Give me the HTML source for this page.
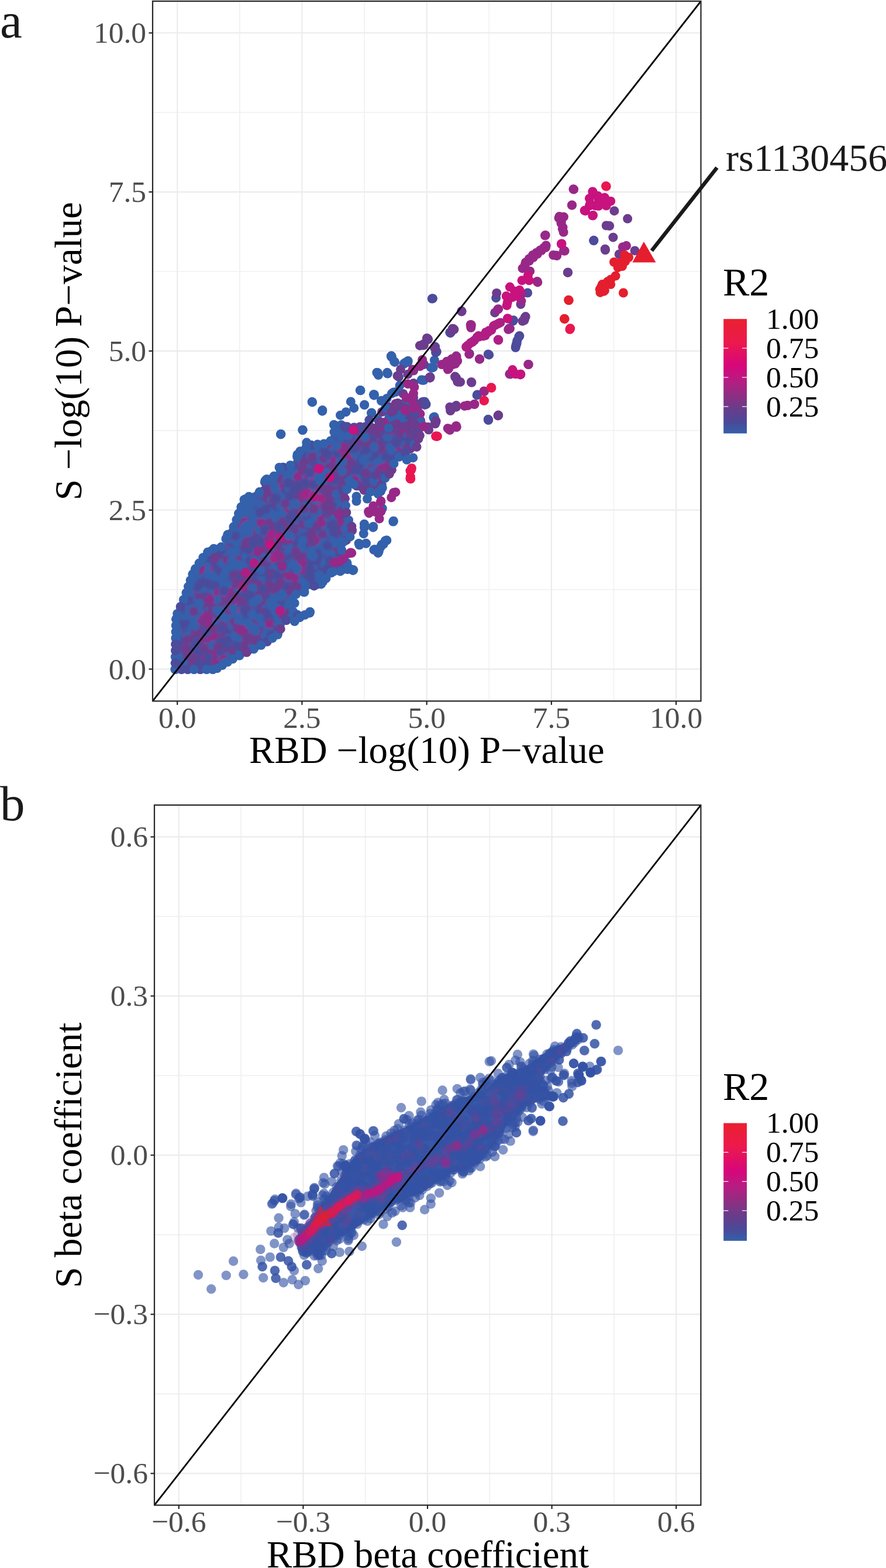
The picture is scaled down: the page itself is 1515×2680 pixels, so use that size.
<!DOCTYPE html><html><head><meta charset="utf-8"><style>html,body{margin:0;padding:0;background:#fff;overflow:hidden}svg{display:block}</style></head><body>
<svg width="1515" height="2680" viewBox="0 0 1515 2680" font-family="'Liberation Serif', 'Times New Roman', serif">
<defs>
<linearGradient id="g0" x1="0" y1="0" x2="0" y2="1"><stop offset="0.0" stop-color="#EA2030"/><stop offset="0.2" stop-color="#EC1A4C"/><stop offset="0.4" stop-color="#D8067A"/><stop offset="0.55" stop-color="#B41E82"/><stop offset="0.68" stop-color="#8A3082"/><stop offset="0.78" stop-color="#6A3C8A"/><stop offset="0.9" stop-color="#4C4898"/><stop offset="1.0" stop-color="#3460AA"/></linearGradient>
<linearGradient id="g1" x1="0" y1="0" x2="0" y2="1"><stop offset="0.0" stop-color="#EA2030"/><stop offset="0.2" stop-color="#EC1A4C"/><stop offset="0.4" stop-color="#D8067A"/><stop offset="0.55" stop-color="#B41E82"/><stop offset="0.68" stop-color="#8A3082"/><stop offset="0.78" stop-color="#6A3C8A"/><stop offset="0.9" stop-color="#4C4898"/><stop offset="1.0" stop-color="#3460AA"/></linearGradient>
<clipPath id="ca"><rect x="261.0" y="2.0" width="937.5" height="1196.3"/></clipPath>
<clipPath id="cb"><rect x="264.0" y="1376.0" width="934.4000000000001" height="1196.6"/></clipPath>
</defs>
<rect width="1515" height="2680" fill="#fff"/>
<rect x="261.0" y="2.0" width="937.5" height="1196.3" fill="#fff"/>
<line x1="409.8" y1="2.0" x2="409.8" y2="1198.3" stroke="#F0F0F0" stroke-width="1.6"/>
<line x1="623.0" y1="2.0" x2="623.0" y2="1198.3" stroke="#F0F0F0" stroke-width="1.6"/>
<line x1="836.3" y1="2.0" x2="836.3" y2="1198.3" stroke="#F0F0F0" stroke-width="1.6"/>
<line x1="1049.5" y1="2.0" x2="1049.5" y2="1198.3" stroke="#F0F0F0" stroke-width="1.6"/>
<line x1="261.0" y1="1007.7" x2="1198.5" y2="1007.7" stroke="#F0F0F0" stroke-width="1.6"/>
<line x1="261.0" y1="735.9" x2="1198.5" y2="735.9" stroke="#F0F0F0" stroke-width="1.6"/>
<line x1="261.0" y1="464.0" x2="1198.5" y2="464.0" stroke="#F0F0F0" stroke-width="1.6"/>
<line x1="261.0" y1="192.2" x2="1198.5" y2="192.2" stroke="#F0F0F0" stroke-width="1.6"/>
<line x1="303.2" y1="2.0" x2="303.2" y2="1198.3" stroke="#EBEBEB" stroke-width="2.1"/>
<line x1="516.4" y1="2.0" x2="516.4" y2="1198.3" stroke="#EBEBEB" stroke-width="2.1"/>
<line x1="729.7" y1="2.0" x2="729.7" y2="1198.3" stroke="#EBEBEB" stroke-width="2.1"/>
<line x1="942.9" y1="2.0" x2="942.9" y2="1198.3" stroke="#EBEBEB" stroke-width="2.1"/>
<line x1="1156.1" y1="2.0" x2="1156.1" y2="1198.3" stroke="#EBEBEB" stroke-width="2.1"/>
<line x1="261.0" y1="1143.6" x2="1198.5" y2="1143.6" stroke="#EBEBEB" stroke-width="2.1"/>
<line x1="261.0" y1="871.8" x2="1198.5" y2="871.8" stroke="#EBEBEB" stroke-width="2.1"/>
<line x1="261.0" y1="599.9" x2="1198.5" y2="599.9" stroke="#EBEBEB" stroke-width="2.1"/>
<line x1="261.0" y1="328.1" x2="1198.5" y2="328.1" stroke="#EBEBEB" stroke-width="2.1"/>
<line x1="261.0" y1="56.3" x2="1198.5" y2="56.3" stroke="#EBEBEB" stroke-width="2.1"/>
<g clip-path="url(#ca)">
<defs><filter id="bl" x="-5%" y="-5%" width="110%" height="110%"><feGaussianBlur stdDeviation="1.6"/></filter><clipPath id="cpa"><polygon points="294.3,1149.3 296.0,1052.9 312.0,1017.0 319.0,995.7 326.4,974.3 346.5,945.3 356.8,935.0 371.3,930.9 383.6,928.8 379.5,916.5 391.9,904.1 397.9,892.1 405.0,870.7 415.7,845.7 433.6,842.1 447.9,831.4 447.9,817.1 472.9,806.4 476.4,795.7 501.4,788.6 505.0,770.7 526.4,756.4 558.6,752.9 565.0,747.0 568.0,728.0 580.0,720.0 600.0,726.0 620.0,724.0 640.0,726.0 660.0,722.0 680.0,724.0 700.0,722.0 715.0,728.0 724.0,745.0 715.7,760.0 701.4,774.3 680.0,788.6 672.9,810.0 658.6,824.3 655.0,845.7 626.4,845.7 601.4,831.4 594.3,845.7 597.9,881.4 608.6,902.9 601.4,924.3 587.1,931.4 590.7,945.7 605.0,974.3 587.1,981.4 565.7,981.4 558.6,999.3 544.3,1006.4 515.7,1006.4 494.3,1017.1 508.6,1024.3 501.4,1038.6 515.7,1052.9 487.1,1067.1 482.0,1086.0 455.0,1104.0 430.0,1117.0 405.0,1127.9 387.1,1138.6 369.3,1149.3"/></clipPath></defs>
<polygon points="294.3,1149.3 296.0,1052.9 312.0,1017.0 319.0,995.7 326.4,974.3 346.5,945.3 356.8,935.0 371.3,930.9 383.6,928.8 379.5,916.5 391.9,904.1 397.9,892.1 405.0,870.7 415.7,845.7 433.6,842.1 447.9,831.4 447.9,817.1 472.9,806.4 476.4,795.7 501.4,788.6 505.0,770.7 526.4,756.4 558.6,752.9 565.0,747.0 568.0,728.0 580.0,720.0 600.0,726.0 620.0,724.0 640.0,726.0 660.0,722.0 680.0,724.0 700.0,722.0 715.0,728.0 724.0,745.0 715.7,760.0 701.4,774.3 680.0,788.6 672.9,810.0 658.6,824.3 655.0,845.7 626.4,845.7 601.4,831.4 594.3,845.7 597.9,881.4 608.6,902.9 601.4,924.3 587.1,931.4 590.7,945.7 605.0,974.3 587.1,981.4 565.7,981.4 558.6,999.3 544.3,1006.4 515.7,1006.4 494.3,1017.1 508.6,1024.3 501.4,1038.6 515.7,1052.9 487.1,1067.1 482.0,1086.0 455.0,1104.0 430.0,1117.0 405.0,1127.9 387.1,1138.6 369.3,1149.3" fill="#4553A2"/>
<g clip-path="url(#cpa)"><g filter="url(#bl)">
<circle cx="411.4" cy="1065.6" r="8.0" fill="#4C4B9C"/>
<circle cx="421.2" cy="889.2" r="8.0" fill="#6C3C8E"/>
<circle cx="472.5" cy="818.5" r="8.0" fill="#6C3C8E"/>
<circle cx="601.2" cy="807.5" r="8.0" fill="#3461AC"/>
<circle cx="549.3" cy="827.7" r="8.0" fill="#3461AC"/>
<circle cx="456.2" cy="937.1" r="8.0" fill="#3461AC"/>
<circle cx="537.0" cy="877.9" r="8.0" fill="#6C3C8E"/>
<circle cx="394.6" cy="911.2" r="8.0" fill="#3461AC"/>
<circle cx="432.9" cy="1007.1" r="8.0" fill="#4C4B9C"/>
<circle cx="525.1" cy="945.9" r="8.0" fill="#3461AC"/>
<circle cx="462.0" cy="974.9" r="8.0" fill="#3461AC"/>
<circle cx="471.8" cy="1066.3" r="8.0" fill="#3461AC"/>
<circle cx="452.7" cy="1087.4" r="8.0" fill="#6C3C8E"/>
<circle cx="592.1" cy="884.2" r="8.0" fill="#6C3C8E"/>
<circle cx="497.3" cy="939.8" r="8.0" fill="#4C4B9C"/>
<circle cx="581.6" cy="953.1" r="8.0" fill="#3461AC"/>
<circle cx="517.8" cy="963.7" r="8.0" fill="#6C3C8E"/>
<circle cx="358.1" cy="1091.9" r="8.0" fill="#3461AC"/>
<circle cx="485.7" cy="887.6" r="8.0" fill="#6C3C8E"/>
<circle cx="506.9" cy="802.2" r="8.0" fill="#4C4B9C"/>
<circle cx="601.8" cy="736.2" r="8.0" fill="#4C4B9C"/>
<circle cx="379.3" cy="1111.6" r="8.0" fill="#4C4B9C"/>
<circle cx="571.2" cy="839.2" r="8.0" fill="#6C3C8E"/>
<circle cx="579.0" cy="882.4" r="8.0" fill="#4C4B9C"/>
<circle cx="461.5" cy="865.6" r="8.0" fill="#4C4B9C"/>
<circle cx="416.6" cy="859.5" r="8.0" fill="#3461AC"/>
<circle cx="439.4" cy="951.5" r="8.0" fill="#4C4B9C"/>
<circle cx="430.6" cy="897.8" r="8.0" fill="#4C4B9C"/>
<circle cx="378.0" cy="1014.9" r="8.0" fill="#4C4B9C"/>
<circle cx="429.4" cy="956.7" r="8.0" fill="#6C3C8E"/>
<circle cx="488.1" cy="1016.2" r="8.0" fill="#4C4B9C"/>
<circle cx="651.3" cy="746.0" r="8.0" fill="#4C4B9C"/>
<circle cx="449.5" cy="909.0" r="8.0" fill="#4C4B9C"/>
<circle cx="475.5" cy="817.9" r="8.0" fill="#3461AC"/>
<circle cx="426.7" cy="1062.7" r="8.0" fill="#6C3C8E"/>
<circle cx="575.9" cy="772.9" r="8.0" fill="#8A2E8A"/>
<circle cx="437.5" cy="948.5" r="8.0" fill="#A02587"/>
<circle cx="396.7" cy="1109.0" r="8.0" fill="#6C3C8E"/>
<circle cx="323.4" cy="1117.3" r="8.0" fill="#6C3C8E"/>
<circle cx="367.9" cy="976.7" r="8.0" fill="#4C4B9C"/>
<circle cx="496.7" cy="979.5" r="8.0" fill="#3461AC"/>
<circle cx="416.7" cy="962.5" r="8.0" fill="#6C3C8E"/>
<circle cx="493.9" cy="1045.0" r="8.0" fill="#4C4B9C"/>
<circle cx="446.4" cy="1061.0" r="8.0" fill="#3461AC"/>
<circle cx="638.8" cy="802.0" r="8.0" fill="#8A2E8A"/>
<circle cx="352.0" cy="1088.5" r="8.0" fill="#6C3C8E"/>
<circle cx="553.2" cy="886.9" r="8.0" fill="#6C3C8E"/>
<circle cx="461.8" cy="876.8" r="8.0" fill="#3461AC"/>
<circle cx="456.4" cy="1051.5" r="8.0" fill="#3461AC"/>
<circle cx="634.1" cy="801.8" r="8.0" fill="#6C3C8E"/>
<circle cx="359.2" cy="968.8" r="8.0" fill="#4C4B9C"/>
<circle cx="573.7" cy="731.4" r="8.0" fill="#3461AC"/>
<circle cx="429.9" cy="910.1" r="8.0" fill="#6C3C8E"/>
<circle cx="408.3" cy="939.5" r="8.0" fill="#3461AC"/>
<circle cx="308.6" cy="1062.3" r="8.0" fill="#3461AC"/>
<circle cx="453.6" cy="937.8" r="8.0" fill="#4C4B9C"/>
<circle cx="351.8" cy="1106.7" r="8.0" fill="#3461AC"/>
<circle cx="572.3" cy="781.1" r="8.0" fill="#3461AC"/>
<circle cx="536.6" cy="764.3" r="8.0" fill="#4C4B9C"/>
<circle cx="594.9" cy="785.0" r="8.0" fill="#4C4B9C"/>
<circle cx="524.4" cy="951.7" r="8.0" fill="#3461AC"/>
<circle cx="381.5" cy="1024.8" r="8.0" fill="#3461AC"/>
<circle cx="450.4" cy="1061.6" r="8.0" fill="#4C4B9C"/>
<circle cx="404.9" cy="978.9" r="8.0" fill="#3461AC"/>
<circle cx="421.9" cy="1078.4" r="8.0" fill="#3461AC"/>
<circle cx="586.0" cy="800.9" r="8.0" fill="#6C3C8E"/>
<circle cx="406.6" cy="924.4" r="8.0" fill="#4C4B9C"/>
<circle cx="348.1" cy="1140.0" r="8.0" fill="#3461AC"/>
<circle cx="303.8" cy="1060.3" r="8.0" fill="#4C4B9C"/>
<circle cx="377.5" cy="946.5" r="8.0" fill="#4C4B9C"/>
<circle cx="352.9" cy="1033.4" r="8.0" fill="#3461AC"/>
<circle cx="528.1" cy="971.4" r="8.0" fill="#4C4B9C"/>
<circle cx="553.7" cy="789.2" r="8.0" fill="#3461AC"/>
<circle cx="590.7" cy="892.2" r="8.0" fill="#3461AC"/>
<circle cx="364.8" cy="1018.2" r="8.0" fill="#4C4B9C"/>
<circle cx="463.4" cy="1065.7" r="8.0" fill="#3461AC"/>
<circle cx="431.0" cy="864.4" r="8.0" fill="#4C4B9C"/>
<circle cx="496.6" cy="1024.2" r="8.0" fill="#3461AC"/>
<circle cx="593.0" cy="750.7" r="8.0" fill="#4C4B9C"/>
<circle cx="368.4" cy="1138.8" r="8.0" fill="#4C4B9C"/>
<circle cx="649.1" cy="771.6" r="8.0" fill="#3461AC"/>
<circle cx="555.9" cy="971.3" r="8.0" fill="#6C3C8E"/>
<circle cx="480.1" cy="931.6" r="8.0" fill="#4C4B9C"/>
<circle cx="409.5" cy="964.0" r="8.0" fill="#8A2E8A"/>
<circle cx="556.8" cy="862.0" r="8.0" fill="#6C3C8E"/>
<circle cx="461.4" cy="939.7" r="8.0" fill="#4C4B9C"/>
<circle cx="497.8" cy="1048.4" r="8.0" fill="#6C3C8E"/>
<circle cx="504.2" cy="869.4" r="8.0" fill="#4C4B9C"/>
<circle cx="372.4" cy="997.1" r="8.0" fill="#3461AC"/>
<circle cx="482.4" cy="950.1" r="8.0" fill="#8A2E8A"/>
<circle cx="527.1" cy="980.8" r="8.0" fill="#3461AC"/>
<circle cx="478.9" cy="906.8" r="8.0" fill="#4C4B9C"/>
<circle cx="662.0" cy="782.3" r="8.0" fill="#6C3C8E"/>
<circle cx="638.8" cy="794.2" r="8.0" fill="#6C3C8E"/>
<circle cx="655.3" cy="792.1" r="8.0" fill="#3461AC"/>
<circle cx="354.6" cy="1016.2" r="8.0" fill="#8A2E8A"/>
<circle cx="652.0" cy="798.8" r="8.0" fill="#3461AC"/>
<circle cx="424.5" cy="1054.4" r="8.0" fill="#4C4B9C"/>
<circle cx="564.1" cy="786.7" r="8.0" fill="#3461AC"/>
<circle cx="401.8" cy="1038.3" r="8.0" fill="#3461AC"/>
<circle cx="331.2" cy="1076.5" r="8.0" fill="#4C4B9C"/>
<circle cx="571.8" cy="884.8" r="8.0" fill="#3461AC"/>
<circle cx="478.6" cy="857.2" r="8.0" fill="#4C4B9C"/>
<circle cx="553.5" cy="895.6" r="8.0" fill="#6C3C8E"/>
<circle cx="542.1" cy="829.3" r="8.0" fill="#6C3C8E"/>
<circle cx="445.4" cy="906.5" r="8.0" fill="#3461AC"/>
<circle cx="515.5" cy="895.3" r="8.0" fill="#4C4B9C"/>
<circle cx="500.4" cy="977.2" r="8.0" fill="#4C4B9C"/>
<circle cx="356.2" cy="1114.6" r="8.0" fill="#4C4B9C"/>
<circle cx="522.1" cy="976.8" r="8.0" fill="#3461AC"/>
<circle cx="654.6" cy="798.8" r="8.0" fill="#3461AC"/>
<circle cx="405.9" cy="919.3" r="8.0" fill="#3461AC"/>
<circle cx="582.4" cy="906.9" r="8.0" fill="#3461AC"/>
<circle cx="636.3" cy="743.3" r="8.0" fill="#6C3C8E"/>
<circle cx="637.1" cy="747.0" r="8.0" fill="#6C3C8E"/>
<circle cx="546.4" cy="889.7" r="8.0" fill="#3461AC"/>
<circle cx="640.6" cy="775.4" r="8.0" fill="#6C3C8E"/>
<circle cx="548.0" cy="866.8" r="8.0" fill="#6C3C8E"/>
<circle cx="551.0" cy="870.9" r="8.0" fill="#4C4B9C"/>
<circle cx="440.5" cy="905.1" r="8.0" fill="#3461AC"/>
<circle cx="698.4" cy="745.7" r="8.0" fill="#4C4B9C"/>
<circle cx="393.6" cy="1079.7" r="8.0" fill="#6C3C8E"/>
<circle cx="451.9" cy="882.0" r="8.0" fill="#6C3C8E"/>
<circle cx="403.6" cy="948.9" r="8.0" fill="#4C4B9C"/>
<circle cx="483.9" cy="1004.5" r="8.0" fill="#6C3C8E"/>
<circle cx="701.5" cy="739.0" r="8.0" fill="#3461AC"/>
<circle cx="422.6" cy="1106.3" r="8.0" fill="#3461AC"/>
<circle cx="449.2" cy="858.3" r="8.0" fill="#6C3C8E"/>
<circle cx="314.7" cy="1042.1" r="8.0" fill="#6C3C8E"/>
<circle cx="546.5" cy="930.7" r="8.0" fill="#6C3C8E"/>
<circle cx="433.1" cy="911.5" r="8.0" fill="#4C4B9C"/>
<circle cx="424.7" cy="1082.6" r="8.0" fill="#4C4B9C"/>
<circle cx="508.7" cy="883.3" r="8.0" fill="#4C4B9C"/>
<circle cx="698.3" cy="734.7" r="8.0" fill="#3461AC"/>
<circle cx="583.9" cy="942.0" r="8.0" fill="#4C4B9C"/>
<circle cx="573.6" cy="870.5" r="8.0" fill="#3461AC"/>
<circle cx="635.4" cy="836.4" r="8.0" fill="#3461AC"/>
<circle cx="431.3" cy="1035.6" r="8.0" fill="#6C3C8E"/>
<circle cx="377.0" cy="1045.4" r="8.0" fill="#6C3C8E"/>
<circle cx="396.7" cy="1034.9" r="8.0" fill="#6C3C8E"/>
<circle cx="428.5" cy="1078.4" r="8.0" fill="#3461AC"/>
<circle cx="378.8" cy="980.1" r="8.0" fill="#4C4B9C"/>
<circle cx="472.7" cy="1036.3" r="8.0" fill="#4C4B9C"/>
<circle cx="410.8" cy="923.4" r="8.0" fill="#3461AC"/>
<circle cx="702.3" cy="755.6" r="8.0" fill="#3461AC"/>
<circle cx="427.5" cy="1079.5" r="8.0" fill="#8A2E8A"/>
<circle cx="590.7" cy="821.5" r="8.0" fill="#6C3C8E"/>
<circle cx="569.4" cy="811.7" r="8.0" fill="#6C3C8E"/>
<circle cx="423.9" cy="933.0" r="8.0" fill="#4C4B9C"/>
<circle cx="510.2" cy="890.6" r="8.0" fill="#3461AC"/>
<circle cx="362.6" cy="1012.8" r="8.0" fill="#4C4B9C"/>
<circle cx="454.3" cy="1093.6" r="8.0" fill="#6C3C8E"/>
<circle cx="533.9" cy="928.2" r="8.0" fill="#4C4B9C"/>
<circle cx="436.1" cy="958.3" r="8.0" fill="#4C4B9C"/>
<circle cx="434.9" cy="1080.6" r="8.0" fill="#3461AC"/>
<circle cx="553.5" cy="835.6" r="8.0" fill="#4C4B9C"/>
<circle cx="517.0" cy="975.1" r="8.0" fill="#3461AC"/>
<circle cx="566.7" cy="938.6" r="8.0" fill="#8A2E8A"/>
<circle cx="474.2" cy="970.2" r="8.0" fill="#6C3C8E"/>
<circle cx="495.6" cy="997.5" r="8.0" fill="#6C3C8E"/>
<circle cx="576.6" cy="968.8" r="8.0" fill="#6C3C8E"/>
<circle cx="540.1" cy="829.8" r="8.0" fill="#A02587"/>
<circle cx="557.8" cy="837.4" r="8.0" fill="#3461AC"/>
<circle cx="429.8" cy="852.9" r="8.0" fill="#3461AC"/>
<circle cx="517.0" cy="860.7" r="8.0" fill="#A02587"/>
<circle cx="565.0" cy="956.4" r="8.0" fill="#6C3C8E"/>
<circle cx="638.5" cy="747.8" r="8.0" fill="#4C4B9C"/>
<circle cx="598.0" cy="748.8" r="8.0" fill="#4C4B9C"/>
<circle cx="371.6" cy="1130.6" r="8.0" fill="#3461AC"/>
<circle cx="443.5" cy="893.0" r="8.0" fill="#4C4B9C"/>
<circle cx="359.9" cy="996.7" r="8.0" fill="#4C4B9C"/>
<circle cx="369.0" cy="937.7" r="8.0" fill="#4C4B9C"/>
<circle cx="556.9" cy="833.0" r="8.0" fill="#6C3C8E"/>
<circle cx="609.2" cy="787.6" r="8.0" fill="#4C4B9C"/>
<circle cx="563.5" cy="857.0" r="8.0" fill="#6C3C8E"/>
<circle cx="416.9" cy="1030.0" r="8.0" fill="#6C3C8E"/>
<circle cx="550.4" cy="973.8" r="8.0" fill="#4C4B9C"/>
<circle cx="385.4" cy="1002.3" r="8.0" fill="#6C3C8E"/>
<circle cx="374.7" cy="1056.8" r="8.0" fill="#3461AC"/>
<circle cx="344.6" cy="1010.5" r="8.0" fill="#3461AC"/>
<circle cx="665.5" cy="766.8" r="8.0" fill="#4C4B9C"/>
<circle cx="365.4" cy="1119.8" r="8.0" fill="#3461AC"/>
<circle cx="359.5" cy="960.5" r="8.0" fill="#3461AC"/>
<circle cx="331.6" cy="1112.7" r="8.0" fill="#6C3C8E"/>
<circle cx="418.3" cy="982.5" r="8.0" fill="#4C4B9C"/>
<circle cx="478.3" cy="1006.3" r="8.0" fill="#3461AC"/>
<circle cx="388.2" cy="1023.6" r="8.0" fill="#4C4B9C"/>
<circle cx="523.1" cy="842.2" r="8.0" fill="#6C3C8E"/>
<circle cx="550.4" cy="920.8" r="8.0" fill="#4C4B9C"/>
<circle cx="380.7" cy="1044.7" r="8.0" fill="#8A2E8A"/>
<circle cx="545.4" cy="782.8" r="8.0" fill="#3461AC"/>
<circle cx="453.7" cy="983.9" r="8.0" fill="#3461AC"/>
<circle cx="440.7" cy="924.3" r="8.0" fill="#6C3C8E"/>
<circle cx="517.3" cy="867.3" r="8.0" fill="#3461AC"/>
<circle cx="634.9" cy="832.7" r="8.0" fill="#6C3C8E"/>
<circle cx="564.2" cy="909.9" r="8.0" fill="#3461AC"/>
<circle cx="319.5" cy="1139.7" r="8.0" fill="#6C3C8E"/>
<circle cx="499.9" cy="800.4" r="8.0" fill="#3461AC"/>
<circle cx="409.7" cy="946.4" r="8.0" fill="#3461AC"/>
<circle cx="482.2" cy="939.8" r="8.0" fill="#6C3C8E"/>
<circle cx="469.6" cy="1076.3" r="8.0" fill="#6C3C8E"/>
<circle cx="465.8" cy="914.9" r="8.0" fill="#8A2E8A"/>
<circle cx="410.9" cy="1104.4" r="8.0" fill="#6C3C8E"/>
<circle cx="475.6" cy="996.1" r="8.0" fill="#6C3C8E"/>
<circle cx="444.1" cy="896.9" r="8.0" fill="#6C3C8E"/>
<circle cx="628.4" cy="799.6" r="8.0" fill="#6C3C8E"/>
<circle cx="595.2" cy="795.8" r="8.0" fill="#4C4B9C"/>
<circle cx="547.8" cy="838.1" r="8.0" fill="#3461AC"/>
<circle cx="394.7" cy="1032.5" r="8.0" fill="#3461AC"/>
<circle cx="431.9" cy="1017.0" r="8.0" fill="#6C3C8E"/>
<circle cx="424.6" cy="1107.9" r="8.0" fill="#6C3C8E"/>
<circle cx="360.4" cy="1090.8" r="8.0" fill="#4C4B9C"/>
<circle cx="468.2" cy="833.3" r="8.0" fill="#3461AC"/>
<circle cx="494.4" cy="943.9" r="8.0" fill="#4C4B9C"/>
<circle cx="401.7" cy="984.4" r="8.0" fill="#4C4B9C"/>
<circle cx="448.9" cy="1052.3" r="8.0" fill="#4C4B9C"/>
<circle cx="510.0" cy="865.1" r="8.0" fill="#8A2E8A"/>
<circle cx="412.3" cy="988.9" r="8.0" fill="#3461AC"/>
<circle cx="413.3" cy="923.5" r="8.0" fill="#3461AC"/>
<circle cx="484.6" cy="1022.9" r="8.0" fill="#3461AC"/>
<circle cx="386.4" cy="982.3" r="8.0" fill="#3461AC"/>
<circle cx="594.9" cy="812.5" r="8.0" fill="#6C3C8E"/>
<circle cx="473.3" cy="936.7" r="8.0" fill="#3461AC"/>
<circle cx="416.7" cy="1028.1" r="8.0" fill="#8A2E8A"/>
<circle cx="485.4" cy="958.4" r="8.0" fill="#6C3C8E"/>
<circle cx="559.0" cy="810.0" r="8.0" fill="#A02587"/>
<circle cx="412.8" cy="879.3" r="8.0" fill="#3461AC"/>
<circle cx="410.3" cy="1029.9" r="8.0" fill="#A02587"/>
<circle cx="462.5" cy="972.0" r="8.0" fill="#4C4B9C"/>
<circle cx="484.6" cy="1025.5" r="8.0" fill="#3461AC"/>
<circle cx="389.3" cy="1057.4" r="8.0" fill="#6C3C8E"/>
<circle cx="369.1" cy="1138.9" r="8.0" fill="#3461AC"/>
<circle cx="528.6" cy="786.0" r="8.0" fill="#3461AC"/>
<circle cx="383.7" cy="1028.7" r="8.0" fill="#8A2E8A"/>
<circle cx="456.4" cy="888.8" r="8.0" fill="#6C3C8E"/>
<circle cx="536.9" cy="913.0" r="8.0" fill="#4C4B9C"/>
<circle cx="474.1" cy="939.6" r="8.0" fill="#A02587"/>
<circle cx="507.7" cy="907.3" r="8.0" fill="#4C4B9C"/>
<circle cx="501.5" cy="806.5" r="8.0" fill="#4C4B9C"/>
<circle cx="562.9" cy="775.1" r="8.0" fill="#3461AC"/>
<circle cx="505.1" cy="977.8" r="8.0" fill="#8A2E8A"/>
<circle cx="453.9" cy="1076.3" r="8.0" fill="#6C3C8E"/>
<circle cx="399.1" cy="984.3" r="8.0" fill="#3461AC"/>
<circle cx="441.8" cy="998.8" r="8.0" fill="#3461AC"/>
<circle cx="330.1" cy="1119.0" r="8.0" fill="#3461AC"/>
<circle cx="635.8" cy="820.6" r="8.0" fill="#6C3C8E"/>
<circle cx="342.7" cy="1054.4" r="8.0" fill="#4C4B9C"/>
<circle cx="519.1" cy="880.3" r="8.0" fill="#6C3C8E"/>
<circle cx="356.9" cy="1051.8" r="8.0" fill="#8A2E8A"/>
<circle cx="462.9" cy="1050.2" r="8.0" fill="#6C3C8E"/>
<circle cx="436.9" cy="939.6" r="8.0" fill="#4C4B9C"/>
<circle cx="678.1" cy="756.8" r="8.0" fill="#4C4B9C"/>
<circle cx="359.8" cy="1045.3" r="8.0" fill="#3461AC"/>
<circle cx="552.9" cy="866.6" r="8.0" fill="#4C4B9C"/>
<circle cx="537.3" cy="788.7" r="8.0" fill="#4C4B9C"/>
<circle cx="312.6" cy="1080.5" r="8.0" fill="#4C4B9C"/>
<circle cx="524.5" cy="791.1" r="8.0" fill="#3461AC"/>
<circle cx="518.7" cy="951.1" r="8.0" fill="#6C3C8E"/>
<circle cx="347.5" cy="1138.2" r="8.0" fill="#3461AC"/>
<circle cx="584.6" cy="834.5" r="8.0" fill="#3461AC"/>
<circle cx="481.2" cy="964.2" r="8.0" fill="#3461AC"/>
<circle cx="380.5" cy="1116.1" r="8.0" fill="#3461AC"/>
<circle cx="404.3" cy="954.0" r="8.0" fill="#6C3C8E"/>
<circle cx="480.1" cy="868.0" r="8.0" fill="#4C4B9C"/>
<circle cx="572.3" cy="971.8" r="8.0" fill="#4C4B9C"/>
<circle cx="557.5" cy="937.5" r="8.0" fill="#3461AC"/>
<circle cx="363.8" cy="939.0" r="8.0" fill="#3461AC"/>
<circle cx="465.6" cy="868.1" r="8.0" fill="#4C4B9C"/>
<circle cx="422.5" cy="1036.5" r="8.0" fill="#4C4B9C"/>
<circle cx="455.6" cy="875.2" r="8.0" fill="#3461AC"/>
<circle cx="464.0" cy="1030.0" r="8.0" fill="#6C3C8E"/>
<circle cx="432.6" cy="863.3" r="8.0" fill="#6C3C8E"/>
<circle cx="587.5" cy="798.5" r="8.0" fill="#4C4B9C"/>
<circle cx="660.0" cy="741.2" r="8.0" fill="#3461AC"/>
<circle cx="338.9" cy="1137.8" r="8.0" fill="#3461AC"/>
<circle cx="526.9" cy="822.6" r="8.0" fill="#3461AC"/>
<circle cx="401.9" cy="962.0" r="8.0" fill="#4C4B9C"/>
<circle cx="448.4" cy="1033.2" r="8.0" fill="#3461AC"/>
<circle cx="347.1" cy="972.7" r="8.0" fill="#4C4B9C"/>
<circle cx="451.8" cy="923.1" r="8.0" fill="#4C4B9C"/>
<circle cx="666.3" cy="733.5" r="8.0" fill="#6C3C8E"/>
<circle cx="538.1" cy="820.3" r="8.0" fill="#3461AC"/>
<circle cx="563.4" cy="776.8" r="8.0" fill="#3461AC"/>
<circle cx="503.7" cy="813.8" r="8.0" fill="#3461AC"/>
<circle cx="496.8" cy="803.4" r="8.0" fill="#6C3C8E"/>
<circle cx="644.1" cy="731.7" r="8.0" fill="#4C4B9C"/>
<circle cx="456.1" cy="828.8" r="8.0" fill="#3461AC"/>
<circle cx="551.0" cy="897.4" r="8.0" fill="#3461AC"/>
<circle cx="356.0" cy="1020.9" r="8.0" fill="#8A2E8A"/>
<circle cx="662.1" cy="792.1" r="8.0" fill="#6C3C8E"/>
<circle cx="445.3" cy="1006.1" r="8.0" fill="#3461AC"/>
<circle cx="334.0" cy="973.4" r="8.0" fill="#3461AC"/>
<circle cx="370.2" cy="1033.4" r="8.0" fill="#4C4B9C"/>
<circle cx="376.7" cy="1027.8" r="8.0" fill="#3461AC"/>
<circle cx="592.8" cy="885.8" r="8.0" fill="#6C3C8E"/>
<circle cx="571.2" cy="870.8" r="8.0" fill="#6C3C8E"/>
<circle cx="458.6" cy="885.0" r="8.0" fill="#3461AC"/>
<circle cx="464.3" cy="1066.1" r="8.0" fill="#3461AC"/>
<circle cx="571.3" cy="903.3" r="8.0" fill="#3461AC"/>
<circle cx="539.1" cy="811.4" r="8.0" fill="#3461AC"/>
<circle cx="583.7" cy="920.9" r="8.0" fill="#8A2E8A"/>
<circle cx="447.5" cy="850.1" r="8.0" fill="#6C3C8E"/>
<circle cx="327.3" cy="1119.3" r="8.0" fill="#6C3C8E"/>
<circle cx="314.7" cy="1033.4" r="8.0" fill="#6C3C8E"/>
<circle cx="574.6" cy="811.8" r="8.0" fill="#4C4B9C"/>
<circle cx="503.5" cy="883.3" r="8.0" fill="#4C4B9C"/>
<circle cx="650.5" cy="803.1" r="8.0" fill="#4C4B9C"/>
<circle cx="560.9" cy="865.9" r="8.0" fill="#3461AC"/>
<circle cx="491.5" cy="1035.7" r="8.0" fill="#6C3C8E"/>
<circle cx="419.3" cy="896.6" r="8.0" fill="#3461AC"/>
<circle cx="359.4" cy="1083.7" r="8.0" fill="#8A2E8A"/>
<circle cx="497.6" cy="824.7" r="8.0" fill="#3461AC"/>
<circle cx="374.6" cy="945.9" r="8.0" fill="#4C4B9C"/>
<circle cx="347.1" cy="1142.8" r="8.0" fill="#3461AC"/>
<circle cx="521.2" cy="901.7" r="8.0" fill="#4C4B9C"/>
<circle cx="475.7" cy="998.7" r="8.0" fill="#3461AC"/>
<circle cx="633.0" cy="806.3" r="8.0" fill="#3461AC"/>
<circle cx="472.6" cy="815.4" r="8.0" fill="#3461AC"/>
<circle cx="454.5" cy="862.9" r="8.0" fill="#3461AC"/>
<circle cx="449.9" cy="1092.5" r="8.0" fill="#4C4B9C"/>
<circle cx="667.5" cy="735.7" r="8.0" fill="#8A2E8A"/>
<circle cx="402.0" cy="1045.0" r="8.0" fill="#6C3C8E"/>
<circle cx="366.2" cy="948.5" r="8.0" fill="#3461AC"/>
<circle cx="622.4" cy="833.0" r="8.0" fill="#3461AC"/>
<circle cx="483.8" cy="977.3" r="8.0" fill="#3461AC"/>
<circle cx="458.6" cy="1053.9" r="8.0" fill="#4C4B9C"/>
<circle cx="351.5" cy="1021.5" r="8.0" fill="#6C3C8E"/>
<circle cx="580.6" cy="904.0" r="8.0" fill="#3461AC"/>
<circle cx="555.4" cy="964.1" r="8.0" fill="#3461AC"/>
<circle cx="306.2" cy="1102.8" r="8.0" fill="#6C3C8E"/>
<circle cx="532.6" cy="988.2" r="8.0" fill="#4C4B9C"/>
<circle cx="476.2" cy="1032.9" r="8.0" fill="#3461AC"/>
<circle cx="710.9" cy="757.6" r="8.0" fill="#4C4B9C"/>
<circle cx="594.5" cy="793.3" r="8.0" fill="#3461AC"/>
<circle cx="517.6" cy="898.6" r="8.0" fill="#3461AC"/>
<circle cx="499.8" cy="882.5" r="8.0" fill="#4C4B9C"/>
<circle cx="541.2" cy="956.0" r="8.0" fill="#4C4B9C"/>
<circle cx="435.2" cy="1047.9" r="8.0" fill="#8A2E8A"/>
<circle cx="410.2" cy="1112.2" r="8.0" fill="#3461AC"/>
<circle cx="515.6" cy="994.5" r="8.0" fill="#8A2E8A"/>
<circle cx="597.5" cy="812.3" r="8.0" fill="#6C3C8E"/>
<circle cx="364.9" cy="943.9" r="8.0" fill="#4C4B9C"/>
<circle cx="523.4" cy="912.3" r="8.0" fill="#3461AC"/>
<circle cx="535.3" cy="831.3" r="8.0" fill="#3461AC"/>
<circle cx="449.2" cy="872.6" r="8.0" fill="#4C4B9C"/>
<circle cx="464.2" cy="907.6" r="8.0" fill="#8A2E8A"/>
<circle cx="603.7" cy="781.4" r="8.0" fill="#3461AC"/>
<circle cx="496.6" cy="915.8" r="8.0" fill="#3461AC"/>
<circle cx="596.6" cy="798.6" r="8.0" fill="#3461AC"/>
<circle cx="572.2" cy="898.3" r="8.0" fill="#4C4B9C"/>
<circle cx="322.2" cy="1132.1" r="8.0" fill="#4C4B9C"/>
<circle cx="454.8" cy="1010.9" r="8.0" fill="#6C3C8E"/>
<circle cx="535.3" cy="815.2" r="8.0" fill="#A02587"/>
<circle cx="479.3" cy="813.0" r="8.0" fill="#3461AC"/>
<circle cx="394.1" cy="921.2" r="8.0" fill="#6C3C8E"/>
<circle cx="380.1" cy="987.6" r="8.0" fill="#4C4B9C"/>
<circle cx="459.3" cy="963.1" r="8.0" fill="#8A2E8A"/>
<circle cx="553.0" cy="768.9" r="8.0" fill="#3461AC"/>
<circle cx="355.9" cy="1021.9" r="8.0" fill="#4C4B9C"/>
<circle cx="454.5" cy="856.1" r="8.0" fill="#4C4B9C"/>
<circle cx="543.8" cy="819.3" r="8.0" fill="#3461AC"/>
<circle cx="376.7" cy="950.3" r="8.0" fill="#8A2E8A"/>
<circle cx="437.6" cy="955.3" r="8.0" fill="#4C4B9C"/>
<circle cx="377.2" cy="1068.1" r="8.0" fill="#3461AC"/>
<circle cx="566.4" cy="815.2" r="8.0" fill="#8A2E8A"/>
<circle cx="607.0" cy="764.5" r="8.0" fill="#6C3C8E"/>
<circle cx="448.5" cy="1058.6" r="8.0" fill="#3461AC"/>
<circle cx="454.4" cy="999.8" r="8.0" fill="#6C3C8E"/>
<circle cx="432.7" cy="986.0" r="8.0" fill="#3461AC"/>
<circle cx="512.1" cy="817.8" r="8.0" fill="#3461AC"/>
<circle cx="557.5" cy="868.0" r="8.0" fill="#6C3C8E"/>
<circle cx="484.0" cy="1039.8" r="8.0" fill="#3461AC"/>
<circle cx="440.0" cy="994.7" r="8.0" fill="#4C4B9C"/>
<circle cx="424.9" cy="952.5" r="8.0" fill="#3461AC"/>
<circle cx="493.5" cy="1003.3" r="8.0" fill="#6C3C8E"/>
<circle cx="516.6" cy="910.2" r="8.0" fill="#6C3C8E"/>
<circle cx="522.0" cy="972.2" r="8.0" fill="#6C3C8E"/>
<circle cx="410.2" cy="1004.5" r="8.0" fill="#3461AC"/>
<circle cx="557.6" cy="846.8" r="8.0" fill="#6C3C8E"/>
<circle cx="640.7" cy="834.0" r="8.0" fill="#6C3C8E"/>
<circle cx="507.9" cy="996.4" r="8.0" fill="#4C4B9C"/>
<circle cx="543.0" cy="875.2" r="8.0" fill="#3461AC"/>
<circle cx="410.8" cy="945.4" r="8.0" fill="#3461AC"/>
<circle cx="681.9" cy="774.0" r="8.0" fill="#6C3C8E"/>
<circle cx="423.2" cy="1065.6" r="8.0" fill="#4C4B9C"/>
<circle cx="488.7" cy="871.7" r="8.0" fill="#4C4B9C"/>
<circle cx="424.4" cy="1103.0" r="8.0" fill="#6C3C8E"/>
<circle cx="332.3" cy="995.3" r="8.0" fill="#3461AC"/>
<circle cx="578.9" cy="732.3" r="8.0" fill="#3461AC"/>
<circle cx="666.2" cy="730.9" r="8.0" fill="#4C4B9C"/>
<circle cx="356.7" cy="1110.8" r="8.0" fill="#6C3C8E"/>
<circle cx="431.8" cy="1012.4" r="8.0" fill="#4C4B9C"/>
<circle cx="552.3" cy="858.7" r="8.0" fill="#4C4B9C"/>
<circle cx="505.1" cy="855.9" r="8.0" fill="#8A2E8A"/>
<circle cx="447.5" cy="938.0" r="8.0" fill="#6C3C8E"/>
<circle cx="579.2" cy="942.8" r="8.0" fill="#3461AC"/>
<circle cx="337.2" cy="1117.8" r="8.0" fill="#6C3C8E"/>
<circle cx="517.5" cy="994.4" r="8.0" fill="#3461AC"/>
<circle cx="515.8" cy="993.6" r="8.0" fill="#3461AC"/>
<circle cx="541.4" cy="903.0" r="8.0" fill="#4C4B9C"/>
<circle cx="330.8" cy="1104.5" r="8.0" fill="#3461AC"/>
<circle cx="626.6" cy="821.1" r="8.0" fill="#6C3C8E"/>
<circle cx="338.0" cy="1064.4" r="8.0" fill="#3461AC"/>
<circle cx="446.1" cy="1042.9" r="8.0" fill="#3461AC"/>
<circle cx="573.5" cy="769.8" r="8.0" fill="#4C4B9C"/>
<circle cx="485.5" cy="845.7" r="8.0" fill="#3461AC"/>
<circle cx="439.0" cy="916.1" r="8.0" fill="#6C3C8E"/>
<circle cx="315.9" cy="1123.9" r="8.0" fill="#6C3C8E"/>
<circle cx="455.7" cy="1093.8" r="8.0" fill="#4C4B9C"/>
<circle cx="462.8" cy="890.8" r="8.0" fill="#3461AC"/>
<circle cx="400.8" cy="1082.5" r="8.0" fill="#8A2E8A"/>
<circle cx="359.0" cy="1140.3" r="8.0" fill="#4C4B9C"/>
<circle cx="339.7" cy="1118.5" r="8.0" fill="#4C4B9C"/>
<circle cx="319.1" cy="1069.6" r="8.0" fill="#3461AC"/>
<circle cx="430.0" cy="965.9" r="8.0" fill="#4C4B9C"/>
<circle cx="568.3" cy="963.6" r="8.0" fill="#3461AC"/>
<circle cx="476.1" cy="1001.5" r="8.0" fill="#6C3C8E"/>
<circle cx="511.1" cy="794.3" r="8.0" fill="#6C3C8E"/>
<circle cx="337.0" cy="1098.0" r="8.0" fill="#3461AC"/>
<circle cx="554.3" cy="769.0" r="8.0" fill="#3461AC"/>
<circle cx="543.6" cy="761.5" r="8.0" fill="#4C4B9C"/>
<circle cx="578.5" cy="946.8" r="8.0" fill="#3461AC"/>
<circle cx="581.1" cy="860.2" r="8.0" fill="#3461AC"/>
<circle cx="635.8" cy="812.0" r="8.0" fill="#6C3C8E"/>
<circle cx="338.3" cy="1007.1" r="8.0" fill="#3461AC"/>
<circle cx="468.8" cy="1012.3" r="8.0" fill="#3461AC"/>
<circle cx="584.7" cy="865.6" r="8.0" fill="#3461AC"/>
<circle cx="442.7" cy="1031.7" r="8.0" fill="#4C4B9C"/>
<circle cx="685.7" cy="756.5" r="8.0" fill="#4C4B9C"/>
<circle cx="384.1" cy="1056.2" r="8.0" fill="#3461AC"/>
<circle cx="581.0" cy="835.7" r="8.0" fill="#4C4B9C"/>
<circle cx="537.3" cy="844.3" r="8.0" fill="#6C3C8E"/>
<circle cx="521.3" cy="861.3" r="8.0" fill="#6C3C8E"/>
<circle cx="509.5" cy="782.4" r="8.0" fill="#3461AC"/>
<circle cx="467.6" cy="890.3" r="8.0" fill="#3461AC"/>
<circle cx="574.8" cy="811.7" r="8.0" fill="#6C3C8E"/>
<circle cx="369.9" cy="980.9" r="8.0" fill="#4C4B9C"/>
<circle cx="388.4" cy="946.0" r="8.0" fill="#3461AC"/>
<circle cx="527.4" cy="911.4" r="8.0" fill="#6C3C8E"/>
<circle cx="391.5" cy="1100.4" r="8.0" fill="#8A2E8A"/>
<circle cx="698.6" cy="769.0" r="8.0" fill="#4C4B9C"/>
<circle cx="495.1" cy="818.6" r="8.0" fill="#3461AC"/>
<circle cx="514.6" cy="916.6" r="8.0" fill="#3461AC"/>
<circle cx="446.6" cy="1061.4" r="8.0" fill="#3461AC"/>
<circle cx="615.6" cy="732.0" r="8.0" fill="#4C4B9C"/>
<circle cx="382.2" cy="1026.3" r="8.0" fill="#A02587"/>
<circle cx="524.7" cy="768.6" r="8.0" fill="#3461AC"/>
<circle cx="424.7" cy="905.7" r="8.0" fill="#3461AC"/>
<circle cx="535.1" cy="784.4" r="8.0" fill="#8A2E8A"/>
<circle cx="555.7" cy="893.0" r="8.0" fill="#8A2E8A"/>
<circle cx="485.5" cy="853.7" r="8.0" fill="#3461AC"/>
<circle cx="437.6" cy="875.3" r="8.0" fill="#6C3C8E"/>
<circle cx="563.4" cy="855.4" r="8.0" fill="#8A2E8A"/>
<circle cx="433.0" cy="950.9" r="8.0" fill="#6C3C8E"/>
<circle cx="451.7" cy="1070.4" r="8.0" fill="#3461AC"/>
<circle cx="570.0" cy="968.4" r="8.0" fill="#3461AC"/>
<circle cx="486.2" cy="931.5" r="8.0" fill="#6C3C8E"/>
<circle cx="498.1" cy="911.8" r="8.0" fill="#6C3C8E"/>
<circle cx="384.0" cy="1030.5" r="8.0" fill="#8A2E8A"/>
<circle cx="622.9" cy="740.7" r="8.0" fill="#6C3C8E"/>
<circle cx="330.3" cy="1087.7" r="8.0" fill="#3461AC"/>
<circle cx="623.4" cy="792.5" r="8.0" fill="#8A2E8A"/>
<circle cx="571.6" cy="841.2" r="8.0" fill="#8A2E8A"/>
<circle cx="509.8" cy="960.8" r="8.0" fill="#3461AC"/>
<circle cx="476.5" cy="920.2" r="8.0" fill="#4C4B9C"/>
<circle cx="578.0" cy="904.8" r="8.0" fill="#6C3C8E"/>
<circle cx="552.0" cy="919.2" r="8.0" fill="#6C3C8E"/>
<circle cx="610.4" cy="758.3" r="8.0" fill="#6C3C8E"/>
<circle cx="321.3" cy="1061.0" r="8.0" fill="#4C4B9C"/>
<circle cx="571.1" cy="912.4" r="8.0" fill="#4C4B9C"/>
<circle cx="477.9" cy="913.9" r="8.0" fill="#6C3C8E"/>
<circle cx="381.9" cy="1050.6" r="8.0" fill="#4C4B9C"/>
<circle cx="457.5" cy="924.1" r="8.0" fill="#3461AC"/>
<circle cx="470.4" cy="887.9" r="8.0" fill="#4C4B9C"/>
<circle cx="546.4" cy="832.4" r="8.0" fill="#6C3C8E"/>
<circle cx="543.4" cy="946.7" r="8.0" fill="#4C4B9C"/>
<circle cx="492.4" cy="834.0" r="8.0" fill="#6C3C8E"/>
<circle cx="429.1" cy="912.4" r="8.0" fill="#3461AC"/>
<circle cx="346.8" cy="1104.1" r="8.0" fill="#3461AC"/>
<circle cx="431.1" cy="951.0" r="8.0" fill="#6C3C8E"/>
<circle cx="330.2" cy="1039.7" r="8.0" fill="#4C4B9C"/>
<circle cx="597.2" cy="742.0" r="8.0" fill="#4C4B9C"/>
<circle cx="432.4" cy="927.7" r="8.0" fill="#4C4B9C"/>
<circle cx="545.9" cy="796.6" r="8.0" fill="#3461AC"/>
<circle cx="556.1" cy="795.5" r="8.0" fill="#6C3C8E"/>
<circle cx="368.7" cy="1032.8" r="8.0" fill="#8A2E8A"/>
<circle cx="391.2" cy="948.9" r="8.0" fill="#3461AC"/>
<circle cx="403.9" cy="1099.4" r="8.0" fill="#4C4B9C"/>
<circle cx="400.2" cy="1099.2" r="8.0" fill="#4C4B9C"/>
<circle cx="456.3" cy="970.7" r="8.0" fill="#6C3C8E"/>
<circle cx="468.6" cy="1006.1" r="8.0" fill="#3461AC"/>
<circle cx="321.1" cy="1012.2" r="8.0" fill="#4C4B9C"/>
<circle cx="390.6" cy="1100.3" r="8.0" fill="#6C3C8E"/>
<circle cx="379.1" cy="988.2" r="8.0" fill="#4C4B9C"/>
<circle cx="335.2" cy="1107.2" r="8.0" fill="#3461AC"/>
<circle cx="305.5" cy="1079.8" r="8.0" fill="#6C3C8E"/>
<circle cx="536.4" cy="922.5" r="8.0" fill="#6C3C8E"/>
<circle cx="513.7" cy="962.6" r="8.0" fill="#6C3C8E"/>
<circle cx="475.6" cy="1082.5" r="8.0" fill="#4C4B9C"/>
<circle cx="424.6" cy="1077.5" r="8.0" fill="#3461AC"/>
<circle cx="475.5" cy="1025.2" r="8.0" fill="#4C4B9C"/>
<circle cx="397.3" cy="1042.8" r="8.0" fill="#6C3C8E"/>
<circle cx="396.1" cy="1071.5" r="8.0" fill="#6C3C8E"/>
<circle cx="372.9" cy="947.0" r="8.0" fill="#6C3C8E"/>
<circle cx="389.6" cy="1070.9" r="8.0" fill="#8A2E8A"/>
<circle cx="502.3" cy="978.2" r="8.0" fill="#6C3C8E"/>
<circle cx="487.2" cy="989.0" r="8.0" fill="#4C4B9C"/>
<circle cx="443.4" cy="881.7" r="8.0" fill="#3461AC"/>
<circle cx="438.2" cy="1068.1" r="8.0" fill="#3461AC"/>
<circle cx="543.3" cy="989.1" r="8.0" fill="#3461AC"/>
<circle cx="329.1" cy="1120.3" r="8.0" fill="#4C4B9C"/>
<circle cx="341.6" cy="1055.8" r="8.0" fill="#6C3C8E"/>
<circle cx="411.8" cy="1038.3" r="8.0" fill="#4C4B9C"/>
<circle cx="306.1" cy="1132.6" r="8.0" fill="#6C3C8E"/>
<circle cx="587.5" cy="771.8" r="8.0" fill="#6C3C8E"/>
<circle cx="521.4" cy="845.7" r="8.0" fill="#6C3C8E"/>
<circle cx="435.9" cy="902.8" r="8.0" fill="#4C4B9C"/>
<circle cx="330.3" cy="1073.9" r="8.0" fill="#3461AC"/>
<circle cx="576.8" cy="942.9" r="8.0" fill="#4C4B9C"/>
<circle cx="427.2" cy="1050.9" r="8.0" fill="#6C3C8E"/>
<circle cx="654.3" cy="782.7" r="8.0" fill="#4C4B9C"/>
<circle cx="497.5" cy="1044.1" r="8.0" fill="#4C4B9C"/>
<circle cx="541.2" cy="866.5" r="8.0" fill="#A02587"/>
<circle cx="404.0" cy="982.1" r="8.0" fill="#6C3C8E"/>
<circle cx="421.7" cy="1093.2" r="8.0" fill="#3461AC"/>
<circle cx="559.6" cy="779.8" r="8.0" fill="#6C3C8E"/>
<circle cx="450.3" cy="843.4" r="8.0" fill="#3461AC"/>
<circle cx="436.8" cy="958.8" r="8.0" fill="#6C3C8E"/>
<circle cx="473.3" cy="1039.1" r="8.0" fill="#6C3C8E"/>
<circle cx="690.7" cy="773.1" r="8.0" fill="#4C4B9C"/>
<circle cx="463.1" cy="820.4" r="8.0" fill="#4C4B9C"/>
<circle cx="496.2" cy="997.4" r="8.0" fill="#4C4B9C"/>
<circle cx="468.6" cy="961.2" r="8.0" fill="#4C4B9C"/>
<circle cx="434.0" cy="866.1" r="8.0" fill="#6C3C8E"/>
<circle cx="438.0" cy="978.0" r="8.0" fill="#4C4B9C"/>
<circle cx="496.7" cy="895.8" r="8.0" fill="#6C3C8E"/>
<circle cx="635.1" cy="759.8" r="8.0" fill="#3461AC"/>
<circle cx="390.1" cy="987.8" r="8.0" fill="#6C3C8E"/>
<circle cx="606.9" cy="734.8" r="8.0" fill="#8A2E8A"/>
<circle cx="358.3" cy="1099.8" r="8.0" fill="#4C4B9C"/>
<circle cx="455.6" cy="1044.4" r="8.0" fill="#4C4B9C"/>
<circle cx="596.3" cy="900.5" r="8.0" fill="#6C3C8E"/>
<circle cx="354.9" cy="964.8" r="8.0" fill="#8A2E8A"/>
<circle cx="420.5" cy="891.7" r="8.0" fill="#4C4B9C"/>
<circle cx="459.6" cy="893.0" r="8.0" fill="#6C3C8E"/>
<circle cx="573.2" cy="863.3" r="8.0" fill="#3461AC"/>
<circle cx="521.9" cy="801.9" r="8.0" fill="#6C3C8E"/>
<circle cx="650.3" cy="816.9" r="8.0" fill="#3461AC"/>
<circle cx="540.2" cy="767.1" r="8.0" fill="#8A2E8A"/>
<circle cx="481.7" cy="928.6" r="8.0" fill="#3461AC"/>
<circle cx="431.8" cy="1029.3" r="8.0" fill="#4C4B9C"/>
<circle cx="501.9" cy="796.7" r="8.0" fill="#4C4B9C"/>
<circle cx="311.8" cy="1105.2" r="8.0" fill="#6C3C8E"/>
<circle cx="567.7" cy="864.5" r="8.0" fill="#4C4B9C"/>
<circle cx="424.4" cy="1003.9" r="8.0" fill="#3461AC"/>
<circle cx="467.8" cy="935.5" r="8.0" fill="#6C3C8E"/>
<circle cx="342.1" cy="1095.9" r="8.0" fill="#8A2E8A"/>
<circle cx="505.2" cy="899.1" r="8.0" fill="#3461AC"/>
<circle cx="529.8" cy="770.5" r="8.0" fill="#3461AC"/>
<circle cx="715.3" cy="742.8" r="8.0" fill="#4C4B9C"/>
<circle cx="445.1" cy="995.2" r="8.0" fill="#3461AC"/>
<circle cx="480.5" cy="912.8" r="8.0" fill="#8A2E8A"/>
<circle cx="616.7" cy="767.4" r="8.0" fill="#4C4B9C"/>
<circle cx="577.9" cy="893.9" r="8.0" fill="#3461AC"/>
<circle cx="484.7" cy="899.6" r="8.0" fill="#4C4B9C"/>
<circle cx="564.6" cy="842.3" r="8.0" fill="#6C3C8E"/>
<circle cx="631.2" cy="786.1" r="8.0" fill="#3461AC"/>
<circle cx="557.7" cy="807.5" r="8.0" fill="#8A2E8A"/>
<circle cx="595.1" cy="815.1" r="8.0" fill="#4C4B9C"/>
<circle cx="343.8" cy="1110.7" r="8.0" fill="#6C3C8E"/>
<circle cx="328.7" cy="1107.6" r="8.0" fill="#6C3C8E"/>
<circle cx="490.8" cy="819.2" r="8.0" fill="#3461AC"/>
<circle cx="537.7" cy="798.1" r="8.0" fill="#4C4B9C"/>
<circle cx="379.9" cy="971.4" r="8.0" fill="#3461AC"/>
<circle cx="415.1" cy="1084.7" r="8.0" fill="#4C4B9C"/>
<circle cx="348.2" cy="953.4" r="8.0" fill="#6C3C8E"/>
<circle cx="514.8" cy="807.6" r="8.0" fill="#6C3C8E"/>
<circle cx="353.1" cy="1144.1" r="8.0" fill="#6C3C8E"/>
<circle cx="404.5" cy="963.0" r="8.0" fill="#3461AC"/>
<circle cx="638.5" cy="734.5" r="8.0" fill="#6C3C8E"/>
<circle cx="377.5" cy="1030.1" r="8.0" fill="#3461AC"/>
<circle cx="308.3" cy="1143.3" r="8.0" fill="#3461AC"/>
<circle cx="382.0" cy="1065.7" r="8.0" fill="#3461AC"/>
<circle cx="517.4" cy="902.2" r="8.0" fill="#3461AC"/>
<circle cx="487.6" cy="929.0" r="8.0" fill="#3461AC"/>
<circle cx="614.6" cy="742.9" r="8.0" fill="#3461AC"/>
<circle cx="501.7" cy="937.3" r="8.0" fill="#6C3C8E"/>
<circle cx="412.5" cy="938.1" r="8.0" fill="#6C3C8E"/>
<circle cx="643.3" cy="799.8" r="8.0" fill="#3461AC"/>
<circle cx="437.1" cy="904.6" r="8.0" fill="#4C4B9C"/>
<circle cx="627.9" cy="746.9" r="8.0" fill="#A02587"/>
<circle cx="527.1" cy="853.5" r="8.0" fill="#4C4B9C"/>
<circle cx="488.1" cy="1018.5" r="8.0" fill="#6C3C8E"/>
<circle cx="418.9" cy="1093.3" r="8.0" fill="#8A2E8A"/>
<circle cx="380.6" cy="970.4" r="8.0" fill="#3461AC"/>
<circle cx="441.6" cy="1061.8" r="8.0" fill="#3461AC"/>
<circle cx="493.1" cy="866.8" r="8.0" fill="#8A2E8A"/>
<circle cx="446.5" cy="843.6" r="8.0" fill="#3461AC"/>
<circle cx="500.5" cy="869.7" r="8.0" fill="#4C4B9C"/>
<circle cx="334.7" cy="1085.5" r="8.0" fill="#6C3C8E"/>
<circle cx="626.7" cy="820.3" r="8.0" fill="#4C4B9C"/>
<circle cx="476.7" cy="916.5" r="8.0" fill="#3461AC"/>
<circle cx="390.9" cy="966.7" r="8.0" fill="#6C3C8E"/>
<circle cx="604.2" cy="818.1" r="8.0" fill="#3461AC"/>
<circle cx="316.7" cy="1067.1" r="8.0" fill="#4C4B9C"/>
<circle cx="418.1" cy="948.8" r="8.0" fill="#3461AC"/>
<circle cx="487.9" cy="953.1" r="8.0" fill="#6C3C8E"/>
<circle cx="405.1" cy="1120.0" r="8.0" fill="#6C3C8E"/>
<circle cx="467.0" cy="995.6" r="8.0" fill="#3461AC"/>
<circle cx="655.5" cy="801.0" r="8.0" fill="#6C3C8E"/>
<circle cx="680.0" cy="778.6" r="8.0" fill="#4C4B9C"/>
<circle cx="553.6" cy="891.3" r="8.0" fill="#3461AC"/>
<circle cx="444.8" cy="899.5" r="8.0" fill="#3461AC"/>
<circle cx="478.7" cy="1074.7" r="8.0" fill="#4C4B9C"/>
<circle cx="366.1" cy="1123.4" r="8.0" fill="#4C4B9C"/>
<circle cx="661.7" cy="733.8" r="8.0" fill="#6C3C8E"/>
<circle cx="472.9" cy="987.6" r="8.0" fill="#4C4B9C"/>
<circle cx="358.4" cy="954.7" r="8.0" fill="#3461AC"/>
<circle cx="493.8" cy="1052.8" r="8.0" fill="#3461AC"/>
<circle cx="386.9" cy="1076.2" r="8.0" fill="#4C4B9C"/>
<circle cx="474.9" cy="934.8" r="8.0" fill="#6C3C8E"/>
<circle cx="562.2" cy="908.3" r="8.0" fill="#3461AC"/>
<circle cx="478.3" cy="880.2" r="8.0" fill="#3461AC"/>
<circle cx="488.1" cy="816.6" r="8.0" fill="#3461AC"/>
<circle cx="461.3" cy="823.3" r="8.0" fill="#3461AC"/>
<circle cx="650.8" cy="741.4" r="8.0" fill="#3461AC"/>
<circle cx="435.2" cy="920.3" r="8.0" fill="#3461AC"/>
<circle cx="461.7" cy="992.2" r="8.0" fill="#4C4B9C"/>
<circle cx="518.3" cy="891.2" r="8.0" fill="#4C4B9C"/>
<circle cx="577.1" cy="927.5" r="8.0" fill="#4C4B9C"/>
<circle cx="574.4" cy="813.2" r="8.0" fill="#6C3C8E"/>
<circle cx="367.9" cy="1059.9" r="8.0" fill="#8A2E8A"/>
<circle cx="457.2" cy="948.6" r="8.0" fill="#3461AC"/>
<circle cx="484.4" cy="949.4" r="8.0" fill="#6C3C8E"/>
<circle cx="557.4" cy="897.8" r="8.0" fill="#3461AC"/>
<circle cx="580.0" cy="765.8" r="8.0" fill="#8A2E8A"/>
<circle cx="546.4" cy="886.6" r="8.0" fill="#6C3C8E"/>
<circle cx="465.6" cy="947.7" r="8.0" fill="#3461AC"/>
<circle cx="363.7" cy="993.5" r="8.0" fill="#6C3C8E"/>
<circle cx="465.2" cy="993.4" r="8.0" fill="#4C4B9C"/>
<circle cx="539.6" cy="995.9" r="8.0" fill="#6C3C8E"/>
<circle cx="522.4" cy="927.3" r="8.0" fill="#4C4B9C"/>
<circle cx="412.9" cy="902.7" r="8.0" fill="#3461AC"/>
<circle cx="453.7" cy="821.5" r="8.0" fill="#3461AC"/>
<circle cx="553.5" cy="911.3" r="8.0" fill="#3461AC"/>
<circle cx="524.5" cy="899.8" r="8.0" fill="#8A2E8A"/>
<circle cx="532.2" cy="829.6" r="8.0" fill="#8A2E8A"/>
<circle cx="618.6" cy="746.8" r="8.0" fill="#8A2E8A"/>
<circle cx="582.3" cy="793.4" r="8.0" fill="#3461AC"/>
<circle cx="489.1" cy="879.0" r="8.0" fill="#3461AC"/>
<circle cx="614.6" cy="770.2" r="8.0" fill="#3461AC"/>
<circle cx="394.6" cy="913.2" r="8.0" fill="#3461AC"/>
<circle cx="425.2" cy="922.9" r="8.0" fill="#3461AC"/>
<circle cx="666.6" cy="789.7" r="8.0" fill="#3461AC"/>
<circle cx="405.0" cy="904.6" r="8.0" fill="#4C4B9C"/>
<circle cx="378.1" cy="1115.3" r="8.0" fill="#3461AC"/>
<circle cx="610.3" cy="818.2" r="8.0" fill="#3461AC"/>
<circle cx="412.8" cy="967.1" r="8.0" fill="#4C4B9C"/>
<circle cx="546.8" cy="844.5" r="8.0" fill="#6C3C8E"/>
<circle cx="652.1" cy="768.1" r="8.0" fill="#6C3C8E"/>
<circle cx="421.2" cy="1102.1" r="8.0" fill="#6C3C8E"/>
<circle cx="393.6" cy="1024.3" r="8.0" fill="#4C4B9C"/>
<circle cx="467.8" cy="999.8" r="8.0" fill="#3461AC"/>
<circle cx="525.3" cy="812.9" r="8.0" fill="#3461AC"/>
<circle cx="700.1" cy="727.6" r="8.0" fill="#4C4B9C"/>
<circle cx="572.9" cy="811.8" r="8.0" fill="#8A2E8A"/>
<circle cx="622.6" cy="827.4" r="8.0" fill="#8A2E8A"/>
<circle cx="620.6" cy="795.6" r="8.0" fill="#3461AC"/>
<circle cx="435.6" cy="1059.1" r="8.0" fill="#3461AC"/>
<circle cx="478.0" cy="927.5" r="8.0" fill="#4C4B9C"/>
<circle cx="391.6" cy="975.4" r="8.0" fill="#4C4B9C"/>
<circle cx="600.1" cy="771.4" r="8.0" fill="#3461AC"/>
<circle cx="664.9" cy="741.4" r="8.0" fill="#3461AC"/>
<circle cx="501.4" cy="980.4" r="8.0" fill="#3461AC"/>
<circle cx="546.9" cy="855.1" r="8.0" fill="#6C3C8E"/>
<circle cx="319.8" cy="1086.8" r="8.0" fill="#3461AC"/>
<circle cx="526.4" cy="769.7" r="8.0" fill="#4C4B9C"/>
<circle cx="338.1" cy="1068.0" r="8.0" fill="#8A2E8A"/>
<circle cx="530.0" cy="763.3" r="8.0" fill="#3461AC"/>
<circle cx="590.1" cy="832.9" r="8.0" fill="#6C3C8E"/>
<circle cx="475.9" cy="999.2" r="8.0" fill="#3461AC"/>
<circle cx="484.3" cy="1040.1" r="8.0" fill="#6C3C8E"/>
<circle cx="459.4" cy="1085.5" r="8.0" fill="#6C3C8E"/>
<circle cx="495.2" cy="1005.7" r="8.0" fill="#6C3C8E"/>
<circle cx="343.7" cy="1003.6" r="8.0" fill="#8A2E8A"/>
<circle cx="501.5" cy="996.7" r="8.0" fill="#6C3C8E"/>
<circle cx="443.5" cy="893.4" r="8.0" fill="#4C4B9C"/>
<circle cx="706.1" cy="757.0" r="8.0" fill="#4C4B9C"/>
<circle cx="358.1" cy="944.3" r="8.0" fill="#3461AC"/>
<circle cx="548.9" cy="817.0" r="8.0" fill="#6C3C8E"/>
<circle cx="538.7" cy="919.2" r="8.0" fill="#4C4B9C"/>
<circle cx="650.6" cy="745.6" r="8.0" fill="#4C4B9C"/>
<circle cx="405.3" cy="1087.2" r="8.0" fill="#3461AC"/>
<circle cx="551.8" cy="821.2" r="8.0" fill="#6C3C8E"/>
<circle cx="483.3" cy="1037.1" r="8.0" fill="#4C4B9C"/>
<circle cx="493.7" cy="917.0" r="8.0" fill="#6C3C8E"/>
<circle cx="401.6" cy="900.7" r="8.0" fill="#8A2E8A"/>
<circle cx="502.1" cy="969.2" r="8.0" fill="#3461AC"/>
<circle cx="528.3" cy="766.4" r="8.0" fill="#3461AC"/>
<circle cx="570.0" cy="931.7" r="8.0" fill="#4C4B9C"/>
<circle cx="711.8" cy="750.5" r="8.0" fill="#3461AC"/>
<circle cx="488.9" cy="925.1" r="8.0" fill="#4C4B9C"/>
<circle cx="475.2" cy="829.0" r="8.0" fill="#3461AC"/>
<circle cx="522.7" cy="986.2" r="8.0" fill="#4C4B9C"/>
<circle cx="579.1" cy="945.4" r="8.0" fill="#4C4B9C"/>
<circle cx="470.5" cy="970.2" r="8.0" fill="#6C3C8E"/>
<circle cx="583.4" cy="745.8" r="8.0" fill="#3461AC"/>
<circle cx="351.4" cy="1121.8" r="8.0" fill="#4C4B9C"/>
<circle cx="477.6" cy="813.3" r="8.0" fill="#4C4B9C"/>
<circle cx="457.7" cy="1063.9" r="8.0" fill="#4C4B9C"/>
<circle cx="363.3" cy="1128.9" r="8.0" fill="#6C3C8E"/>
<circle cx="695.9" cy="746.2" r="8.0" fill="#3461AC"/>
<circle cx="443.7" cy="843.4" r="8.0" fill="#3461AC"/>
<circle cx="507.8" cy="935.1" r="8.0" fill="#6C3C8E"/>
<circle cx="567.8" cy="810.6" r="8.0" fill="#3461AC"/>
<circle cx="547.8" cy="931.3" r="8.0" fill="#3461AC"/>
<circle cx="622.6" cy="807.9" r="8.0" fill="#4C4B9C"/>
<circle cx="525.6" cy="836.6" r="8.0" fill="#6C3C8E"/>
<circle cx="488.8" cy="881.1" r="8.0" fill="#6C3C8E"/>
<circle cx="476.8" cy="911.0" r="8.0" fill="#3461AC"/>
<circle cx="576.6" cy="731.0" r="8.0" fill="#4C4B9C"/>
<circle cx="500.5" cy="901.2" r="8.0" fill="#8A2E8A"/>
<circle cx="707.1" cy="750.2" r="8.0" fill="#3461AC"/>
<circle cx="347.5" cy="958.5" r="8.0" fill="#4C4B9C"/>
<circle cx="353.2" cy="977.9" r="8.0" fill="#3461AC"/>
<circle cx="554.7" cy="962.6" r="8.0" fill="#3461AC"/>
<circle cx="667.1" cy="760.0" r="8.0" fill="#6C3C8E"/>
<circle cx="459.8" cy="998.5" r="8.0" fill="#6C3C8E"/>
<circle cx="543.3" cy="784.0" r="8.0" fill="#3461AC"/>
<circle cx="550.6" cy="816.1" r="8.0" fill="#3461AC"/>
<circle cx="490.3" cy="896.9" r="8.0" fill="#8A2E8A"/>
<circle cx="504.4" cy="830.7" r="8.0" fill="#3461AC"/>
<circle cx="453.3" cy="908.3" r="8.0" fill="#4C4B9C"/>
<circle cx="562.7" cy="764.1" r="8.0" fill="#3461AC"/>
<circle cx="495.8" cy="798.8" r="8.0" fill="#3461AC"/>
<circle cx="565.2" cy="755.5" r="8.0" fill="#4C4B9C"/>
<circle cx="389.0" cy="1113.3" r="8.0" fill="#6C3C8E"/>
<circle cx="475.8" cy="988.9" r="8.0" fill="#3461AC"/>
<circle cx="579.2" cy="937.0" r="8.0" fill="#3461AC"/>
<circle cx="432.2" cy="888.9" r="8.0" fill="#3461AC"/>
<circle cx="368.7" cy="948.8" r="8.0" fill="#4C4B9C"/>
<circle cx="415.3" cy="937.3" r="8.0" fill="#3461AC"/>
<circle cx="353.1" cy="1045.6" r="8.0" fill="#3461AC"/>
<circle cx="430.0" cy="855.0" r="8.0" fill="#3461AC"/>
<circle cx="549.1" cy="846.8" r="8.0" fill="#3461AC"/>
<circle cx="435.9" cy="1083.1" r="8.0" fill="#6C3C8E"/>
<circle cx="380.4" cy="975.1" r="8.0" fill="#6C3C8E"/>
<circle cx="626.3" cy="818.3" r="8.0" fill="#4C4B9C"/>
<circle cx="471.0" cy="1028.7" r="8.0" fill="#3461AC"/>
<circle cx="414.6" cy="1024.5" r="8.0" fill="#8A2E8A"/>
<circle cx="383.9" cy="981.0" r="8.0" fill="#4C4B9C"/>
<circle cx="449.1" cy="861.2" r="8.0" fill="#6C3C8E"/>
<circle cx="389.5" cy="929.5" r="8.0" fill="#3461AC"/>
<circle cx="447.2" cy="1048.5" r="8.0" fill="#4C4B9C"/>
<circle cx="569.5" cy="923.6" r="8.0" fill="#3461AC"/>
<circle cx="347.7" cy="1057.7" r="8.0" fill="#A02587"/>
<circle cx="648.3" cy="807.2" r="8.0" fill="#3461AC"/>
<circle cx="498.6" cy="978.1" r="8.0" fill="#4C4B9C"/>
<circle cx="510.8" cy="777.7" r="8.0" fill="#4C4B9C"/>
<circle cx="461.5" cy="1072.9" r="8.0" fill="#4C4B9C"/>
<circle cx="355.4" cy="1047.1" r="8.0" fill="#6C3C8E"/>
<circle cx="607.2" cy="803.9" r="8.0" fill="#4C4B9C"/>
<circle cx="454.8" cy="856.6" r="8.0" fill="#3461AC"/>
<circle cx="521.7" cy="872.5" r="8.0" fill="#A02587"/>
<circle cx="690.7" cy="741.3" r="8.0" fill="#4C4B9C"/>
<circle cx="446.6" cy="889.4" r="8.0" fill="#4C4B9C"/>
<circle cx="535.6" cy="967.5" r="8.0" fill="#3461AC"/>
<circle cx="646.6" cy="750.4" r="8.0" fill="#3461AC"/>
<circle cx="372.3" cy="1034.0" r="8.0" fill="#4C4B9C"/>
<circle cx="683.5" cy="757.4" r="8.0" fill="#3461AC"/>
<circle cx="426.5" cy="867.1" r="8.0" fill="#4C4B9C"/>
<circle cx="410.0" cy="948.4" r="8.0" fill="#4C4B9C"/>
<circle cx="436.1" cy="904.3" r="8.0" fill="#4C4B9C"/>
<circle cx="557.4" cy="987.7" r="8.0" fill="#3461AC"/>
<circle cx="418.3" cy="1058.2" r="8.0" fill="#3461AC"/>
<circle cx="538.4" cy="879.9" r="8.0" fill="#4C4B9C"/>
<circle cx="614.8" cy="738.8" r="8.0" fill="#6C3C8E"/>
<circle cx="476.0" cy="998.4" r="8.0" fill="#4C4B9C"/>
<circle cx="417.1" cy="876.9" r="8.0" fill="#3461AC"/>
<circle cx="518.8" cy="819.6" r="8.0" fill="#8A2E8A"/>
<circle cx="472.7" cy="902.1" r="8.0" fill="#6C3C8E"/>
<circle cx="576.0" cy="774.9" r="8.0" fill="#4C4B9C"/>
<circle cx="540.3" cy="810.7" r="8.0" fill="#6C3C8E"/>
<circle cx="481.4" cy="996.0" r="8.0" fill="#4C4B9C"/>
<circle cx="349.3" cy="1126.7" r="8.0" fill="#8A2E8A"/>
<circle cx="413.8" cy="1007.2" r="8.0" fill="#6C3C8E"/>
<circle cx="323.0" cy="1035.5" r="8.0" fill="#4C4B9C"/>
<circle cx="489.6" cy="798.1" r="8.0" fill="#3461AC"/>
<circle cx="542.3" cy="929.5" r="8.0" fill="#3461AC"/>
<circle cx="395.0" cy="954.6" r="8.0" fill="#3461AC"/>
<circle cx="536.6" cy="828.0" r="8.0" fill="#8A2E8A"/>
<circle cx="578.3" cy="823.4" r="8.0" fill="#8A2E8A"/>
<circle cx="448.9" cy="1086.1" r="8.0" fill="#3461AC"/>
<circle cx="379.1" cy="949.5" r="8.0" fill="#6C3C8E"/>
<circle cx="545.3" cy="853.4" r="8.0" fill="#6C3C8E"/>
<circle cx="624.5" cy="783.0" r="8.0" fill="#3461AC"/>
<circle cx="407.1" cy="996.6" r="8.0" fill="#4C4B9C"/>
<circle cx="372.7" cy="1095.2" r="8.0" fill="#6C3C8E"/>
<circle cx="537.1" cy="995.5" r="8.0" fill="#4C4B9C"/>
<circle cx="557.8" cy="841.2" r="8.0" fill="#3461AC"/>
<circle cx="411.3" cy="988.0" r="8.0" fill="#4C4B9C"/>
<circle cx="426.2" cy="976.5" r="8.0" fill="#8A2E8A"/>
<circle cx="504.6" cy="902.7" r="8.0" fill="#6C3C8E"/>
<circle cx="653.0" cy="795.5" r="8.0" fill="#3461AC"/>
<circle cx="508.5" cy="818.9" r="8.0" fill="#6C3C8E"/>
<circle cx="483.7" cy="857.8" r="8.0" fill="#3461AC"/>
<circle cx="597.3" cy="752.1" r="8.0" fill="#4C4B9C"/>
<circle cx="526.1" cy="899.0" r="8.0" fill="#4C4B9C"/>
<circle cx="328.5" cy="1099.4" r="8.0" fill="#4C4B9C"/>
<circle cx="328.6" cy="1018.2" r="8.0" fill="#8A2E8A"/>
<circle cx="366.4" cy="1030.6" r="8.0" fill="#8A2E8A"/>
<circle cx="485.8" cy="922.5" r="8.0" fill="#6C3C8E"/>
<circle cx="430.2" cy="960.5" r="8.0" fill="#6C3C8E"/>
<circle cx="402.7" cy="1044.5" r="8.0" fill="#4C4B9C"/>
<circle cx="372.3" cy="1012.0" r="8.0" fill="#6C3C8E"/>
<circle cx="482.4" cy="1049.7" r="8.0" fill="#4C4B9C"/>
<circle cx="631.1" cy="779.0" r="8.0" fill="#4C4B9C"/>
<circle cx="656.0" cy="752.5" r="8.0" fill="#4C4B9C"/>
<circle cx="368.4" cy="992.6" r="8.0" fill="#3461AC"/>
<circle cx="616.6" cy="752.5" r="8.0" fill="#4C4B9C"/>
<circle cx="456.5" cy="1028.3" r="8.0" fill="#6C3C8E"/>
<circle cx="382.2" cy="1002.7" r="8.0" fill="#6C3C8E"/>
<circle cx="511.3" cy="830.8" r="8.0" fill="#3461AC"/>
<circle cx="644.5" cy="785.1" r="8.0" fill="#3461AC"/>
<circle cx="689.8" cy="756.0" r="8.0" fill="#4C4B9C"/>
<circle cx="569.5" cy="810.7" r="8.0" fill="#6C3C8E"/>
<circle cx="459.0" cy="1094.6" r="8.0" fill="#3461AC"/>
<circle cx="392.6" cy="1123.8" r="8.0" fill="#6C3C8E"/>
<circle cx="488.2" cy="984.9" r="8.0" fill="#6C3C8E"/>
<circle cx="395.8" cy="945.9" r="8.0" fill="#3461AC"/>
<circle cx="459.0" cy="1075.9" r="8.0" fill="#8A2E8A"/>
<circle cx="446.0" cy="978.9" r="8.0" fill="#4C4B9C"/>
<circle cx="661.2" cy="795.5" r="8.0" fill="#4C4B9C"/>
<circle cx="424.5" cy="1007.6" r="8.0" fill="#A02587"/>
<circle cx="326.0" cy="1051.5" r="8.0" fill="#3461AC"/>
<circle cx="543.1" cy="915.3" r="8.0" fill="#6C3C8E"/>
<circle cx="648.4" cy="760.1" r="8.0" fill="#6C3C8E"/>
<circle cx="363.9" cy="973.7" r="8.0" fill="#3461AC"/>
<circle cx="304.3" cy="1122.9" r="8.0" fill="#3461AC"/>
<circle cx="425.4" cy="896.5" r="8.0" fill="#6C3C8E"/>
<circle cx="514.0" cy="840.1" r="8.0" fill="#8A2E8A"/>
<circle cx="434.5" cy="911.7" r="8.0" fill="#4C4B9C"/>
<circle cx="556.3" cy="837.6" r="8.0" fill="#6C3C8E"/>
<circle cx="487.8" cy="997.9" r="8.0" fill="#3461AC"/>
<circle cx="571.1" cy="891.1" r="8.0" fill="#3461AC"/>
<circle cx="566.5" cy="971.1" r="8.0" fill="#6C3C8E"/>
<circle cx="417.0" cy="1062.6" r="8.0" fill="#3461AC"/>
<circle cx="423.5" cy="936.9" r="8.0" fill="#3461AC"/>
<circle cx="457.3" cy="932.8" r="8.0" fill="#6C3C8E"/>
<circle cx="437.9" cy="1011.9" r="8.0" fill="#6C3C8E"/>
<circle cx="466.3" cy="859.0" r="8.0" fill="#4C4B9C"/>
<circle cx="544.9" cy="883.4" r="8.0" fill="#8A2E8A"/>
<circle cx="622.7" cy="776.1" r="8.0" fill="#4C4B9C"/>
<circle cx="447.6" cy="1066.5" r="8.0" fill="#4C4B9C"/>
<circle cx="560.7" cy="867.1" r="8.0" fill="#6C3C8E"/>
<circle cx="580.6" cy="764.7" r="8.0" fill="#8A2E8A"/>
<circle cx="512.9" cy="821.7" r="8.0" fill="#6C3C8E"/>
<circle cx="309.3" cy="1051.5" r="8.0" fill="#4C4B9C"/>
<circle cx="542.3" cy="814.6" r="8.0" fill="#3461AC"/>
<circle cx="517.8" cy="982.2" r="8.0" fill="#4C4B9C"/>
<circle cx="480.3" cy="805.9" r="8.0" fill="#3461AC"/>
<circle cx="401.2" cy="1073.8" r="8.0" fill="#3461AC"/>
<circle cx="426.5" cy="958.3" r="8.0" fill="#4C4B9C"/>
<circle cx="608.6" cy="766.1" r="8.0" fill="#3461AC"/>
<circle cx="336.6" cy="1022.0" r="8.0" fill="#4C4B9C"/>
<circle cx="693.2" cy="732.8" r="8.0" fill="#8A2E8A"/>
<circle cx="442.1" cy="1017.9" r="8.0" fill="#6C3C8E"/>
<circle cx="385.8" cy="1002.9" r="8.0" fill="#3461AC"/>
<circle cx="512.4" cy="822.5" r="8.0" fill="#3461AC"/>
<circle cx="442.7" cy="1041.2" r="8.0" fill="#6C3C8E"/>
<circle cx="666.3" cy="800.4" r="8.0" fill="#3461AC"/>
<circle cx="565.4" cy="796.9" r="8.0" fill="#8A2E8A"/>
<circle cx="657.3" cy="733.5" r="8.0" fill="#8A2E8A"/>
<circle cx="431.5" cy="1009.4" r="8.0" fill="#4C4B9C"/>
<circle cx="511.7" cy="922.6" r="8.0" fill="#4C4B9C"/>
<circle cx="508.1" cy="873.7" r="8.0" fill="#8A2E8A"/>
<circle cx="664.3" cy="796.8" r="8.0" fill="#4C4B9C"/>
<circle cx="680.9" cy="771.5" r="8.0" fill="#8A2E8A"/>
<circle cx="328.3" cy="1074.4" r="8.0" fill="#3461AC"/>
<circle cx="497.3" cy="901.3" r="8.0" fill="#4C4B9C"/>
<circle cx="590.2" cy="811.5" r="8.0" fill="#6C3C8E"/>
<circle cx="477.0" cy="825.9" r="8.0" fill="#4C4B9C"/>
<circle cx="381.0" cy="938.2" r="8.0" fill="#3461AC"/>
<circle cx="465.4" cy="918.4" r="8.0" fill="#3461AC"/>
<circle cx="426.6" cy="1043.7" r="8.0" fill="#6C3C8E"/>
<circle cx="445.1" cy="868.7" r="8.0" fill="#3461AC"/>
<circle cx="497.3" cy="919.4" r="8.0" fill="#3461AC"/>
<circle cx="331.7" cy="1109.7" r="8.0" fill="#6C3C8E"/>
<circle cx="307.8" cy="1060.3" r="8.0" fill="#4C4B9C"/>
<circle cx="493.3" cy="945.8" r="8.0" fill="#4C4B9C"/>
<circle cx="521.4" cy="909.6" r="8.0" fill="#4C4B9C"/>
<circle cx="627.0" cy="739.0" r="8.0" fill="#3461AC"/>
<circle cx="641.7" cy="737.1" r="8.0" fill="#6C3C8E"/>
<circle cx="480.8" cy="832.6" r="8.0" fill="#8A2E8A"/>
<circle cx="522.6" cy="784.4" r="8.0" fill="#4C4B9C"/>
<circle cx="577.5" cy="896.3" r="8.0" fill="#3461AC"/>
<circle cx="452.0" cy="879.3" r="8.0" fill="#4C4B9C"/>
<circle cx="371.8" cy="1062.8" r="8.0" fill="#3461AC"/>
<circle cx="375.3" cy="999.5" r="8.0" fill="#3461AC"/>
<circle cx="572.4" cy="827.7" r="8.0" fill="#6C3C8E"/>
<circle cx="328.7" cy="995.3" r="8.0" fill="#3461AC"/>
<circle cx="484.7" cy="889.2" r="8.0" fill="#4C4B9C"/>
<circle cx="557.3" cy="938.0" r="8.0" fill="#3461AC"/>
<circle cx="557.6" cy="942.2" r="8.0" fill="#3461AC"/>
<circle cx="567.1" cy="763.6" r="8.0" fill="#3461AC"/>
<circle cx="534.3" cy="973.3" r="8.0" fill="#3461AC"/>
<circle cx="483.9" cy="887.8" r="8.0" fill="#6C3C8E"/>
<circle cx="437.1" cy="989.9" r="8.0" fill="#4C4B9C"/>
<circle cx="415.9" cy="935.6" r="8.0" fill="#6C3C8E"/>
<circle cx="326.0" cy="1089.4" r="8.0" fill="#3461AC"/>
<circle cx="401.1" cy="926.4" r="8.0" fill="#6C3C8E"/>
<circle cx="581.8" cy="892.2" r="8.0" fill="#8A2E8A"/>
<circle cx="473.9" cy="968.6" r="8.0" fill="#3461AC"/>
<circle cx="468.2" cy="824.4" r="8.0" fill="#3461AC"/>
<circle cx="323.8" cy="1023.8" r="8.0" fill="#3461AC"/>
<circle cx="390.9" cy="1003.6" r="8.0" fill="#8A2E8A"/>
<circle cx="532.8" cy="998.0" r="8.0" fill="#4C4B9C"/>
<circle cx="517.8" cy="790.9" r="8.0" fill="#3461AC"/>
<circle cx="450.6" cy="1031.5" r="8.0" fill="#3461AC"/>
<circle cx="542.0" cy="765.9" r="8.0" fill="#3461AC"/>
<circle cx="620.1" cy="832.8" r="8.0" fill="#3461AC"/>
<circle cx="608.7" cy="801.5" r="8.0" fill="#4C4B9C"/>
<circle cx="413.1" cy="965.9" r="8.0" fill="#3461AC"/>
<circle cx="492.2" cy="803.0" r="8.0" fill="#4C4B9C"/>
<circle cx="378.2" cy="941.5" r="8.0" fill="#6C3C8E"/>
<circle cx="661.4" cy="786.6" r="8.0" fill="#4C4B9C"/>
<circle cx="544.6" cy="848.0" r="8.0" fill="#A02587"/>
<circle cx="558.1" cy="866.6" r="8.0" fill="#6C3C8E"/>
<circle cx="702.2" cy="734.4" r="8.0" fill="#3461AC"/>
<circle cx="376.7" cy="1057.2" r="8.0" fill="#4C4B9C"/>
<circle cx="543.2" cy="875.1" r="8.0" fill="#3461AC"/>
<circle cx="443.9" cy="1045.4" r="8.0" fill="#6C3C8E"/>
<circle cx="520.6" cy="989.7" r="8.0" fill="#3461AC"/>
<circle cx="500.4" cy="826.3" r="8.0" fill="#6C3C8E"/>
<circle cx="536.0" cy="900.1" r="8.0" fill="#6C3C8E"/>
<circle cx="405.9" cy="967.6" r="8.0" fill="#6C3C8E"/>
<circle cx="500.2" cy="932.8" r="8.0" fill="#4C4B9C"/>
<circle cx="386.9" cy="1098.9" r="8.0" fill="#4C4B9C"/>
<circle cx="333.7" cy="1109.0" r="8.0" fill="#3461AC"/>
<circle cx="347.4" cy="1042.0" r="8.0" fill="#6C3C8E"/>
<circle cx="445.3" cy="1063.6" r="8.0" fill="#3461AC"/>
<circle cx="487.7" cy="1055.3" r="8.0" fill="#4C4B9C"/>
<circle cx="544.7" cy="995.1" r="8.0" fill="#3461AC"/>
<circle cx="491.7" cy="902.4" r="8.0" fill="#6C3C8E"/>
<circle cx="443.0" cy="928.0" r="8.0" fill="#3461AC"/>
<circle cx="362.2" cy="1006.9" r="8.0" fill="#3461AC"/>
<circle cx="511.1" cy="977.5" r="8.0" fill="#3461AC"/>
<circle cx="459.5" cy="828.1" r="8.0" fill="#3461AC"/>
<circle cx="414.9" cy="962.3" r="8.0" fill="#6C3C8E"/>
<circle cx="452.0" cy="841.4" r="8.0" fill="#3461AC"/>
<circle cx="638.0" cy="781.8" r="8.0" fill="#4C4B9C"/>
<circle cx="659.9" cy="773.0" r="8.0" fill="#4C4B9C"/>
<circle cx="695.6" cy="739.9" r="8.0" fill="#3461AC"/>
<circle cx="481.1" cy="1070.2" r="8.0" fill="#3461AC"/>
<circle cx="369.0" cy="937.7" r="8.0" fill="#4C4B9C"/>
<circle cx="443.8" cy="889.2" r="8.0" fill="#3461AC"/>
<circle cx="439.9" cy="1034.4" r="8.0" fill="#4C4B9C"/>
<circle cx="483.3" cy="880.9" r="8.0" fill="#3461AC"/>
<circle cx="593.1" cy="803.8" r="8.0" fill="#6C3C8E"/>
<circle cx="380.6" cy="1033.7" r="8.0" fill="#3461AC"/>
<circle cx="364.3" cy="943.1" r="8.0" fill="#3461AC"/>
<circle cx="495.8" cy="869.8" r="8.0" fill="#3461AC"/>
<circle cx="359.2" cy="979.2" r="8.0" fill="#8A2E8A"/>
<circle cx="459.3" cy="1067.3" r="8.0" fill="#4C4B9C"/>
<circle cx="637.5" cy="747.4" r="8.0" fill="#8A2E8A"/>
<circle cx="544.5" cy="855.0" r="8.0" fill="#3461AC"/>
<circle cx="318.5" cy="1108.4" r="8.0" fill="#3461AC"/>
<circle cx="335.0" cy="1079.6" r="8.0" fill="#6C3C8E"/>
<circle cx="393.0" cy="922.7" r="8.0" fill="#3461AC"/>
<circle cx="659.5" cy="769.2" r="8.0" fill="#4C4B9C"/>
<circle cx="534.8" cy="896.3" r="8.0" fill="#4C4B9C"/>
<circle cx="507.0" cy="810.1" r="8.0" fill="#3461AC"/>
<circle cx="518.4" cy="903.1" r="8.0" fill="#3461AC"/>
<circle cx="538.6" cy="871.6" r="8.0" fill="#3461AC"/>
<circle cx="396.8" cy="1066.6" r="8.0" fill="#6C3C8E"/>
<circle cx="456.7" cy="853.7" r="8.0" fill="#6C3C8E"/>
<circle cx="635.6" cy="764.3" r="8.0" fill="#4C4B9C"/>
<circle cx="592.5" cy="762.2" r="8.0" fill="#4C4B9C"/>
<circle cx="364.8" cy="969.0" r="8.0" fill="#4C4B9C"/>
<circle cx="486.1" cy="869.6" r="8.0" fill="#8A2E8A"/>
<circle cx="497.5" cy="1051.1" r="8.0" fill="#3461AC"/>
<circle cx="521.4" cy="882.7" r="8.0" fill="#3461AC"/>
<circle cx="562.1" cy="780.6" r="8.0" fill="#3461AC"/>
<circle cx="330.1" cy="1071.8" r="8.0" fill="#3461AC"/>
<circle cx="530.7" cy="979.9" r="8.0" fill="#3461AC"/>
<circle cx="529.8" cy="883.6" r="8.0" fill="#6C3C8E"/>
<circle cx="657.2" cy="729.5" r="8.0" fill="#6C3C8E"/>
<circle cx="469.5" cy="1022.0" r="8.0" fill="#3461AC"/>
<circle cx="534.2" cy="839.1" r="8.0" fill="#6C3C8E"/>
<circle cx="388.1" cy="935.8" r="8.0" fill="#3461AC"/>
<circle cx="347.2" cy="1134.8" r="8.0" fill="#4C4B9C"/>
<circle cx="389.5" cy="1122.5" r="8.0" fill="#3461AC"/>
<circle cx="332.9" cy="1070.8" r="8.0" fill="#3461AC"/>
<circle cx="385.9" cy="1086.5" r="8.0" fill="#6C3C8E"/>
<circle cx="464.4" cy="854.2" r="8.0" fill="#3461AC"/>
<circle cx="417.6" cy="1067.8" r="8.0" fill="#3461AC"/>
<circle cx="433.2" cy="912.7" r="8.0" fill="#4C4B9C"/>
<circle cx="624.6" cy="838.4" r="8.0" fill="#6C3C8E"/>
<circle cx="453.1" cy="1026.4" r="8.0" fill="#6C3C8E"/>
<circle cx="531.0" cy="869.7" r="8.0" fill="#6C3C8E"/>
<circle cx="320.3" cy="1026.8" r="8.0" fill="#6C3C8E"/>
<circle cx="357.5" cy="1098.6" r="8.0" fill="#8A2E8A"/>
<circle cx="643.9" cy="742.0" r="8.0" fill="#6C3C8E"/>
<circle cx="454.5" cy="1064.9" r="8.0" fill="#3461AC"/>
<circle cx="536.5" cy="887.9" r="8.0" fill="#6C3C8E"/>
<circle cx="464.4" cy="1058.2" r="8.0" fill="#4C4B9C"/>
<circle cx="619.0" cy="752.5" r="8.0" fill="#6C3C8E"/>
<circle cx="651.9" cy="743.1" r="8.0" fill="#6C3C8E"/>
<circle cx="376.6" cy="953.3" r="8.0" fill="#6C3C8E"/>
<circle cx="368.7" cy="1036.7" r="8.0" fill="#4C4B9C"/>
<circle cx="571.9" cy="910.7" r="8.0" fill="#4C4B9C"/>
<circle cx="528.6" cy="923.2" r="8.0" fill="#6C3C8E"/>
<circle cx="447.0" cy="983.8" r="8.0" fill="#3461AC"/>
<circle cx="551.0" cy="844.5" r="8.0" fill="#3461AC"/>
<circle cx="416.8" cy="881.1" r="8.0" fill="#3461AC"/>
<circle cx="455.6" cy="1061.7" r="8.0" fill="#3461AC"/>
<circle cx="429.5" cy="964.6" r="8.0" fill="#3461AC"/>
<circle cx="543.9" cy="915.0" r="8.0" fill="#3461AC"/>
<circle cx="356.7" cy="1074.3" r="8.0" fill="#8A2E8A"/>
<circle cx="354.2" cy="1079.3" r="8.0" fill="#6C3C8E"/>
<circle cx="405.4" cy="949.4" r="8.0" fill="#6C3C8E"/>
<circle cx="336.8" cy="1141.2" r="8.0" fill="#4C4B9C"/>
<circle cx="345.3" cy="988.4" r="8.0" fill="#3461AC"/>
<circle cx="487.1" cy="998.5" r="8.0" fill="#6C3C8E"/>
<circle cx="667.4" cy="764.7" r="8.0" fill="#3461AC"/>
<circle cx="571.0" cy="902.1" r="8.0" fill="#4C4B9C"/>
<circle cx="464.2" cy="968.2" r="8.0" fill="#3461AC"/>
<circle cx="519.9" cy="977.7" r="8.0" fill="#4C4B9C"/>
<circle cx="454.0" cy="954.3" r="8.0" fill="#6C3C8E"/>
<circle cx="421.3" cy="897.9" r="8.0" fill="#3461AC"/>
<circle cx="571.0" cy="939.6" r="8.0" fill="#6C3C8E"/>
<circle cx="412.4" cy="1005.7" r="8.0" fill="#3461AC"/>
<circle cx="538.4" cy="980.7" r="8.0" fill="#4C4B9C"/>
<circle cx="421.4" cy="1022.8" r="8.0" fill="#4C4B9C"/>
<circle cx="437.0" cy="859.0" r="8.0" fill="#3461AC"/>
<circle cx="489.0" cy="837.3" r="8.0" fill="#4C4B9C"/>
<circle cx="395.1" cy="1044.0" r="8.0" fill="#4C4B9C"/>
<circle cx="445.0" cy="999.4" r="8.0" fill="#3461AC"/>
<circle cx="335.9" cy="1041.5" r="8.0" fill="#3461AC"/>
<circle cx="539.3" cy="835.5" r="8.0" fill="#A02587"/>
<circle cx="350.2" cy="1105.9" r="8.0" fill="#3461AC"/>
<circle cx="340.8" cy="976.4" r="8.0" fill="#3461AC"/>
<circle cx="485.1" cy="948.2" r="8.0" fill="#3461AC"/>
<circle cx="485.1" cy="959.8" r="8.0" fill="#6C3C8E"/>
<circle cx="563.0" cy="850.4" r="8.0" fill="#6C3C8E"/>
<circle cx="501.0" cy="1052.0" r="8.0" fill="#6C3C8E"/>
<circle cx="358.5" cy="953.6" r="8.0" fill="#4C4B9C"/>
<circle cx="576.2" cy="835.6" r="8.0" fill="#3461AC"/>
<circle cx="419.7" cy="1050.1" r="8.0" fill="#4C4B9C"/>
<circle cx="501.5" cy="856.6" r="8.0" fill="#6C3C8E"/>
<circle cx="532.5" cy="806.9" r="8.0" fill="#8A2E8A"/>
<circle cx="372.0" cy="1056.8" r="8.0" fill="#3461AC"/>
<circle cx="521.7" cy="870.1" r="8.0" fill="#3461AC"/>
<circle cx="591.6" cy="827.4" r="8.0" fill="#3461AC"/>
<circle cx="405.2" cy="909.9" r="8.0" fill="#3461AC"/>
<circle cx="695.5" cy="728.9" r="8.0" fill="#6C3C8E"/>
<circle cx="348.2" cy="1005.7" r="8.0" fill="#3461AC"/>
<circle cx="323.7" cy="1016.2" r="8.0" fill="#3461AC"/>
<circle cx="408.2" cy="1108.5" r="8.0" fill="#4C4B9C"/>
<circle cx="472.4" cy="942.6" r="8.0" fill="#3461AC"/>
<circle cx="499.0" cy="878.4" r="8.0" fill="#4C4B9C"/>
<circle cx="533.0" cy="793.6" r="8.0" fill="#6C3C8E"/>
<circle cx="494.9" cy="836.1" r="8.0" fill="#3461AC"/>
<circle cx="554.9" cy="769.0" r="8.0" fill="#6C3C8E"/>
<circle cx="559.8" cy="787.3" r="8.0" fill="#6C3C8E"/>
<circle cx="331.4" cy="1059.9" r="8.0" fill="#3461AC"/>
<circle cx="433.9" cy="1003.6" r="8.0" fill="#6C3C8E"/>
<circle cx="678.0" cy="756.8" r="8.0" fill="#3461AC"/>
<circle cx="693.4" cy="761.0" r="8.0" fill="#3461AC"/>
<circle cx="419.1" cy="960.8" r="8.0" fill="#6C3C8E"/>
<circle cx="398.4" cy="942.7" r="8.0" fill="#4C4B9C"/>
<circle cx="593.9" cy="834.4" r="8.0" fill="#3461AC"/>
<circle cx="392.3" cy="931.6" r="8.0" fill="#3461AC"/>
<circle cx="366.9" cy="1071.5" r="8.0" fill="#3461AC"/>
<circle cx="516.4" cy="803.7" r="8.0" fill="#6C3C8E"/>
<circle cx="486.2" cy="873.1" r="8.0" fill="#8A2E8A"/>
<circle cx="440.3" cy="872.6" r="8.0" fill="#6C3C8E"/>
<circle cx="431.8" cy="876.2" r="8.0" fill="#3461AC"/>
<circle cx="528.7" cy="933.0" r="8.0" fill="#4C4B9C"/>
<circle cx="390.0" cy="1076.1" r="8.0" fill="#4C4B9C"/>
<circle cx="453.2" cy="1094.4" r="8.0" fill="#6C3C8E"/>
<circle cx="329.0" cy="1102.5" r="8.0" fill="#3461AC"/>
<circle cx="378.7" cy="964.3" r="8.0" fill="#3461AC"/>
<circle cx="452.9" cy="975.7" r="8.0" fill="#4C4B9C"/>
<circle cx="565.6" cy="837.5" r="8.0" fill="#6C3C8E"/>
<circle cx="338.9" cy="1062.2" r="8.0" fill="#6C3C8E"/>
<circle cx="652.2" cy="766.7" r="8.0" fill="#6C3C8E"/>
<circle cx="608.8" cy="764.8" r="8.0" fill="#6C3C8E"/>
<circle cx="428.0" cy="945.7" r="8.0" fill="#8A2E8A"/>
<circle cx="427.3" cy="994.9" r="8.0" fill="#6C3C8E"/>
<circle cx="424.5" cy="924.7" r="8.0" fill="#8A2E8A"/>
<circle cx="676.9" cy="758.2" r="8.0" fill="#4C4B9C"/>
<circle cx="483.0" cy="879.9" r="8.0" fill="#3461AC"/>
<circle cx="646.8" cy="835.6" r="8.0" fill="#6C3C8E"/>
<circle cx="361.3" cy="986.1" r="8.0" fill="#6C3C8E"/>
<circle cx="421.5" cy="904.6" r="8.0" fill="#3461AC"/>
<circle cx="512.7" cy="818.5" r="8.0" fill="#3461AC"/>
<circle cx="446.9" cy="865.1" r="8.0" fill="#3461AC"/>
<circle cx="478.8" cy="819.0" r="8.0" fill="#3461AC"/>
<circle cx="372.7" cy="988.3" r="8.0" fill="#4C4B9C"/>
<circle cx="574.8" cy="810.5" r="8.0" fill="#6C3C8E"/>
<circle cx="585.1" cy="871.2" r="8.0" fill="#6C3C8E"/>
<circle cx="341.9" cy="992.0" r="8.0" fill="#3461AC"/>
<circle cx="475.0" cy="1055.7" r="8.0" fill="#3461AC"/>
<circle cx="434.7" cy="1047.3" r="8.0" fill="#3461AC"/>
<circle cx="404.9" cy="1120.3" r="8.0" fill="#3461AC"/>
<circle cx="319.5" cy="1023.7" r="8.0" fill="#6C3C8E"/>
<circle cx="646.8" cy="821.4" r="8.0" fill="#4C4B9C"/>
<circle cx="583.0" cy="925.0" r="8.0" fill="#4C4B9C"/>
<circle cx="524.6" cy="928.2" r="8.0" fill="#4C4B9C"/>
<circle cx="407.5" cy="1055.1" r="8.0" fill="#3461AC"/>
<circle cx="366.3" cy="946.5" r="8.0" fill="#4C4B9C"/>
<circle cx="666.6" cy="795.2" r="8.0" fill="#6C3C8E"/>
<circle cx="415.7" cy="906.9" r="8.0" fill="#3461AC"/>
<circle cx="310.4" cy="1051.4" r="8.0" fill="#4C4B9C"/>
<circle cx="368.0" cy="1133.8" r="8.0" fill="#8A2E8A"/>
<circle cx="309.9" cy="1049.5" r="8.0" fill="#4C4B9C"/>
<circle cx="338.7" cy="1057.8" r="8.0" fill="#8A2E8A"/>
<circle cx="702.8" cy="737.2" r="8.0" fill="#3461AC"/>
<circle cx="553.8" cy="830.4" r="8.0" fill="#3461AC"/>
<circle cx="565.3" cy="946.7" r="8.0" fill="#3461AC"/>
<circle cx="388.5" cy="1101.7" r="8.0" fill="#4C4B9C"/>
<circle cx="366.1" cy="987.6" r="8.0" fill="#8A2E8A"/>
<circle cx="335.9" cy="1124.1" r="8.0" fill="#4C4B9C"/>
<circle cx="471.1" cy="834.6" r="8.0" fill="#3461AC"/>
<circle cx="515.1" cy="846.6" r="8.0" fill="#4C4B9C"/>
<circle cx="518.6" cy="896.8" r="8.0" fill="#6C3C8E"/>
<circle cx="445.9" cy="1083.6" r="8.0" fill="#3461AC"/>
<circle cx="373.4" cy="1051.4" r="8.0" fill="#6C3C8E"/>
<circle cx="513.2" cy="963.1" r="8.0" fill="#3461AC"/>
<circle cx="530.5" cy="901.5" r="8.0" fill="#4C4B9C"/>
<circle cx="358.7" cy="949.7" r="8.0" fill="#3461AC"/>
<circle cx="531.9" cy="876.0" r="8.0" fill="#4C4B9C"/>
<circle cx="548.8" cy="800.6" r="8.0" fill="#3461AC"/>
<circle cx="398.7" cy="998.6" r="8.0" fill="#A02587"/>
<circle cx="645.6" cy="788.8" r="8.0" fill="#3461AC"/>
<circle cx="397.5" cy="1070.1" r="8.0" fill="#3461AC"/>
<circle cx="461.8" cy="943.4" r="8.0" fill="#6C3C8E"/>
<circle cx="427.5" cy="868.2" r="8.0" fill="#4C4B9C"/>
<circle cx="683.5" cy="740.6" r="8.0" fill="#6C3C8E"/>
<circle cx="493.0" cy="921.6" r="8.0" fill="#8A2E8A"/>
<circle cx="445.8" cy="961.9" r="8.0" fill="#3461AC"/>
<circle cx="369.3" cy="1037.6" r="8.0" fill="#6C3C8E"/>
<circle cx="495.6" cy="862.9" r="8.0" fill="#3461AC"/>
<circle cx="575.4" cy="844.7" r="8.0" fill="#3461AC"/>
<circle cx="485.2" cy="1020.1" r="8.0" fill="#4C4B9C"/>
<circle cx="421.3" cy="1010.2" r="8.0" fill="#6C3C8E"/>
<circle cx="549.6" cy="893.7" r="8.0" fill="#8A2E8A"/>
<circle cx="552.0" cy="925.5" r="8.0" fill="#3461AC"/>
<circle cx="536.4" cy="850.4" r="8.0" fill="#3461AC"/>
<circle cx="441.0" cy="953.1" r="8.0" fill="#4C4B9C"/>
<circle cx="399.8" cy="922.0" r="8.0" fill="#3461AC"/>
<circle cx="682.1" cy="777.9" r="8.0" fill="#4C4B9C"/>
<circle cx="412.5" cy="966.6" r="8.0" fill="#3461AC"/>
<circle cx="430.2" cy="904.9" r="8.0" fill="#8A2E8A"/>
<circle cx="362.4" cy="1140.9" r="8.0" fill="#6C3C8E"/>
<circle cx="584.1" cy="838.8" r="8.0" fill="#3461AC"/>
<circle cx="382.8" cy="1126.7" r="8.0" fill="#8A2E8A"/>
<circle cx="456.0" cy="978.6" r="8.0" fill="#4C4B9C"/>
<circle cx="591.6" cy="799.7" r="8.0" fill="#6C3C8E"/>
<circle cx="482.1" cy="1031.4" r="8.0" fill="#4C4B9C"/>
<circle cx="348.2" cy="1020.0" r="8.0" fill="#4C4B9C"/>
<circle cx="531.4" cy="840.0" r="8.0" fill="#3461AC"/>
<circle cx="478.6" cy="1036.9" r="8.0" fill="#4C4B9C"/>
<circle cx="439.2" cy="1091.3" r="8.0" fill="#4C4B9C"/>
<circle cx="640.0" cy="776.5" r="8.0" fill="#4C4B9C"/>
<circle cx="351.1" cy="1134.2" r="8.0" fill="#6C3C8E"/>
<circle cx="455.1" cy="1024.5" r="8.0" fill="#4C4B9C"/>
<circle cx="671.0" cy="792.0" r="8.0" fill="#4C4B9C"/>
<circle cx="525.9" cy="842.2" r="8.0" fill="#A02587"/>
<circle cx="361.2" cy="951.2" r="8.0" fill="#4C4B9C"/>
<circle cx="353.0" cy="1032.9" r="8.0" fill="#6C3C8E"/>
<circle cx="490.7" cy="888.7" r="8.0" fill="#4C4B9C"/>
<circle cx="589.8" cy="765.4" r="8.0" fill="#8A2E8A"/>
<circle cx="649.6" cy="802.0" r="8.0" fill="#8A2E8A"/>
<circle cx="455.0" cy="916.3" r="8.0" fill="#3461AC"/>
<circle cx="504.9" cy="968.6" r="8.0" fill="#3461AC"/>
<circle cx="461.1" cy="1093.9" r="8.0" fill="#3461AC"/>
<circle cx="415.3" cy="1020.7" r="8.0" fill="#4C4B9C"/>
<circle cx="320.9" cy="1042.5" r="8.0" fill="#3461AC"/>
<circle cx="346.7" cy="975.3" r="8.0" fill="#6C3C8E"/>
<circle cx="487.0" cy="955.8" r="8.0" fill="#4C4B9C"/>
<circle cx="553.6" cy="799.0" r="8.0" fill="#6C3C8E"/>
<circle cx="531.6" cy="779.4" r="8.0" fill="#3461AC"/>
<circle cx="534.6" cy="761.6" r="8.0" fill="#6C3C8E"/>
<circle cx="479.8" cy="879.9" r="8.0" fill="#3461AC"/>
<circle cx="363.6" cy="946.2" r="8.0" fill="#6C3C8E"/>
<circle cx="480.3" cy="1050.3" r="8.0" fill="#6C3C8E"/>
<circle cx="664.8" cy="788.0" r="8.0" fill="#6C3C8E"/>
<circle cx="608.7" cy="735.8" r="8.0" fill="#6C3C8E"/>
<circle cx="586.9" cy="958.1" r="8.0" fill="#6C3C8E"/>
<circle cx="634.9" cy="750.1" r="8.0" fill="#4C4B9C"/>
<circle cx="476.1" cy="913.1" r="8.0" fill="#4C4B9C"/>
<circle cx="455.8" cy="1056.3" r="8.0" fill="#4C4B9C"/>
<circle cx="419.7" cy="952.9" r="8.0" fill="#4C4B9C"/>
<circle cx="601.6" cy="765.8" r="8.0" fill="#6C3C8E"/>
<circle cx="596.7" cy="742.1" r="8.0" fill="#4C4B9C"/>
<circle cx="386.5" cy="955.6" r="8.0" fill="#6C3C8E"/>
<circle cx="432.0" cy="968.7" r="8.0" fill="#4C4B9C"/>
<circle cx="456.4" cy="963.0" r="8.0" fill="#3461AC"/>
<circle cx="463.7" cy="951.6" r="8.0" fill="#6C3C8E"/>
<circle cx="394.0" cy="940.9" r="8.0" fill="#8A2E8A"/>
<circle cx="330.7" cy="1091.5" r="8.0" fill="#6C3C8E"/>
<circle cx="345.7" cy="1112.2" r="8.0" fill="#4C4B9C"/>
<circle cx="475.0" cy="958.5" r="8.0" fill="#4C4B9C"/>
<circle cx="418.0" cy="892.6" r="8.0" fill="#8A2E8A"/>
<circle cx="588.5" cy="729.8" r="8.0" fill="#6C3C8E"/>
<circle cx="469.8" cy="842.0" r="8.0" fill="#3461AC"/>
<circle cx="468.9" cy="945.9" r="8.0" fill="#3461AC"/>
<circle cx="399.3" cy="1040.5" r="8.0" fill="#A02587"/>
<circle cx="528.9" cy="973.2" r="8.0" fill="#4C4B9C"/>
<circle cx="578.7" cy="931.2" r="8.0" fill="#4C4B9C"/>
<circle cx="304.6" cy="1134.9" r="8.0" fill="#3461AC"/>
<circle cx="447.2" cy="945.7" r="8.0" fill="#3461AC"/>
<circle cx="487.1" cy="859.7" r="8.0" fill="#4C4B9C"/>
<circle cx="379.8" cy="1068.6" r="8.0" fill="#6C3C8E"/>
<circle cx="575.4" cy="739.9" r="8.0" fill="#3461AC"/>
<circle cx="500.8" cy="835.7" r="8.0" fill="#3461AC"/>
<circle cx="480.1" cy="865.2" r="8.0" fill="#3461AC"/>
<circle cx="466.0" cy="980.1" r="8.0" fill="#6C3C8E"/>
<circle cx="369.5" cy="1089.9" r="8.0" fill="#8A2E8A"/>
<circle cx="524.3" cy="800.8" r="8.0" fill="#3461AC"/>
<circle cx="595.8" cy="785.9" r="8.0" fill="#A02587"/>
<circle cx="480.0" cy="890.9" r="8.0" fill="#6C3C8E"/>
<circle cx="393.3" cy="953.1" r="8.0" fill="#6C3C8E"/>
<circle cx="532.3" cy="857.2" r="8.0" fill="#6C3C8E"/>
<circle cx="339.9" cy="1103.5" r="8.0" fill="#6C3C8E"/>
<circle cx="416.0" cy="1001.8" r="8.0" fill="#6C3C8E"/>
<circle cx="352.9" cy="1133.2" r="8.0" fill="#4C4B9C"/>
<circle cx="374.3" cy="965.3" r="8.0" fill="#4C4B9C"/>
<circle cx="508.6" cy="842.4" r="8.0" fill="#4C4B9C"/>
<circle cx="451.3" cy="958.3" r="8.0" fill="#4C4B9C"/>
<circle cx="431.1" cy="871.2" r="8.0" fill="#3461AC"/>
<circle cx="585.0" cy="805.5" r="8.0" fill="#3461AC"/>
<circle cx="402.2" cy="966.5" r="8.0" fill="#3461AC"/>
<circle cx="365.1" cy="987.2" r="8.0" fill="#3461AC"/>
<circle cx="499.8" cy="943.2" r="8.0" fill="#4C4B9C"/>
<circle cx="434.6" cy="1064.9" r="8.0" fill="#6C3C8E"/>
<circle cx="420.3" cy="950.1" r="8.0" fill="#3461AC"/>
<circle cx="478.9" cy="989.4" r="8.0" fill="#6C3C8E"/>
<circle cx="480.0" cy="818.3" r="8.0" fill="#6C3C8E"/>
<circle cx="473.4" cy="900.2" r="8.0" fill="#4C4B9C"/>
<circle cx="565.0" cy="874.1" r="8.0" fill="#6C3C8E"/>
<circle cx="566.0" cy="898.1" r="8.0" fill="#4C4B9C"/>
<circle cx="636.9" cy="814.6" r="8.0" fill="#4C4B9C"/>
<circle cx="418.2" cy="1075.1" r="8.0" fill="#8A2E8A"/>
<circle cx="391.4" cy="1095.2" r="8.0" fill="#3461AC"/>
<circle cx="304.7" cy="1063.9" r="8.0" fill="#4C4B9C"/>
<circle cx="394.1" cy="929.3" r="8.0" fill="#8A2E8A"/>
<circle cx="701.6" cy="761.8" r="8.0" fill="#6C3C8E"/>
<circle cx="463.0" cy="841.0" r="8.0" fill="#3461AC"/>
<circle cx="426.4" cy="941.3" r="8.0" fill="#3461AC"/>
<circle cx="703.9" cy="741.1" r="8.0" fill="#6C3C8E"/>
<circle cx="503.4" cy="988.0" r="8.0" fill="#8A2E8A"/>
<circle cx="356.5" cy="978.3" r="8.0" fill="#6C3C8E"/>
<circle cx="431.9" cy="862.0" r="8.0" fill="#4C4B9C"/>
<circle cx="454.2" cy="832.7" r="8.0" fill="#6C3C8E"/>
<circle cx="442.7" cy="895.4" r="8.0" fill="#6C3C8E"/>
<circle cx="456.8" cy="924.1" r="8.0" fill="#8A2E8A"/>
<circle cx="664.3" cy="742.6" r="8.0" fill="#8A2E8A"/>
<circle cx="387.8" cy="981.7" r="8.0" fill="#6C3C8E"/>
<circle cx="334.1" cy="1078.0" r="8.0" fill="#4C4B9C"/>
<circle cx="350.1" cy="1052.9" r="8.0" fill="#8A2E8A"/>
<circle cx="446.5" cy="862.9" r="8.0" fill="#3461AC"/>
<circle cx="378.2" cy="942.3" r="8.0" fill="#4C4B9C"/>
<circle cx="627.8" cy="776.9" r="8.0" fill="#3461AC"/>
<circle cx="409.0" cy="1089.7" r="8.0" fill="#3461AC"/>
<circle cx="407.8" cy="934.2" r="8.0" fill="#3461AC"/>
<circle cx="677.6" cy="755.9" r="8.0" fill="#4C4B9C"/>
<circle cx="527.3" cy="960.5" r="8.0" fill="#4C4B9C"/>
<circle cx="444.9" cy="1099.8" r="8.0" fill="#4C4B9C"/>
<circle cx="476.8" cy="942.6" r="8.0" fill="#4C4B9C"/>
<circle cx="451.5" cy="881.7" r="8.0" fill="#3461AC"/>
<circle cx="394.1" cy="1016.7" r="8.0" fill="#8A2E8A"/>
<circle cx="398.5" cy="1066.3" r="8.0" fill="#3461AC"/>
<circle cx="472.1" cy="885.5" r="8.0" fill="#3461AC"/>
<circle cx="629.5" cy="735.1" r="8.0" fill="#4C4B9C"/>
<circle cx="443.3" cy="905.5" r="8.0" fill="#3461AC"/>
<circle cx="323.8" cy="1027.3" r="8.0" fill="#4C4B9C"/>
<circle cx="379.0" cy="990.5" r="8.0" fill="#3461AC"/>
<circle cx="522.2" cy="865.5" r="8.0" fill="#3461AC"/>
<circle cx="376.1" cy="1073.4" r="8.0" fill="#4C4B9C"/>
<circle cx="517.3" cy="923.8" r="8.0" fill="#3461AC"/>
<circle cx="399.5" cy="1121.1" r="8.0" fill="#6C3C8E"/>
<circle cx="495.6" cy="1024.9" r="8.0" fill="#6C3C8E"/>
<circle cx="462.3" cy="919.8" r="8.0" fill="#6C3C8E"/>
<circle cx="669.6" cy="785.8" r="8.0" fill="#4C4B9C"/>
<circle cx="473.9" cy="946.5" r="8.0" fill="#8A2E8A"/>
<circle cx="625.6" cy="769.4" r="8.0" fill="#4C4B9C"/>
<circle cx="614.0" cy="794.8" r="8.0" fill="#4C4B9C"/>
<circle cx="569.0" cy="797.6" r="8.0" fill="#6C3C8E"/>
<circle cx="581.9" cy="905.4" r="8.0" fill="#4C4B9C"/>
<circle cx="658.8" cy="797.0" r="8.0" fill="#8A2E8A"/>
<circle cx="330.4" cy="1120.8" r="8.0" fill="#6C3C8E"/>
<circle cx="518.0" cy="800.9" r="8.0" fill="#6C3C8E"/>
<circle cx="515.1" cy="935.6" r="8.0" fill="#3461AC"/>
<circle cx="329.9" cy="1057.1" r="8.0" fill="#3461AC"/>
<circle cx="452.3" cy="1087.7" r="8.0" fill="#4C4B9C"/>
<circle cx="534.4" cy="885.3" r="8.0" fill="#3461AC"/>
<circle cx="385.4" cy="1055.7" r="8.0" fill="#3461AC"/>
<circle cx="444.2" cy="1021.9" r="8.0" fill="#3461AC"/>
<circle cx="456.1" cy="962.1" r="8.0" fill="#6C3C8E"/>
<circle cx="337.6" cy="1003.3" r="8.0" fill="#4C4B9C"/>
<circle cx="518.1" cy="836.7" r="8.0" fill="#4C4B9C"/>
<circle cx="379.3" cy="962.6" r="8.0" fill="#3461AC"/>
<circle cx="445.8" cy="1023.5" r="8.0" fill="#6C3C8E"/>
<circle cx="567.1" cy="787.3" r="8.0" fill="#8A2E8A"/>
<circle cx="474.4" cy="1003.7" r="8.0" fill="#6C3C8E"/>
<circle cx="481.4" cy="893.4" r="8.0" fill="#6C3C8E"/>
<circle cx="352.6" cy="1060.2" r="8.0" fill="#6C3C8E"/>
<circle cx="349.0" cy="1107.9" r="8.0" fill="#6C3C8E"/>
<circle cx="516.0" cy="973.7" r="8.0" fill="#8A2E8A"/>
<circle cx="577.1" cy="829.7" r="8.0" fill="#6C3C8E"/>
<circle cx="511.2" cy="826.1" r="8.0" fill="#4C4B9C"/>
<circle cx="536.0" cy="787.7" r="8.0" fill="#4C4B9C"/>
<circle cx="478.1" cy="1065.3" r="8.0" fill="#3461AC"/>
<circle cx="533.5" cy="780.9" r="8.0" fill="#6C3C8E"/>
<circle cx="457.1" cy="871.6" r="8.0" fill="#3461AC"/>
<circle cx="601.9" cy="906.1" r="8.0" fill="#4C4B9C"/>
<circle cx="410.0" cy="1045.0" r="8.0" fill="#3461AC"/>
<circle cx="535.2" cy="901.0" r="8.0" fill="#6C3C8E"/>
<circle cx="427.3" cy="859.9" r="8.0" fill="#4C4B9C"/>
<circle cx="407.7" cy="1076.3" r="8.0" fill="#3461AC"/>
<circle cx="369.2" cy="1012.6" r="8.0" fill="#3461AC"/>
<circle cx="595.3" cy="829.9" r="8.0" fill="#6C3C8E"/>
<circle cx="301.2" cy="1098.4" r="8.0" fill="#3461AC"/>
<circle cx="337.6" cy="1024.2" r="8.0" fill="#3461AC"/>
<circle cx="629.8" cy="757.5" r="8.0" fill="#6C3C8E"/>
<circle cx="576.1" cy="967.1" r="8.0" fill="#4C4B9C"/>
<circle cx="364.8" cy="1119.3" r="8.0" fill="#8A2E8A"/>
<circle cx="401.5" cy="1043.7" r="8.0" fill="#3461AC"/>
<circle cx="464.3" cy="1035.7" r="8.0" fill="#3461AC"/>
<circle cx="343.0" cy="997.0" r="8.0" fill="#4C4B9C"/>
<circle cx="598.0" cy="895.7" r="8.0" fill="#3461AC"/>
<circle cx="554.4" cy="977.8" r="8.0" fill="#4C4B9C"/>
<circle cx="402.0" cy="1043.1" r="8.0" fill="#A02587"/>
<circle cx="314.8" cy="1052.0" r="8.0" fill="#3461AC"/>
<circle cx="462.2" cy="1029.9" r="8.0" fill="#3461AC"/>
<circle cx="358.5" cy="999.4" r="8.0" fill="#4C4B9C"/>
<circle cx="372.8" cy="1017.1" r="8.0" fill="#6C3C8E"/>
<circle cx="587.8" cy="916.4" r="8.0" fill="#4C4B9C"/>
<circle cx="595.9" cy="744.9" r="8.0" fill="#8A2E8A"/>
<circle cx="496.4" cy="938.0" r="8.0" fill="#3461AC"/>
<circle cx="550.5" cy="834.8" r="8.0" fill="#6C3C8E"/>
<circle cx="480.3" cy="854.0" r="8.0" fill="#3461AC"/>
<circle cx="420.2" cy="1087.2" r="8.0" fill="#6C3C8E"/>
<circle cx="410.8" cy="999.0" r="8.0" fill="#6C3C8E"/>
<circle cx="453.2" cy="908.2" r="8.0" fill="#4C4B9C"/>
<circle cx="537.1" cy="929.4" r="8.0" fill="#3461AC"/>
<circle cx="644.4" cy="808.4" r="8.0" fill="#4C4B9C"/>
<circle cx="527.1" cy="984.5" r="8.0" fill="#4C4B9C"/>
<circle cx="408.6" cy="940.9" r="8.0" fill="#4C4B9C"/>
<circle cx="445.6" cy="1028.3" r="8.0" fill="#6C3C8E"/>
<circle cx="504.4" cy="814.4" r="8.0" fill="#3461AC"/>
<circle cx="377.4" cy="936.6" r="8.0" fill="#4C4B9C"/>
<circle cx="310.6" cy="1105.1" r="8.0" fill="#4C4B9C"/>
<circle cx="394.8" cy="940.7" r="8.0" fill="#3461AC"/>
<circle cx="389.2" cy="991.1" r="8.0" fill="#4C4B9C"/>
<circle cx="443.5" cy="1011.3" r="8.0" fill="#6C3C8E"/>
<circle cx="581.5" cy="959.7" r="8.0" fill="#3461AC"/>
<circle cx="438.6" cy="1048.6" r="8.0" fill="#4C4B9C"/>
<circle cx="311.0" cy="1134.9" r="8.0" fill="#8A2E8A"/>
<circle cx="491.6" cy="799.2" r="8.0" fill="#3461AC"/>
<circle cx="497.3" cy="1027.1" r="8.0" fill="#3461AC"/>
<circle cx="578.4" cy="732.0" r="8.0" fill="#4C4B9C"/>
<circle cx="431.0" cy="917.4" r="8.0" fill="#4C4B9C"/>
<circle cx="399.6" cy="1050.1" r="8.0" fill="#3461AC"/>
<circle cx="496.0" cy="857.0" r="8.0" fill="#3461AC"/>
<circle cx="605.4" cy="825.7" r="8.0" fill="#3461AC"/>
<circle cx="659.0" cy="738.5" r="8.0" fill="#4C4B9C"/>
<circle cx="463.5" cy="877.8" r="8.0" fill="#3461AC"/>
<circle cx="326.0" cy="1118.4" r="8.0" fill="#6C3C8E"/>
<circle cx="501.8" cy="963.2" r="8.0" fill="#3461AC"/>
<circle cx="391.9" cy="1090.9" r="8.0" fill="#3461AC"/>
<circle cx="353.1" cy="988.3" r="8.0" fill="#4C4B9C"/>
<circle cx="508.2" cy="869.2" r="8.0" fill="#6C3C8E"/>
<circle cx="389.8" cy="950.8" r="8.0" fill="#3461AC"/>
<circle cx="412.9" cy="1002.4" r="8.0" fill="#A02587"/>
<circle cx="599.8" cy="737.4" r="8.0" fill="#4C4B9C"/>
<circle cx="588.7" cy="920.1" r="8.0" fill="#3461AC"/>
<circle cx="517.6" cy="869.8" r="8.0" fill="#3461AC"/>
<circle cx="358.4" cy="1041.3" r="8.0" fill="#3461AC"/>
<circle cx="441.8" cy="998.8" r="8.0" fill="#6C3C8E"/>
<circle cx="529.4" cy="895.2" r="8.0" fill="#4C4B9C"/>
<circle cx="536.1" cy="828.1" r="8.0" fill="#4C4B9C"/>
<circle cx="424.7" cy="939.9" r="8.0" fill="#4C4B9C"/>
<circle cx="512.3" cy="826.8" r="8.0" fill="#3461AC"/>
<circle cx="485.5" cy="1052.4" r="8.0" fill="#6C3C8E"/>
<circle cx="696.6" cy="763.2" r="8.0" fill="#6C3C8E"/>
<circle cx="645.9" cy="816.3" r="8.0" fill="#8A2E8A"/>
<circle cx="397.2" cy="928.0" r="8.0" fill="#4C4B9C"/>
<circle cx="509.2" cy="815.1" r="8.0" fill="#8A2E8A"/>
<circle cx="489.4" cy="1059.8" r="8.0" fill="#6C3C8E"/>
<circle cx="375.3" cy="976.8" r="8.0" fill="#4C4B9C"/>
<circle cx="562.5" cy="855.0" r="8.0" fill="#6C3C8E"/>
<circle cx="457.5" cy="947.3" r="8.0" fill="#3461AC"/>
<circle cx="396.8" cy="1025.1" r="8.0" fill="#6C3C8E"/>
<circle cx="502.4" cy="1052.0" r="8.0" fill="#4C4B9C"/>
<circle cx="489.1" cy="969.5" r="8.0" fill="#3461AC"/>
<circle cx="485.3" cy="1013.6" r="8.0" fill="#3461AC"/>
<circle cx="401.1" cy="1063.4" r="8.0" fill="#6C3C8E"/>
<circle cx="355.1" cy="955.5" r="8.0" fill="#4C4B9C"/>
<circle cx="357.3" cy="973.2" r="8.0" fill="#8A2E8A"/>
<circle cx="449.7" cy="1006.9" r="8.0" fill="#4C4B9C"/>
<circle cx="554.6" cy="767.9" r="8.0" fill="#4C4B9C"/>
<circle cx="408.7" cy="1062.0" r="8.0" fill="#3461AC"/>
<circle cx="401.7" cy="1019.5" r="8.0" fill="#6C3C8E"/>
<circle cx="390.8" cy="1094.3" r="8.0" fill="#4C4B9C"/>
<circle cx="497.5" cy="1053.4" r="8.0" fill="#3461AC"/>
<circle cx="476.0" cy="948.3" r="8.0" fill="#8A2E8A"/>
<circle cx="367.7" cy="1000.8" r="8.0" fill="#4C4B9C"/>
<circle cx="529.3" cy="886.6" r="8.0" fill="#3461AC"/>
<circle cx="491.9" cy="1041.1" r="8.0" fill="#3461AC"/>
<circle cx="590.3" cy="838.9" r="8.0" fill="#3461AC"/>
<circle cx="581.0" cy="732.2" r="8.0" fill="#3461AC"/>
<circle cx="360.1" cy="1047.4" r="8.0" fill="#6C3C8E"/>
<circle cx="362.8" cy="983.3" r="8.0" fill="#3461AC"/>
<circle cx="539.6" cy="765.3" r="8.0" fill="#3461AC"/>
<circle cx="529.2" cy="970.2" r="8.0" fill="#4C4B9C"/>
<circle cx="463.6" cy="1083.8" r="8.0" fill="#3461AC"/>
<circle cx="593.0" cy="967.8" r="8.0" fill="#4C4B9C"/>
<circle cx="533.9" cy="912.4" r="8.0" fill="#6C3C8E"/>
<circle cx="492.0" cy="803.8" r="8.0" fill="#3461AC"/>
<circle cx="356.5" cy="1123.7" r="8.0" fill="#4C4B9C"/>
<circle cx="519.5" cy="832.1" r="8.0" fill="#6C3C8E"/>
<circle cx="501.8" cy="835.0" r="8.0" fill="#4C4B9C"/>
<circle cx="529.3" cy="807.6" r="8.0" fill="#4C4B9C"/>
<circle cx="609.2" cy="818.6" r="8.0" fill="#3461AC"/>
<circle cx="595.2" cy="744.4" r="8.0" fill="#3461AC"/>
<circle cx="352.8" cy="968.7" r="8.0" fill="#3461AC"/>
<circle cx="432.6" cy="1105.6" r="8.0" fill="#3461AC"/>
<circle cx="519.3" cy="789.3" r="8.0" fill="#6C3C8E"/>
<circle cx="450.1" cy="966.8" r="8.0" fill="#4C4B9C"/>
<circle cx="391.0" cy="1049.6" r="8.0" fill="#3461AC"/>
<circle cx="659.0" cy="751.3" r="8.0" fill="#4C4B9C"/>
<circle cx="545.5" cy="982.3" r="8.0" fill="#3461AC"/>
<circle cx="490.0" cy="820.6" r="8.0" fill="#3461AC"/>
<circle cx="339.2" cy="1077.4" r="8.0" fill="#6C3C8E"/>
<circle cx="538.4" cy="853.5" r="8.0" fill="#3461AC"/>
<circle cx="419.3" cy="928.9" r="8.0" fill="#6C3C8E"/>
<circle cx="458.6" cy="941.4" r="8.0" fill="#6C3C8E"/>
<circle cx="573.2" cy="823.3" r="8.0" fill="#3461AC"/>
<circle cx="494.1" cy="809.3" r="8.0" fill="#3461AC"/>
<circle cx="444.3" cy="1082.6" r="8.0" fill="#6C3C8E"/>
<circle cx="452.7" cy="841.1" r="8.0" fill="#4C4B9C"/>
<circle cx="341.5" cy="1021.4" r="8.0" fill="#6C3C8E"/>
<circle cx="358.7" cy="1032.1" r="8.0" fill="#6C3C8E"/>
<circle cx="476.1" cy="899.7" r="8.0" fill="#4C4B9C"/>
<circle cx="447.6" cy="969.1" r="8.0" fill="#6C3C8E"/>
<circle cx="532.3" cy="949.2" r="8.0" fill="#3461AC"/>
<circle cx="372.9" cy="1013.6" r="8.0" fill="#8A2E8A"/>
<circle cx="484.3" cy="962.5" r="8.0" fill="#3461AC"/>
<circle cx="340.8" cy="1031.5" r="8.0" fill="#3461AC"/>
<circle cx="551.3" cy="912.8" r="8.0" fill="#6C3C8E"/>
<circle cx="315.3" cy="1132.5" r="8.0" fill="#4C4B9C"/>
<circle cx="494.9" cy="1045.6" r="8.0" fill="#6C3C8E"/>
<circle cx="662.7" cy="746.7" r="8.0" fill="#3461AC"/>
<circle cx="330.4" cy="1106.8" r="8.0" fill="#4C4B9C"/>
<circle cx="625.2" cy="831.2" r="8.0" fill="#4C4B9C"/>
<circle cx="635.0" cy="806.1" r="8.0" fill="#3461AC"/>
<circle cx="402.0" cy="997.1" r="8.0" fill="#6C3C8E"/>
<circle cx="324.0" cy="1001.6" r="8.0" fill="#3461AC"/>
<circle cx="422.7" cy="960.1" r="8.0" fill="#3461AC"/>
<circle cx="516.7" cy="961.8" r="8.0" fill="#8A2E8A"/>
<circle cx="570.7" cy="812.9" r="8.0" fill="#6C3C8E"/>
<circle cx="583.1" cy="821.1" r="8.0" fill="#6C3C8E"/>
<circle cx="465.3" cy="908.3" r="8.0" fill="#6C3C8E"/>
<circle cx="539.3" cy="923.6" r="8.0" fill="#8A2E8A"/>
<circle cx="469.4" cy="850.8" r="8.0" fill="#6C3C8E"/>
<circle cx="448.6" cy="937.0" r="8.0" fill="#6C3C8E"/>
<circle cx="380.9" cy="1028.7" r="8.0" fill="#6C3C8E"/>
<circle cx="588.2" cy="788.4" r="8.0" fill="#3461AC"/>
<circle cx="584.2" cy="903.7" r="8.0" fill="#6C3C8E"/>
<circle cx="414.8" cy="1028.2" r="8.0" fill="#6C3C8E"/>
<circle cx="663.9" cy="734.6" r="8.0" fill="#6C3C8E"/>
<circle cx="481.3" cy="1019.7" r="8.0" fill="#3461AC"/>
<circle cx="437.3" cy="1103.7" r="8.0" fill="#6C3C8E"/>
<circle cx="459.0" cy="1075.5" r="8.0" fill="#3461AC"/>
<circle cx="586.1" cy="839.9" r="8.0" fill="#4C4B9C"/>
<circle cx="565.4" cy="868.3" r="8.0" fill="#6C3C8E"/>
<circle cx="336.3" cy="1095.8" r="8.0" fill="#4C4B9C"/>
<circle cx="370.7" cy="1104.6" r="8.0" fill="#4C4B9C"/>
<circle cx="623.9" cy="746.9" r="8.0" fill="#3461AC"/>
<circle cx="579.8" cy="930.8" r="8.0" fill="#6C3C8E"/>
<circle cx="587.7" cy="879.3" r="8.0" fill="#4C4B9C"/>
<circle cx="557.0" cy="784.4" r="8.0" fill="#3461AC"/>
<circle cx="474.2" cy="932.2" r="8.0" fill="#6C3C8E"/>
<circle cx="523.8" cy="881.5" r="8.0" fill="#4C4B9C"/>
<circle cx="377.2" cy="1096.8" r="8.0" fill="#4C4B9C"/>
<circle cx="404.6" cy="927.2" r="8.0" fill="#3461AC"/>
<circle cx="462.2" cy="897.3" r="8.0" fill="#6C3C8E"/>
<circle cx="424.2" cy="864.9" r="8.0" fill="#3461AC"/>
<circle cx="547.4" cy="821.6" r="8.0" fill="#3461AC"/>
<circle cx="371.5" cy="1043.4" r="8.0" fill="#3461AC"/>
<circle cx="367.7" cy="954.8" r="8.0" fill="#6C3C8E"/>
<circle cx="407.0" cy="919.3" r="8.0" fill="#3461AC"/>
<circle cx="553.3" cy="836.8" r="8.0" fill="#4C4B9C"/>
<circle cx="309.5" cy="1100.9" r="8.0" fill="#4C4B9C"/>
<circle cx="616.0" cy="729.8" r="8.0" fill="#8A2E8A"/>
<circle cx="563.2" cy="758.0" r="8.0" fill="#8A2E8A"/>
<circle cx="621.4" cy="786.0" r="8.0" fill="#3461AC"/>
<circle cx="468.4" cy="855.9" r="8.0" fill="#6C3C8E"/>
<circle cx="441.2" cy="1024.0" r="8.0" fill="#3461AC"/>
<circle cx="487.6" cy="803.7" r="8.0" fill="#3461AC"/>
<circle cx="639.7" cy="822.5" r="8.0" fill="#3461AC"/>
<circle cx="458.9" cy="957.2" r="8.0" fill="#6C3C8E"/>
<circle cx="445.1" cy="977.9" r="8.0" fill="#4C4B9C"/>
<circle cx="333.7" cy="1082.0" r="8.0" fill="#6C3C8E"/>
<circle cx="385.5" cy="1132.7" r="8.0" fill="#3461AC"/>
<circle cx="641.6" cy="811.9" r="8.0" fill="#4C4B9C"/>
<circle cx="402.6" cy="1085.3" r="8.0" fill="#3461AC"/>
<circle cx="430.9" cy="895.9" r="8.0" fill="#3461AC"/>
<circle cx="462.3" cy="953.7" r="8.0" fill="#3461AC"/>
<circle cx="590.8" cy="903.6" r="8.0" fill="#3461AC"/>
<circle cx="523.0" cy="876.0" r="8.0" fill="#6C3C8E"/>
<circle cx="534.7" cy="849.3" r="8.0" fill="#3461AC"/>
<circle cx="531.8" cy="941.6" r="8.0" fill="#3461AC"/>
<circle cx="550.5" cy="788.7" r="8.0" fill="#3461AC"/>
<circle cx="445.9" cy="974.0" r="8.0" fill="#3461AC"/>
<circle cx="427.1" cy="958.2" r="8.0" fill="#4C4B9C"/>
<circle cx="455.0" cy="870.5" r="8.0" fill="#4C4B9C"/>
<circle cx="328.9" cy="1040.2" r="8.0" fill="#3461AC"/>
<circle cx="340.2" cy="1044.2" r="8.0" fill="#3461AC"/>
<circle cx="304.4" cy="1081.3" r="8.0" fill="#3461AC"/>
<circle cx="512.3" cy="848.0" r="8.0" fill="#6C3C8E"/>
<circle cx="431.8" cy="1005.2" r="8.0" fill="#3461AC"/>
<circle cx="370.4" cy="1024.9" r="8.0" fill="#3461AC"/>
<circle cx="443.4" cy="1056.6" r="8.0" fill="#3461AC"/>
<circle cx="564.3" cy="957.7" r="8.0" fill="#4C4B9C"/>
<circle cx="388.3" cy="957.0" r="8.0" fill="#6C3C8E"/>
<circle cx="510.7" cy="829.2" r="8.0" fill="#4C4B9C"/>
<circle cx="358.6" cy="1024.4" r="8.0" fill="#3461AC"/>
<circle cx="521.2" cy="825.4" r="8.0" fill="#4C4B9C"/>
<circle cx="653.6" cy="783.7" r="8.0" fill="#3461AC"/>
<circle cx="472.1" cy="852.1" r="8.0" fill="#4C4B9C"/>
<circle cx="646.5" cy="808.9" r="8.0" fill="#6C3C8E"/>
<circle cx="590.8" cy="776.8" r="8.0" fill="#8A2E8A"/>
<circle cx="429.3" cy="912.5" r="8.0" fill="#6C3C8E"/>
<circle cx="505.5" cy="941.4" r="8.0" fill="#6C3C8E"/>
<circle cx="589.3" cy="848.5" r="8.0" fill="#6C3C8E"/>
<circle cx="508.3" cy="972.1" r="8.0" fill="#3461AC"/>
<circle cx="463.9" cy="914.1" r="8.0" fill="#A02587"/>
<circle cx="483.8" cy="952.6" r="8.0" fill="#4C4B9C"/>
<circle cx="509.2" cy="777.9" r="8.0" fill="#4C4B9C"/>
<circle cx="460.4" cy="1066.1" r="8.0" fill="#8A2E8A"/>
<circle cx="430.7" cy="858.9" r="8.0" fill="#3461AC"/>
<circle cx="492.3" cy="825.2" r="8.0" fill="#4C4B9C"/>
<circle cx="353.6" cy="1079.9" r="8.0" fill="#4C4B9C"/>
<circle cx="420.4" cy="988.4" r="8.0" fill="#6C3C8E"/>
<circle cx="433.1" cy="1093.7" r="8.0" fill="#6C3C8E"/>
<circle cx="574.8" cy="761.6" r="8.0" fill="#3461AC"/>
<circle cx="378.2" cy="1048.1" r="8.0" fill="#3461AC"/>
<circle cx="433.1" cy="928.2" r="8.0" fill="#4C4B9C"/>
<circle cx="447.2" cy="894.0" r="8.0" fill="#8A2E8A"/>
<circle cx="471.4" cy="1046.6" r="8.0" fill="#3461AC"/>
<circle cx="527.7" cy="894.7" r="8.0" fill="#3461AC"/>
<circle cx="533.7" cy="926.6" r="8.0" fill="#6C3C8E"/>
<circle cx="700.7" cy="740.3" r="8.0" fill="#6C3C8E"/>
<circle cx="365.3" cy="1075.2" r="8.0" fill="#6C3C8E"/>
<circle cx="333.1" cy="1069.6" r="8.0" fill="#3461AC"/>
<circle cx="417.7" cy="1109.8" r="8.0" fill="#6C3C8E"/>
<circle cx="561.0" cy="970.8" r="8.0" fill="#4C4B9C"/>
<circle cx="600.4" cy="790.3" r="8.0" fill="#6C3C8E"/>
<circle cx="471.7" cy="1040.9" r="8.0" fill="#3461AC"/>
<circle cx="317.7" cy="1108.8" r="8.0" fill="#8A2E8A"/>
<circle cx="629.7" cy="839.5" r="8.0" fill="#6C3C8E"/>
<circle cx="569.8" cy="896.0" r="8.0" fill="#4C4B9C"/>
<circle cx="388.7" cy="999.0" r="8.0" fill="#3461AC"/>
<circle cx="333.3" cy="1138.3" r="8.0" fill="#4C4B9C"/>
<circle cx="446.1" cy="960.7" r="8.0" fill="#6C3C8E"/>
<circle cx="553.2" cy="783.6" r="8.0" fill="#6C3C8E"/>
<circle cx="569.0" cy="797.6" r="8.0" fill="#6C3C8E"/>
<circle cx="474.3" cy="1039.7" r="8.0" fill="#3461AC"/>
<circle cx="435.4" cy="958.6" r="8.0" fill="#3461AC"/>
<circle cx="495.7" cy="847.4" r="8.0" fill="#4C4B9C"/>
<circle cx="541.5" cy="958.5" r="8.0" fill="#4C4B9C"/>
<circle cx="396.5" cy="958.0" r="8.0" fill="#3461AC"/>
<circle cx="403.7" cy="943.0" r="8.0" fill="#3461AC"/>
<circle cx="343.3" cy="971.2" r="8.0" fill="#8A2E8A"/>
<circle cx="573.3" cy="821.3" r="8.0" fill="#4C4B9C"/>
<circle cx="558.0" cy="808.5" r="8.0" fill="#3461AC"/>
<circle cx="522.1" cy="875.7" r="8.0" fill="#3461AC"/>
<circle cx="593.2" cy="730.3" r="8.0" fill="#4C4B9C"/>
<circle cx="483.5" cy="965.3" r="8.0" fill="#4C4B9C"/>
<circle cx="493.0" cy="988.2" r="8.0" fill="#3461AC"/>
<circle cx="427.0" cy="1017.5" r="8.0" fill="#4C4B9C"/>
<circle cx="452.7" cy="904.3" r="8.0" fill="#4C4B9C"/>
<circle cx="487.6" cy="860.4" r="8.0" fill="#6C3C8E"/>
<circle cx="521.6" cy="845.8" r="8.0" fill="#A02587"/>
<circle cx="421.1" cy="897.8" r="8.0" fill="#3461AC"/>
<circle cx="308.4" cy="1042.9" r="8.0" fill="#4C4B9C"/>
<circle cx="313.1" cy="1133.9" r="8.0" fill="#3461AC"/>
<circle cx="444.5" cy="875.9" r="8.0" fill="#4C4B9C"/>
<circle cx="333.7" cy="1051.9" r="8.0" fill="#3461AC"/>
<circle cx="505.1" cy="861.0" r="8.0" fill="#3461AC"/>
<circle cx="375.4" cy="1112.6" r="8.0" fill="#4C4B9C"/>
<circle cx="445.0" cy="925.5" r="8.0" fill="#4C4B9C"/>
<circle cx="427.5" cy="1025.3" r="8.0" fill="#4C4B9C"/>
<circle cx="491.2" cy="1003.5" r="8.0" fill="#4C4B9C"/>
<circle cx="431.2" cy="1050.6" r="8.0" fill="#3461AC"/>
<circle cx="571.1" cy="962.7" r="8.0" fill="#6C3C8E"/>
<circle cx="395.6" cy="921.9" r="8.0" fill="#3461AC"/>
<circle cx="402.7" cy="1088.5" r="8.0" fill="#3461AC"/>
<circle cx="535.8" cy="951.1" r="8.0" fill="#3461AC"/>
<circle cx="320.3" cy="1093.0" r="8.0" fill="#6C3C8E"/>
<circle cx="573.0" cy="928.5" r="8.0" fill="#3461AC"/>
<circle cx="626.0" cy="808.3" r="8.0" fill="#6C3C8E"/>
<circle cx="467.5" cy="1007.4" r="8.0" fill="#6C3C8E"/>
<circle cx="454.1" cy="1086.9" r="8.0" fill="#3461AC"/>
<circle cx="463.5" cy="1085.2" r="8.0" fill="#4C4B9C"/>
<circle cx="358.3" cy="1026.7" r="8.0" fill="#6C3C8E"/>
<circle cx="456.3" cy="842.2" r="8.0" fill="#6C3C8E"/>
<circle cx="639.8" cy="764.3" r="8.0" fill="#3461AC"/>
<circle cx="387.5" cy="971.9" r="8.0" fill="#3461AC"/>
<circle cx="364.5" cy="1102.6" r="8.0" fill="#3461AC"/>
<circle cx="493.8" cy="915.2" r="8.0" fill="#3461AC"/>
<circle cx="382.0" cy="1011.2" r="8.0" fill="#3461AC"/>
<circle cx="432.7" cy="1072.5" r="8.0" fill="#3461AC"/>
<circle cx="519.6" cy="869.7" r="8.0" fill="#6C3C8E"/>
<circle cx="335.4" cy="1110.6" r="8.0" fill="#4C4B9C"/>
<circle cx="700.4" cy="753.7" r="8.0" fill="#4C4B9C"/>
<circle cx="391.1" cy="916.2" r="8.0" fill="#8A2E8A"/>
<circle cx="391.2" cy="1043.1" r="8.0" fill="#6C3C8E"/>
<circle cx="468.5" cy="954.0" r="8.0" fill="#A02587"/>
<circle cx="383.5" cy="983.6" r="8.0" fill="#3461AC"/>
<circle cx="509.6" cy="951.6" r="8.0" fill="#6C3C8E"/>
<circle cx="405.1" cy="1073.6" r="8.0" fill="#6C3C8E"/>
<circle cx="319.1" cy="1110.6" r="8.0" fill="#6C3C8E"/>
<circle cx="570.0" cy="905.9" r="8.0" fill="#4C4B9C"/>
<circle cx="353.5" cy="1053.4" r="8.0" fill="#8A2E8A"/>
<circle cx="472.9" cy="982.7" r="8.0" fill="#4C4B9C"/>
<circle cx="478.8" cy="952.2" r="8.0" fill="#8A2E8A"/>
<circle cx="494.4" cy="985.0" r="8.0" fill="#8A2E8A"/>
<circle cx="604.7" cy="766.3" r="8.0" fill="#4C4B9C"/>
<circle cx="402.2" cy="915.9" r="8.0" fill="#4C4B9C"/>
<circle cx="399.7" cy="967.0" r="8.0" fill="#3461AC"/>
<circle cx="659.5" cy="779.9" r="8.0" fill="#4C4B9C"/>
<circle cx="606.7" cy="820.2" r="8.0" fill="#8A2E8A"/>
<circle cx="331.2" cy="1045.1" r="8.0" fill="#6C3C8E"/>
<circle cx="399.6" cy="1040.7" r="8.0" fill="#3461AC"/>
<circle cx="669.3" cy="769.2" r="8.0" fill="#3461AC"/>
<circle cx="425.7" cy="1067.0" r="8.0" fill="#3461AC"/>
<circle cx="537.0" cy="870.2" r="8.0" fill="#6C3C8E"/>
<circle cx="383.1" cy="1009.8" r="8.0" fill="#4C4B9C"/>
<circle cx="657.1" cy="812.2" r="8.0" fill="#4C4B9C"/>
<circle cx="358.9" cy="1024.1" r="8.0" fill="#8A2E8A"/>
<circle cx="306.2" cy="1136.4" r="8.0" fill="#4C4B9C"/>
<circle cx="630.2" cy="732.9" r="8.0" fill="#6C3C8E"/>
<circle cx="432.8" cy="1030.1" r="8.0" fill="#3461AC"/>
<circle cx="548.1" cy="852.1" r="8.0" fill="#A02587"/>
<circle cx="425.5" cy="910.0" r="8.0" fill="#3461AC"/>
<circle cx="437.1" cy="1077.8" r="8.0" fill="#3461AC"/>
<circle cx="418.5" cy="1043.4" r="8.0" fill="#4C4B9C"/>
<circle cx="611.4" cy="830.8" r="8.0" fill="#4C4B9C"/>
<circle cx="559.7" cy="932.6" r="8.0" fill="#4C4B9C"/>
<circle cx="493.8" cy="1032.5" r="8.0" fill="#3461AC"/>
<circle cx="328.6" cy="1135.2" r="8.0" fill="#6C3C8E"/>
<circle cx="355.0" cy="981.9" r="8.0" fill="#3461AC"/>
<circle cx="710.9" cy="754.1" r="8.0" fill="#6C3C8E"/>
<circle cx="371.9" cy="1106.1" r="8.0" fill="#6C3C8E"/>
<circle cx="560.4" cy="843.0" r="8.0" fill="#6C3C8E"/>
<circle cx="559.9" cy="777.1" r="8.0" fill="#4C4B9C"/>
<circle cx="339.8" cy="1139.2" r="8.0" fill="#4C4B9C"/>
<circle cx="556.1" cy="835.0" r="8.0" fill="#6C3C8E"/>
</g></g>
<circle cx="646.0" cy="729.9" r="8.0" fill="#6C3C8E"/>
<circle cx="389.0" cy="1131.6" r="8.0" fill="#3461AC"/>
<circle cx="651.0" cy="839.5" r="8.0" fill="#4C4B9C"/>
<circle cx="513.1" cy="771.3" r="8.0" fill="#3461AC"/>
<circle cx="571.1" cy="976.4" r="8.0" fill="#3461AC"/>
<circle cx="647.9" cy="840.7" r="8.0" fill="#3461AC"/>
<circle cx="571.4" cy="738.3" r="8.0" fill="#3461AC"/>
<circle cx="342.5" cy="1144.3" r="8.0" fill="#4C4B9C"/>
<circle cx="589.9" cy="852.2" r="8.0" fill="#6C3C8E"/>
<circle cx="596.1" cy="889.0" r="8.0" fill="#3461AC"/>
<circle cx="299.8" cy="1122.6" r="8.0" fill="#3461AC"/>
<circle cx="508.1" cy="1004.6" r="8.0" fill="#6C3C8E"/>
<circle cx="355.2" cy="943.7" r="8.0" fill="#3461AC"/>
<circle cx="682.6" cy="780.9" r="8.0" fill="#3461AC"/>
<circle cx="499.2" cy="1025.2" r="8.0" fill="#3461AC"/>
<circle cx="565.2" cy="753.6" r="8.0" fill="#3461AC"/>
<circle cx="443.7" cy="840.8" r="8.0" fill="#3461AC"/>
<circle cx="300.0" cy="1111.9" r="8.0" fill="#4C4B9C"/>
<circle cx="500.5" cy="1029.2" r="8.0" fill="#3461AC"/>
<circle cx="593.4" cy="962.2" r="8.0" fill="#3461AC"/>
<circle cx="433.9" cy="1109.3" r="8.0" fill="#3461AC"/>
<circle cx="353.2" cy="1144.3" r="8.0" fill="#3461AC"/>
<circle cx="452.9" cy="824.2" r="8.0" fill="#4C4B9C"/>
<circle cx="456.1" cy="819.0" r="8.0" fill="#3461AC"/>
<circle cx="508.7" cy="1050.8" r="8.0" fill="#3461AC"/>
<circle cx="468.6" cy="813.7" r="8.0" fill="#3461AC"/>
<circle cx="701.4" cy="767.2" r="8.0" fill="#6C3C8E"/>
<circle cx="549.2" cy="998.4" r="8.0" fill="#3461AC"/>
<circle cx="499.2" cy="1055.5" r="8.0" fill="#3461AC"/>
<circle cx="484.0" cy="798.7" r="8.0" fill="#4C4B9C"/>
<circle cx="605.5" cy="730.5" r="8.0" fill="#4C4B9C"/>
<circle cx="602.1" cy="906.7" r="8.0" fill="#6C3C8E"/>
<circle cx="576.8" cy="728.2" r="8.0" fill="#3461AC"/>
<circle cx="412.3" cy="866.4" r="8.0" fill="#3461AC"/>
<circle cx="615.5" cy="729.5" r="8.0" fill="#6C3C8E"/>
<circle cx="318.5" cy="1013.2" r="8.0" fill="#3461AC"/>
<circle cx="321.1" cy="1144.3" r="8.0" fill="#4C4B9C"/>
<circle cx="299.7" cy="1144.3" r="8.0" fill="#4C4B9C"/>
<circle cx="456.7" cy="1096.8" r="8.0" fill="#4C4B9C"/>
<circle cx="299.4" cy="1144.0" r="8.0" fill="#3461AC"/>
<circle cx="408.0" cy="877.6" r="8.0" fill="#3461AC"/>
<circle cx="465.7" cy="1090.8" r="8.0" fill="#3461AC"/>
<circle cx="522.9" cy="1001.4" r="8.0" fill="#3461AC"/>
<circle cx="708.6" cy="760.0" r="8.0" fill="#3461AC"/>
<circle cx="652.8" cy="828.8" r="8.0" fill="#6C3C8E"/>
<circle cx="592.0" cy="923.4" r="8.0" fill="#6C3C8E"/>
<circle cx="479.4" cy="802.6" r="8.0" fill="#3461AC"/>
<circle cx="658.6" cy="817.2" r="8.0" fill="#3461AC"/>
<circle cx="593.6" cy="729.3" r="8.0" fill="#4C4B9C"/>
<circle cx="303.2" cy="1049.0" r="8.0" fill="#3461AC"/>
<circle cx="557.5" cy="988.5" r="8.0" fill="#3461AC"/>
<circle cx="363.9" cy="1144.3" r="8.0" fill="#3461AC"/>
<circle cx="417.6" cy="853.9" r="8.0" fill="#3461AC"/>
<circle cx="404.4" cy="888.3" r="8.0" fill="#3461AC"/>
<circle cx="399.4" cy="900.3" r="8.0" fill="#3461AC"/>
<circle cx="300.7" cy="1069.1" r="8.0" fill="#3461AC"/>
<circle cx="669.9" cy="803.1" r="8.0" fill="#6C3C8E"/>
<circle cx="378.3" cy="934.8" r="8.0" fill="#3461AC"/>
<circle cx="622.6" cy="837.8" r="8.0" fill="#6C3C8E"/>
<circle cx="594.2" cy="973.2" r="8.0" fill="#3461AC"/>
<circle cx="389.2" cy="913.8" r="8.0" fill="#3461AC"/>
<circle cx="340.6" cy="962.6" r="8.0" fill="#3461AC"/>
<circle cx="693.3" cy="773.7" r="8.0" fill="#4C4B9C"/>
<circle cx="380.1" cy="1137.0" r="8.0" fill="#3461AC"/>
<circle cx="325.6" cy="992.0" r="8.0" fill="#3461AC"/>
<circle cx="313.9" cy="1025.0" r="8.0" fill="#3461AC"/>
<circle cx="532.3" cy="760.8" r="8.0" fill="#4C4B9C"/>
<circle cx="715.5" cy="750.1" r="8.0" fill="#6C3C8E"/>
<circle cx="446.4" cy="1102.8" r="8.0" fill="#3461AC"/>
<circle cx="489.6" cy="1060.3" r="8.0" fill="#4C4B9C"/>
<circle cx="598.5" cy="917.4" r="8.0" fill="#3461AC"/>
<circle cx="610.1" cy="830.6" r="8.0" fill="#6C3C8E"/>
<circle cx="715.1" cy="738.8" r="8.0" fill="#4C4B9C"/>
<circle cx="624.5" cy="729.5" r="8.0" fill="#4C4B9C"/>
<circle cx="497.4" cy="1010.0" r="8.0" fill="#6C3C8E"/>
<circle cx="673.5" cy="792.4" r="8.0" fill="#3461AC"/>
<circle cx="665.8" cy="810.0" r="8.0" fill="#6C3C8E"/>
<circle cx="553.8" cy="758.5" r="8.0" fill="#3461AC"/>
<circle cx="365.4" cy="937.8" r="8.0" fill="#3461AC"/>
<circle cx="598.1" cy="971.8" r="8.0" fill="#3461AC"/>
<circle cx="705.6" cy="729.6" r="8.0" fill="#6C3C8E"/>
<circle cx="588.6" cy="952.7" r="8.0" fill="#3461AC"/>
<circle cx="409.3" cy="1120.6" r="8.0" fill="#3461AC"/>
<circle cx="425.6" cy="848.8" r="8.0" fill="#3461AC"/>
<circle cx="584.1" cy="939.8" r="8.0" fill="#3461AC"/>
<circle cx="674.5" cy="728.5" r="8.0" fill="#3461AC"/>
<circle cx="496.5" cy="795.2" r="8.0" fill="#3461AC"/>
<circle cx="501.4" cy="1045.7" r="8.0" fill="#3461AC"/>
<circle cx="601.4" cy="899.8" r="8.0" fill="#6C3C8E"/>
<circle cx="508.1" cy="780.6" r="8.0" fill="#3461AC"/>
<circle cx="308.6" cy="1037.0" r="8.0" fill="#4C4B9C"/>
<circle cx="371.2" cy="1142.3" r="8.0" fill="#3461AC"/>
<circle cx="300.5" cy="1079.8" r="8.0" fill="#3461AC"/>
<circle cx="581.8" cy="976.4" r="8.0" fill="#3461AC"/>
<circle cx="474.7" cy="1084.8" r="8.0" fill="#3461AC"/>
<circle cx="479.7" cy="1075.2" r="8.0" fill="#6C3C8E"/>
<circle cx="633.5" cy="840.7" r="8.0" fill="#3461AC"/>
<circle cx="300.3" cy="1090.5" r="8.0" fill="#3461AC"/>
<circle cx="421.8" cy="1115.1" r="8.0" fill="#6C3C8E"/>
<circle cx="310.4" cy="1144.3" r="8.0" fill="#4C4B9C"/>
<circle cx="347.3" cy="953.0" r="8.0" fill="#3461AC"/>
<circle cx="695.5" cy="727.5" r="8.0" fill="#6C3C8E"/>
<circle cx="299.6" cy="1133.3" r="8.0" fill="#4C4B9C"/>
<circle cx="386.3" cy="921.1" r="8.0" fill="#3461AC"/>
<circle cx="322.0" cy="1002.6" r="8.0" fill="#3461AC"/>
<circle cx="593.4" cy="836.3" r="8.0" fill="#3461AC"/>
<circle cx="591.1" cy="864.1" r="8.0" fill="#3461AC"/>
<circle cx="656.0" cy="727.9" r="8.0" fill="#6C3C8E"/>
<circle cx="583.6" cy="726.3" r="8.0" fill="#3461AC"/>
<circle cx="508.6" cy="1052.9" r="8.0" fill="#4C4B9C"/>
<circle cx="523.8" cy="764.1" r="8.0" fill="#3461AC"/>
<circle cx="300.1" cy="1101.2" r="8.0" fill="#4C4B9C"/>
<circle cx="398.0" cy="1126.3" r="8.0" fill="#3461AC"/>
<circle cx="543.0" cy="759.6" r="8.0" fill="#3461AC"/>
<circle cx="685.5" cy="728.5" r="8.0" fill="#6C3C8E"/>
<circle cx="300.9" cy="1058.3" r="8.0" fill="#3461AC"/>
<circle cx="333.9" cy="972.3" r="8.0" fill="#3461AC"/>
<circle cx="329.3" cy="981.3" r="8.0" fill="#3461AC"/>
<circle cx="664.5" cy="727.5" r="8.0" fill="#4C4B9C"/>
<circle cx="331.8" cy="1144.3" r="8.0" fill="#3461AC"/>
<circle cx="634.5" cy="730.5" r="8.0" fill="#6C3C8E"/>
<circle cx="537.1" cy="1001.4" r="8.0" fill="#4C4B9C"/>
<circle cx="592.3" cy="876.0" r="8.0" fill="#6C3C8E"/>
<circle cx="668.6" cy="714.4" r="8.0" fill="#982888"/>
<circle cx="669.8" cy="709.8" r="8.0" fill="#6C3C8E"/>
<circle cx="676.5" cy="689.9" r="8.0" fill="#982888"/>
<circle cx="702.0" cy="725.9" r="8.0" fill="#4C4B9C"/>
<circle cx="698.1" cy="720.1" r="8.0" fill="#6C3C8E"/>
<circle cx="695.8" cy="722.3" r="8.0" fill="#4C4B9C"/>
<circle cx="699.9" cy="688.9" r="8.0" fill="#982888"/>
<circle cx="717.0" cy="722.6" r="8.0" fill="#3461AC"/>
<circle cx="646.4" cy="717.3" r="8.0" fill="#3461AC"/>
<circle cx="664.8" cy="706.0" r="8.0" fill="#982888"/>
<circle cx="665.3" cy="714.0" r="8.0" fill="#3461AC"/>
<circle cx="692.7" cy="708.5" r="8.0" fill="#4C4B9C"/>
<circle cx="719.0" cy="718.6" r="8.0" fill="#982888"/>
<circle cx="654.4" cy="723.4" r="8.0" fill="#6C3C8E"/>
<circle cx="709.4" cy="706.2" r="8.0" fill="#4C4B9C"/>
<circle cx="693.0" cy="723.8" r="8.0" fill="#3461AC"/>
<circle cx="699.2" cy="696.9" r="8.0" fill="#6C3C8E"/>
<circle cx="707.0" cy="700.4" r="8.0" fill="#6C3C8E"/>
<circle cx="674.1" cy="694.6" r="8.0" fill="#6C3C8E"/>
<circle cx="678.1" cy="707.9" r="8.0" fill="#6C3C8E"/>
<circle cx="668.6" cy="731.0" r="8.0" fill="#6C3C8E"/>
<circle cx="653.1" cy="704.0" r="8.0" fill="#6C3C8E"/>
<circle cx="705.7" cy="728.0" r="8.0" fill="#4C4B9C"/>
<circle cx="684.5" cy="690.8" r="8.0" fill="#982888"/>
<circle cx="680.2" cy="697.4" r="8.0" fill="#4C4B9C"/>
<circle cx="718.5" cy="707.3" r="8.0" fill="#982888"/>
<circle cx="704.7" cy="718.6" r="8.0" fill="#4C4B9C"/>
<circle cx="678.9" cy="725.3" r="8.0" fill="#6C3C8E"/>
<circle cx="670.0" cy="731.0" r="8.0" fill="#6C3C8E"/>
<circle cx="690.0" cy="731.0" r="8.0" fill="#982888"/>
<circle cx="656.5" cy="722.1" r="8.0" fill="#982888"/>
<circle cx="651.3" cy="727.7" r="8.0" fill="#982888"/>
<circle cx="649.1" cy="721.7" r="8.0" fill="#6C3C8E"/>
<circle cx="685.3" cy="717.9" r="8.0" fill="#3461AC"/>
<circle cx="695.9" cy="704.3" r="8.0" fill="#6C3C8E"/>
<circle cx="703.0" cy="726.8" r="8.0" fill="#3461AC"/>
<circle cx="706.0" cy="723.1" r="8.0" fill="#6C3C8E"/>
<circle cx="713.9" cy="696.6" r="8.0" fill="#6C3C8E"/>
<circle cx="713.3" cy="697.3" r="8.0" fill="#982888"/>
<circle cx="685.9" cy="695.3" r="8.0" fill="#6C3C8E"/>
<circle cx="696.9" cy="699.9" r="8.0" fill="#4C4B9C"/>
<circle cx="719.5" cy="721.3" r="8.0" fill="#3461AC"/>
<circle cx="679.4" cy="695.1" r="8.0" fill="#6C3C8E"/>
<circle cx="710.9" cy="727.7" r="8.0" fill="#6C3C8E"/>
<circle cx="677.0" cy="716.5" r="8.0" fill="#3461AC"/>
<circle cx="664.6" cy="695.5" r="8.0" fill="#6C3C8E"/>
<circle cx="666.2" cy="698.8" r="8.0" fill="#3461AC"/>
<circle cx="706.2" cy="701.4" r="8.0" fill="#6C3C8E"/>
<circle cx="705.1" cy="715.8" r="8.0" fill="#6C3C8E"/>
<circle cx="708.8" cy="707.5" r="8.0" fill="#4C4B9C"/>
<circle cx="680.4" cy="719.3" r="8.0" fill="#3461AC"/>
<circle cx="691.9" cy="688.7" r="8.0" fill="#3461AC"/>
<circle cx="680.1" cy="688.9" r="8.0" fill="#6C3C8E"/>
<circle cx="534.1" cy="687.4" r="8.0" fill="#3461AC"/>
<circle cx="551.2" cy="701.8" r="8.0" fill="#3461AC"/>
<circle cx="480.1" cy="742.4" r="8.0" fill="#3461AC"/>
<circle cx="517.6" cy="734.8" r="8.0" fill="#3461AC"/>
<circle cx="616.5" cy="667.4" r="8.0" fill="#3461AC"/>
<circle cx="639.6" cy="675.6" r="8.0" fill="#3461AC"/>
<circle cx="623.1" cy="692.1" r="8.0" fill="#3461AC"/>
<circle cx="647.0" cy="641.0" r="8.0" fill="#3461AC"/>
<circle cx="652.6" cy="685.3" r="8.0" fill="#3461AC"/>
<circle cx="453.8" cy="821.3" r="8.0" fill="#3461AC"/>
<circle cx="635.0" cy="706.0" r="8.0" fill="#3461AC"/>
<circle cx="741.3" cy="713.4" r="8.0" fill="#3461AC"/>
<circle cx="696.0" cy="785.5" r="8.0" fill="#3461AC"/>
<circle cx="706.3" cy="782.4" r="8.0" fill="#3461AC"/>
<circle cx="672.3" cy="891.6" r="8.0" fill="#3461AC"/>
<circle cx="653.8" cy="869.0" r="8.0" fill="#3461AC"/>
<circle cx="628.0" cy="852.5" r="8.0" fill="#3461AC"/>
<circle cx="646.5" cy="844.2" r="8.0" fill="#3461AC"/>
<circle cx="653.8" cy="834.0" r="8.0" fill="#3461AC"/>
<circle cx="609.5" cy="856.6" r="8.0" fill="#3461AC"/>
<circle cx="609.5" cy="848.4" r="8.0" fill="#3461AC"/>
<circle cx="597.1" cy="821.6" r="8.0" fill="#3461AC"/>
<circle cx="605.3" cy="827.8" r="8.0" fill="#3461AC"/>
<circle cx="623.9" cy="898.8" r="8.0" fill="#3461AC"/>
<circle cx="638.3" cy="899.9" r="8.0" fill="#3461AC"/>
<circle cx="621.8" cy="912.2" r="8.0" fill="#3461AC"/>
<circle cx="613.6" cy="928.7" r="8.0" fill="#3461AC"/>
<circle cx="626.0" cy="928.7" r="8.0" fill="#3461AC"/>
<circle cx="640.4" cy="939.0" r="8.0" fill="#3461AC"/>
<circle cx="646.5" cy="945.2" r="8.0" fill="#3461AC"/>
<circle cx="652.7" cy="930.8" r="8.0" fill="#3461AC"/>
<circle cx="661.0" cy="923.6" r="8.0" fill="#3461AC"/>
<circle cx="604.3" cy="974.1" r="8.0" fill="#3461AC"/>
<circle cx="566.2" cy="978.2" r="8.0" fill="#3461AC"/>
<circle cx="593.0" cy="963.8" r="8.0" fill="#3461AC"/>
<circle cx="580.6" cy="926.7" r="8.0" fill="#3461AC"/>
<circle cx="586.8" cy="926.7" r="8.0" fill="#3461AC"/>
<circle cx="661.3" cy="923.4" r="8.0" fill="#3461AC"/>
<circle cx="655.8" cy="930.2" r="8.0" fill="#3461AC"/>
<circle cx="650.3" cy="935.7" r="8.0" fill="#3461AC"/>
<circle cx="639.3" cy="939.8" r="8.0" fill="#3461AC"/>
<circle cx="646.9" cy="944.0" r="8.0" fill="#3461AC"/>
<circle cx="603.6" cy="974.9" r="8.0" fill="#3461AC"/>
<circle cx="566.5" cy="979.0" r="8.0" fill="#3461AC"/>
<circle cx="520.5" cy="1012.0" r="8.0" fill="#3461AC"/>
<circle cx="529.5" cy="1047.7" r="8.0" fill="#3461AC"/>
<circle cx="625.6" cy="928.8" r="8.0" fill="#3461AC"/>
<circle cx="614.6" cy="931.6" r="8.0" fill="#3461AC"/>
<circle cx="638.0" cy="901.4" r="8.0" fill="#3461AC"/>
<circle cx="622.9" cy="901.4" r="8.0" fill="#3461AC"/>
<circle cx="742.0" cy="713.7" r="8.0" fill="#3461AC"/>
<circle cx="722.4" cy="649.8" r="8.0" fill="#3461AC"/>
<circle cx="736.8" cy="628.2" r="8.0" fill="#3461AC"/>
<circle cx="695.6" cy="785.8" r="8.0" fill="#3461AC"/>
<circle cx="668.8" cy="608.6" r="8.0" fill="#3461AC"/>
<circle cx="675.0" cy="618.9" r="8.0" fill="#3461AC"/>
<circle cx="646.2" cy="637.5" r="8.0" fill="#3461AC"/>
<circle cx="662.7" cy="638.5" r="8.0" fill="#3461AC"/>
<circle cx="697.7" cy="616.8" r="8.0" fill="#3461AC"/>
<circle cx="691.5" cy="621.0" r="8.0" fill="#3461AC"/>
<circle cx="640.0" cy="674.5" r="8.0" fill="#3461AC"/>
<circle cx="652.4" cy="684.8" r="8.0" fill="#3461AC"/>
<circle cx="673.0" cy="670.4" r="8.0" fill="#3461AC"/>
<circle cx="724.5" cy="649.8" r="8.0" fill="#3461AC"/>
<circle cx="533.6" cy="686.8" r="8.0" fill="#3461AC"/>
<circle cx="551.4" cy="701.1" r="8.0" fill="#3461AC"/>
<circle cx="480.0" cy="742.1" r="8.0" fill="#3461AC"/>
<circle cx="517.5" cy="735.0" r="8.0" fill="#3461AC"/>
<circle cx="615.7" cy="667.1" r="8.0" fill="#3461AC"/>
<circle cx="638.9" cy="674.3" r="8.0" fill="#3461AC"/>
<circle cx="644.3" cy="636.8" r="8.0" fill="#3461AC"/>
<circle cx="662.1" cy="636.8" r="8.0" fill="#3461AC"/>
<circle cx="669.3" cy="610.0" r="8.0" fill="#3461AC"/>
<circle cx="694.3" cy="618.9" r="8.0" fill="#3461AC"/>
<circle cx="740.7" cy="627.9" r="8.0" fill="#3461AC"/>
<circle cx="742.5" cy="713.6" r="8.0" fill="#3461AC"/>
<circle cx="672.9" cy="890.4" r="8.0" fill="#3461AC"/>
<circle cx="622.9" cy="895.7" r="8.0" fill="#3461AC"/>
<circle cx="658.6" cy="924.3" r="8.0" fill="#3461AC"/>
<circle cx="647.9" cy="942.1" r="8.0" fill="#3461AC"/>
<circle cx="603.2" cy="974.3" r="8.0" fill="#3461AC"/>
<circle cx="530.0" cy="1045.7" r="8.0" fill="#3461AC"/>
<circle cx="519.3" cy="1011.8" r="8.0" fill="#3461AC"/>
<circle cx="669.3" cy="608.3" r="8.0" fill="#3461AC"/>
<circle cx="742.9" cy="615.7" r="8.0" fill="#3461AC"/>
<circle cx="742.9" cy="715.7" r="8.0" fill="#3461AC"/>
<circle cx="503.7" cy="1062.0" r="8.0" fill="#3461AC"/>
<circle cx="512.5" cy="1055.4" r="8.0" fill="#3461AC"/>
<circle cx="521.3" cy="1051.0" r="8.0" fill="#3461AC"/>
<circle cx="506.0" cy="1015.8" r="8.0" fill="#3461AC"/>
<circle cx="520.2" cy="1011.4" r="8.0" fill="#3461AC"/>
<circle cx="503.7" cy="1031.0" r="8.0" fill="#3461AC"/>
<circle cx="738.6" cy="628.7" r="8.0" fill="#3461AC"/>
<circle cx="720.7" cy="649.3" r="8.0" fill="#3461AC"/>
<circle cx="697.4" cy="619.0" r="8.0" fill="#3461AC"/>
<circle cx="690.5" cy="621.8" r="8.0" fill="#3461AC"/>
<circle cx="669.9" cy="609.5" r="8.0" fill="#3461AC"/>
<circle cx="674.0" cy="617.7" r="8.0" fill="#3461AC"/>
<circle cx="663.0" cy="638.3" r="8.0" fill="#3461AC"/>
<circle cx="645.2" cy="636.9" r="8.0" fill="#3461AC"/>
<circle cx="683.6" cy="658.9" r="8.0" fill="#3461AC"/>
<circle cx="676.8" cy="669.9" r="8.0" fill="#3461AC"/>
<circle cx="669.9" cy="672.6" r="8.0" fill="#3461AC"/>
<circle cx="661.6" cy="680.9" r="8.0" fill="#3461AC"/>
<circle cx="652.0" cy="685.0" r="8.0" fill="#3461AC"/>
<circle cx="639.7" cy="675.4" r="8.0" fill="#3461AC"/>
<circle cx="616.3" cy="667.1" r="8.0" fill="#3461AC"/>
<circle cx="623.2" cy="691.9" r="8.0" fill="#3461AC"/>
<circle cx="635.5" cy="705.6" r="8.0" fill="#3461AC"/>
<circle cx="599.8" cy="686.4" r="8.0" fill="#3461AC"/>
<circle cx="605.3" cy="697.4" r="8.0" fill="#3461AC"/>
<circle cx="591.6" cy="704.2" r="8.0" fill="#3461AC"/>
<circle cx="582.0" cy="709.7" r="8.0" fill="#3461AC"/>
<circle cx="571.0" cy="726.2" r="8.0" fill="#3461AC"/>
<circle cx="686.4" cy="708.4" r="8.0" fill="#3461AC"/>
<circle cx="658.9" cy="697.4" r="8.0" fill="#3461AC"/>
<circle cx="742.7" cy="712.5" r="8.0" fill="#3461AC"/>
<circle cx="664.4" cy="731.7" r="8.0" fill="#3461AC"/>
<circle cx="480.4" cy="741.9" r="8.0" fill="#3461AC"/>
<circle cx="517.4" cy="735.0" r="8.0" fill="#3461AC"/>
<circle cx="551.1" cy="702.7" r="8.0" fill="#3461AC"/>
<circle cx="453.6" cy="821.6" r="8.0" fill="#3461AC"/>
<circle cx="524.3" cy="756.3" r="8.0" fill="#3461AC"/>
<circle cx="477.6" cy="798.9" r="8.0" fill="#3461AC"/>
<circle cx="508.5" cy="776.9" r="8.0" fill="#3461AC"/>
<circle cx="571.0" cy="726.1" r="8.0" fill="#3461AC"/>
<circle cx="835.1" cy="718.1" r="8.0" fill="#4C4B9C"/>
<circle cx="769.8" cy="568.4" r="8.0" fill="#4C4B9C"/>
<circle cx="744.1" cy="594.2" r="8.0" fill="#4C4B9C"/>
<circle cx="745.1" cy="602.4" r="8.0" fill="#4C4B9C"/>
<circle cx="877.0" cy="548.8" r="8.0" fill="#4C4B9C"/>
<circle cx="887.3" cy="575.6" r="8.0" fill="#4C4B9C"/>
<circle cx="883.2" cy="588.0" r="8.0" fill="#4C4B9C"/>
<circle cx="834.7" cy="605.5" r="8.0" fill="#4C4B9C"/>
<circle cx="816.2" cy="674.5" r="8.0" fill="#4C4B9C"/>
<circle cx="834.7" cy="716.8" r="8.0" fill="#4C4B9C"/>
<circle cx="722.4" cy="686.9" r="8.0" fill="#4C4B9C"/>
<circle cx="728.6" cy="691.0" r="8.0" fill="#4C4B9C"/>
<circle cx="726.4" cy="686.8" r="8.0" fill="#4C4B9C"/>
<circle cx="848.2" cy="509.2" r="8.0" fill="#4C4B9C"/>
<circle cx="770.9" cy="567.9" r="8.0" fill="#4C4B9C"/>
<circle cx="740.0" cy="510.2" r="8.0" fill="#4C4B9C"/>
<circle cx="744.1" cy="592.6" r="8.0" fill="#4C4B9C"/>
<circle cx="878.1" cy="547.3" r="8.0" fill="#4C4B9C"/>
<circle cx="888.4" cy="574.1" r="8.0" fill="#4C4B9C"/>
<circle cx="884.2" cy="582.3" r="8.0" fill="#4C4B9C"/>
<circle cx="882.2" cy="590.5" r="8.0" fill="#4C4B9C"/>
<circle cx="1015.1" cy="411.3" r="8.0" fill="#4C4B9C"/>
<circle cx="1015.4" cy="410.8" r="8.0" fill="#4C4B9C"/>
<circle cx="902.1" cy="500.5" r="8.0" fill="#4C4B9C"/>
<circle cx="769.3" cy="568.2" r="8.0" fill="#4C4B9C"/>
<circle cx="887.8" cy="574.4" r="8.0" fill="#4C4B9C"/>
<circle cx="883.6" cy="586.8" r="8.0" fill="#4C4B9C"/>
<circle cx="881.6" cy="594.0" r="8.0" fill="#4C4B9C"/>
<circle cx="836.2" cy="606.4" r="8.0" fill="#4C4B9C"/>
<circle cx="815.6" cy="675.4" r="8.0" fill="#4C4B9C"/>
<circle cx="778.5" cy="695.0" r="8.0" fill="#4C4B9C"/>
<circle cx="835.2" cy="717.6" r="8.0" fill="#4C4B9C"/>
<circle cx="738.8" cy="510.5" r="8.0" fill="#4C4B9C"/>
<circle cx="770.2" cy="569.2" r="8.0" fill="#4C4B9C"/>
<circle cx="744.0" cy="593.9" r="8.0" fill="#4C4B9C"/>
<circle cx="745.5" cy="602.2" r="8.0" fill="#4C4B9C"/>
<circle cx="725.0" cy="687.0" r="8.0" fill="#4C4B9C"/>
<circle cx="682.1" cy="644.3" r="8.0" fill="#4C4B9C"/>
<circle cx="744.0" cy="594.3" r="8.0" fill="#4C4B9C"/>
<circle cx="746.8" cy="601.2" r="8.0" fill="#4C4B9C"/>
<circle cx="724.8" cy="686.4" r="8.0" fill="#4C4B9C"/>
<circle cx="726.2" cy="691.9" r="8.0" fill="#4C4B9C"/>
<circle cx="588.8" cy="729.0" r="8.0" fill="#4C4B9C"/>
<circle cx="631.4" cy="718.0" r="8.0" fill="#4C4B9C"/>
<circle cx="620.4" cy="731.7" r="8.0" fill="#4C4B9C"/>
<circle cx="745.5" cy="720.6" r="8.0" fill="#6C3C8E"/>
<circle cx="768.1" cy="733.0" r="8.0" fill="#6C3C8E"/>
<circle cx="780.5" cy="729.9" r="8.0" fill="#6C3C8E"/>
<circle cx="770.2" cy="702.0" r="8.0" fill="#6C3C8E"/>
<circle cx="851.6" cy="710.3" r="8.0" fill="#6C3C8E"/>
<circle cx="712.5" cy="763.9" r="8.0" fill="#6C3C8E"/>
<circle cx="789.4" cy="532.4" r="8.0" fill="#6C3C8E"/>
<circle cx="773.9" cy="562.2" r="8.0" fill="#6C3C8E"/>
<circle cx="730.7" cy="579.8" r="8.0" fill="#6C3C8E"/>
<circle cx="724.5" cy="588.0" r="8.0" fill="#6C3C8E"/>
<circle cx="852.2" cy="528.2" r="8.0" fill="#6C3C8E"/>
<circle cx="846.1" cy="534.4" r="8.0" fill="#6C3C8E"/>
<circle cx="890.4" cy="520.0" r="8.0" fill="#6C3C8E"/>
<circle cx="870.8" cy="561.2" r="8.0" fill="#6C3C8E"/>
<circle cx="897.6" cy="542.7" r="8.0" fill="#6C3C8E"/>
<circle cx="893.5" cy="548.8" r="8.0" fill="#6C3C8E"/>
<circle cx="802.8" cy="604.5" r="8.0" fill="#6C3C8E"/>
<circle cx="778.1" cy="643.6" r="8.0" fill="#6C3C8E"/>
<circle cx="782.2" cy="651.9" r="8.0" fill="#6C3C8E"/>
<circle cx="805.9" cy="652.9" r="8.0" fill="#6C3C8E"/>
<circle cx="771.9" cy="699.3" r="8.0" fill="#6C3C8E"/>
<circle cx="780.1" cy="693.1" r="8.0" fill="#6C3C8E"/>
<circle cx="852.2" cy="709.6" r="8.0" fill="#6C3C8E"/>
<circle cx="744.1" cy="721.9" r="8.0" fill="#6C3C8E"/>
<circle cx="734.8" cy="645.7" r="8.0" fill="#6C3C8E"/>
<circle cx="730.0" cy="577.9" r="8.0" fill="#6C3C8E"/>
<circle cx="772.9" cy="565.4" r="8.0" fill="#6C3C8E"/>
<circle cx="735.4" cy="645.7" r="8.0" fill="#6C3C8E"/>
<circle cx="744.3" cy="724.3" r="8.0" fill="#6C3C8E"/>
<circle cx="769.3" cy="695.7" r="8.0" fill="#6C3C8E"/>
<circle cx="780.0" cy="695.7" r="8.0" fill="#6C3C8E"/>
<circle cx="780.0" cy="645.7" r="8.0" fill="#6C3C8E"/>
<circle cx="787.1" cy="652.9" r="8.0" fill="#6C3C8E"/>
<circle cx="849.2" cy="500.9" r="8.0" fill="#6C3C8E"/>
<circle cx="789.5" cy="531.8" r="8.0" fill="#6C3C8E"/>
<circle cx="774.0" cy="561.7" r="8.0" fill="#6C3C8E"/>
<circle cx="898.7" cy="541.1" r="8.0" fill="#6C3C8E"/>
<circle cx="896.6" cy="547.3" r="8.0" fill="#6C3C8E"/>
<circle cx="970.8" cy="465.9" r="8.0" fill="#6C3C8E"/>
<circle cx="1034.7" cy="425.7" r="8.0" fill="#6C3C8E"/>
<circle cx="1036.7" cy="385.5" r="8.0" fill="#6C3C8E"/>
<circle cx="1050.4" cy="360.4" r="8.0" fill="#6C3C8E"/>
<circle cx="1073.1" cy="373.8" r="8.0" fill="#6C3C8E"/>
<circle cx="1042.2" cy="386.1" r="8.0" fill="#6C3C8E"/>
<circle cx="1048.4" cy="405.7" r="8.0" fill="#6C3C8E"/>
<circle cx="1035.0" cy="427.3" r="8.0" fill="#6C3C8E"/>
<circle cx="1058.7" cy="434.5" r="8.0" fill="#6C3C8E"/>
<circle cx="1085.5" cy="428.4" r="8.0" fill="#6C3C8E"/>
<circle cx="971.1" cy="465.5" r="8.0" fill="#6C3C8E"/>
<circle cx="776.5" cy="563.1" r="8.0" fill="#6C3C8E"/>
<circle cx="778.5" cy="644.5" r="8.0" fill="#6C3C8E"/>
<circle cx="782.7" cy="652.7" r="8.0" fill="#6C3C8E"/>
<circle cx="806.4" cy="653.8" r="8.0" fill="#6C3C8E"/>
<circle cx="770.3" cy="699.1" r="8.0" fill="#6C3C8E"/>
<circle cx="851.7" cy="710.4" r="8.0" fill="#6C3C8E"/>
<circle cx="789.3" cy="532.1" r="8.0" fill="#6C3C8E"/>
<circle cx="774.9" cy="562.0" r="8.0" fill="#6C3C8E"/>
<circle cx="731.6" cy="579.5" r="8.0" fill="#6C3C8E"/>
<circle cx="724.9" cy="589.8" r="8.0" fill="#6C3C8E"/>
<circle cx="717.9" cy="590.7" r="8.0" fill="#6C3C8E"/>
<circle cx="732.1" cy="580.0" r="8.0" fill="#6C3C8E"/>
<circle cx="725.0" cy="622.9" r="8.0" fill="#6C3C8E"/>
<circle cx="742.9" cy="594.3" r="8.0" fill="#6C3C8E"/>
<circle cx="735.7" cy="644.3" r="8.0" fill="#6C3C8E"/>
<circle cx="707.1" cy="655.0" r="8.0" fill="#6C3C8E"/>
<circle cx="707.1" cy="680.0" r="8.0" fill="#6C3C8E"/>
<circle cx="714.3" cy="690.7" r="8.0" fill="#6C3C8E"/>
<circle cx="700.0" cy="726.4" r="8.0" fill="#6C3C8E"/>
<circle cx="732.1" cy="730.0" r="8.0" fill="#6C3C8E"/>
<circle cx="717.9" cy="744.3" r="8.0" fill="#6C3C8E"/>
<circle cx="689.3" cy="672.9" r="8.0" fill="#6C3C8E"/>
<circle cx="707.1" cy="633.6" r="8.0" fill="#6C3C8E"/>
<circle cx="731.0" cy="579.2" r="8.0" fill="#6C3C8E"/>
<circle cx="723.5" cy="590.2" r="8.0" fill="#6C3C8E"/>
<circle cx="734.5" cy="645.2" r="8.0" fill="#6C3C8E"/>
<circle cx="685.0" cy="631.4" r="8.0" fill="#6C3C8E"/>
<circle cx="679.5" cy="642.4" r="8.0" fill="#6C3C8E"/>
<circle cx="697.4" cy="639.7" r="8.0" fill="#6C3C8E"/>
<circle cx="682.3" cy="691.9" r="8.0" fill="#6C3C8E"/>
<circle cx="674.0" cy="694.6" r="8.0" fill="#6C3C8E"/>
<circle cx="691.9" cy="697.4" r="8.0" fill="#6C3C8E"/>
<circle cx="669.9" cy="704.2" r="8.0" fill="#6C3C8E"/>
<circle cx="745.4" cy="719.3" r="8.0" fill="#6C3C8E"/>
<circle cx="708.4" cy="724.8" r="8.0" fill="#6C3C8E"/>
<circle cx="733.1" cy="734.5" r="8.0" fill="#6C3C8E"/>
<circle cx="691.9" cy="729.0" r="8.0" fill="#6C3C8E"/>
<circle cx="678.1" cy="724.8" r="8.0" fill="#6C3C8E"/>
<circle cx="649.3" cy="724.8" r="8.0" fill="#6C3C8E"/>
<circle cx="676.4" cy="841.2" r="8.0" fill="#982888"/>
<circle cx="669.2" cy="850.4" r="8.0" fill="#982888"/>
<circle cx="650.7" cy="858.7" r="8.0" fill="#982888"/>
<circle cx="648.6" cy="886.5" r="8.0" fill="#982888"/>
<circle cx="642.4" cy="875.1" r="8.0" fill="#982888"/>
<circle cx="631.1" cy="877.2" r="8.0" fill="#982888"/>
<circle cx="638.3" cy="864.8" r="8.0" fill="#982888"/>
<circle cx="601.2" cy="945.2" r="8.0" fill="#982888"/>
<circle cx="580.6" cy="959.6" r="8.0" fill="#982888"/>
<circle cx="572.4" cy="961.7" r="8.0" fill="#982888"/>
<circle cx="586.8" cy="955.5" r="8.0" fill="#982888"/>
<circle cx="599.5" cy="944.6" r="8.0" fill="#982888"/>
<circle cx="804.8" cy="555.0" r="8.0" fill="#982888"/>
<circle cx="819.3" cy="575.6" r="8.0" fill="#982888"/>
<circle cx="811.0" cy="581.8" r="8.0" fill="#982888"/>
<circle cx="820.3" cy="613.8" r="8.0" fill="#982888"/>
<circle cx="903.8" cy="623.0" r="8.0" fill="#982888"/>
<circle cx="872.8" cy="639.5" r="8.0" fill="#982888"/>
<circle cx="780.1" cy="608.6" r="8.0" fill="#982888"/>
<circle cx="771.9" cy="614.8" r="8.0" fill="#982888"/>
<circle cx="763.6" cy="623.0" r="8.0" fill="#982888"/>
<circle cx="755.4" cy="623.0" r="8.0" fill="#982888"/>
<circle cx="765.7" cy="631.3" r="8.0" fill="#982888"/>
<circle cx="774.0" cy="623.0" r="8.0" fill="#982888"/>
<circle cx="782.2" cy="616.8" r="8.0" fill="#982888"/>
<circle cx="827.5" cy="668.4" r="8.0" fill="#982888"/>
<circle cx="798.7" cy="693.1" r="8.0" fill="#982888"/>
<circle cx="811.0" cy="691.0" r="8.0" fill="#982888"/>
<circle cx="765.7" cy="732.2" r="8.0" fill="#982888"/>
<circle cx="780.1" cy="729.1" r="8.0" fill="#982888"/>
<circle cx="672.9" cy="842.1" r="8.0" fill="#982888"/>
<circle cx="651.4" cy="856.4" r="8.0" fill="#982888"/>
<circle cx="651.4" cy="874.3" r="8.0" fill="#982888"/>
<circle cx="630.0" cy="874.3" r="8.0" fill="#982888"/>
<circle cx="597.9" cy="945.7" r="8.0" fill="#982888"/>
<circle cx="769.3" cy="735.0" r="8.0" fill="#982888"/>
<circle cx="780.0" cy="727.9" r="8.0" fill="#982888"/>
<circle cx="794.3" cy="693.9" r="8.0" fill="#982888"/>
<circle cx="981.1" cy="323.7" r="8.0" fill="#982888"/>
<circle cx="978.0" cy="350.5" r="8.0" fill="#982888"/>
<circle cx="956.4" cy="370.1" r="8.0" fill="#982888"/>
<circle cx="959.5" cy="381.4" r="8.0" fill="#982888"/>
<circle cx="962.5" cy="388.6" r="8.0" fill="#982888"/>
<circle cx="963.6" cy="396.8" r="8.0" fill="#982888"/>
<circle cx="932.7" cy="402.0" r="8.0" fill="#982888"/>
<circle cx="965.6" cy="428.8" r="8.0" fill="#982888"/>
<circle cx="952.2" cy="437.0" r="8.0" fill="#982888"/>
<circle cx="946.1" cy="436.0" r="8.0" fill="#982888"/>
<circle cx="933.7" cy="419.5" r="8.0" fill="#982888"/>
<circle cx="929.6" cy="423.6" r="8.0" fill="#982888"/>
<circle cx="923.4" cy="427.8" r="8.0" fill="#982888"/>
<circle cx="917.2" cy="431.9" r="8.0" fill="#982888"/>
<circle cx="911.0" cy="436.0" r="8.0" fill="#982888"/>
<circle cx="904.8" cy="442.2" r="8.0" fill="#982888"/>
<circle cx="898.7" cy="448.4" r="8.0" fill="#982888"/>
<circle cx="893.5" cy="458.7" r="8.0" fill="#982888"/>
<circle cx="919.3" cy="482.4" r="8.0" fill="#982888"/>
<circle cx="892.5" cy="501.9" r="8.0" fill="#982888"/>
<circle cx="891.5" cy="514.3" r="8.0" fill="#982888"/>
<circle cx="851.3" cy="528.7" r="8.0" fill="#982888"/>
<circle cx="805.9" cy="555.5" r="8.0" fill="#982888"/>
<circle cx="855.4" cy="551.4" r="8.0" fill="#982888"/>
<circle cx="871.9" cy="561.7" r="8.0" fill="#982888"/>
<circle cx="980.4" cy="323.3" r="8.0" fill="#982888"/>
<circle cx="977.9" cy="350.7" r="8.0" fill="#982888"/>
<circle cx="1071.0" cy="420.1" r="8.0" fill="#982888"/>
<circle cx="1064.8" cy="422.2" r="8.0" fill="#982888"/>
<circle cx="963.9" cy="370.7" r="8.0" fill="#982888"/>
<circle cx="959.8" cy="378.9" r="8.0" fill="#982888"/>
<circle cx="961.8" cy="391.3" r="8.0" fill="#982888"/>
<circle cx="955.6" cy="372.7" r="8.0" fill="#982888"/>
<circle cx="931.9" cy="402.6" r="8.0" fill="#982888"/>
<circle cx="963.9" cy="428.4" r="8.0" fill="#982888"/>
<circle cx="951.5" cy="436.6" r="8.0" fill="#982888"/>
<circle cx="918.5" cy="480.9" r="8.0" fill="#982888"/>
<circle cx="906.2" cy="463.4" r="8.0" fill="#982888"/>
<circle cx="805.3" cy="560.0" r="8.0" fill="#982888"/>
<circle cx="869.2" cy="563.1" r="8.0" fill="#982888"/>
<circle cx="819.8" cy="613.6" r="8.0" fill="#982888"/>
<circle cx="802.2" cy="605.3" r="8.0" fill="#982888"/>
<circle cx="807.4" cy="584.7" r="8.0" fill="#982888"/>
<circle cx="815.6" cy="576.5" r="8.0" fill="#982888"/>
<circle cx="780.6" cy="609.5" r="8.0" fill="#982888"/>
<circle cx="772.4" cy="613.6" r="8.0" fill="#982888"/>
<circle cx="764.1" cy="617.7" r="8.0" fill="#982888"/>
<circle cx="778.5" cy="621.8" r="8.0" fill="#982888"/>
<circle cx="767.2" cy="630.1" r="8.0" fill="#982888"/>
<circle cx="828.0" cy="669.2" r="8.0" fill="#982888"/>
<circle cx="811.5" cy="690.8" r="8.0" fill="#982888"/>
<circle cx="800.2" cy="692.9" r="8.0" fill="#982888"/>
<circle cx="780.6" cy="730.0" r="8.0" fill="#982888"/>
<circle cx="768.2" cy="734.1" r="8.0" fill="#982888"/>
<circle cx="903.2" cy="622.8" r="8.0" fill="#982888"/>
<circle cx="871.3" cy="639.3" r="8.0" fill="#982888"/>
<circle cx="889.8" cy="640.4" r="8.0" fill="#982888"/>
<circle cx="804.7" cy="555.8" r="8.0" fill="#982888"/>
<circle cx="441.7" cy="942.0" r="8.0" fill="#8A2E8A"/>
<circle cx="354.6" cy="1064.5" r="8.0" fill="#8A2E8A"/>
<circle cx="412.0" cy="1077.4" r="8.0" fill="#8A2E8A"/>
<circle cx="579.0" cy="879.0" r="8.0" fill="#8A2E8A"/>
<circle cx="482.5" cy="968.0" r="8.0" fill="#8A2E8A"/>
<circle cx="898.0" cy="452.0" r="8.0" fill="#982888"/>
<circle cx="905.0" cy="446.0" r="8.0" fill="#982888"/>
<circle cx="912.0" cy="440.0" r="8.0" fill="#982888"/>
<circle cx="919.0" cy="434.0" r="8.0" fill="#982888"/>
<circle cx="926.0" cy="428.0" r="8.0" fill="#982888"/>
<circle cx="933.0" cy="423.0" r="8.0" fill="#982888"/>
<circle cx="692.9" cy="701.4" r="8.0" fill="#982888"/>
<circle cx="722.1" cy="615.0" r="8.0" fill="#982888"/>
<circle cx="718.0" cy="626.0" r="8.0" fill="#982888"/>
<circle cx="705.6" cy="631.4" r="8.0" fill="#982888"/>
<circle cx="697.4" cy="656.2" r="8.0" fill="#982888"/>
<circle cx="708.4" cy="661.6" r="8.0" fill="#982888"/>
<circle cx="707.0" cy="672.6" r="8.0" fill="#982888"/>
<circle cx="694.6" cy="679.5" r="8.0" fill="#982888"/>
<circle cx="704.2" cy="683.6" r="8.0" fill="#982888"/>
<circle cx="708.4" cy="697.4" r="8.0" fill="#982888"/>
<circle cx="724.8" cy="729.0" r="8.0" fill="#982888"/>
<circle cx="852.2" cy="553.0" r="8.0" fill="#B01E84"/>
<circle cx="844.0" cy="557.1" r="8.0" fill="#B01E84"/>
<circle cx="835.8" cy="565.3" r="8.0" fill="#B01E84"/>
<circle cx="829.6" cy="573.6" r="8.0" fill="#B01E84"/>
<circle cx="804.8" cy="586.0" r="8.0" fill="#B01E84"/>
<circle cx="798.7" cy="592.1" r="8.0" fill="#B01E84"/>
<circle cx="852.2" cy="580.8" r="8.0" fill="#B01E84"/>
<circle cx="799.8" cy="590.5" r="8.0" fill="#B01E84"/>
<circle cx="808.0" cy="584.4" r="8.0" fill="#B01E84"/>
<circle cx="818.3" cy="574.0" r="8.0" fill="#B01E84"/>
<circle cx="830.7" cy="567.9" r="8.0" fill="#B01E84"/>
<circle cx="836.8" cy="565.8" r="8.0" fill="#B01E84"/>
<circle cx="847.1" cy="555.5" r="8.0" fill="#B01E84"/>
<circle cx="867.8" cy="544.2" r="8.0" fill="#B01E84"/>
<circle cx="852.3" cy="581.3" r="8.0" fill="#B01E84"/>
<circle cx="851.7" cy="580.6" r="8.0" fill="#B01E84"/>
<circle cx="797.1" cy="593.0" r="8.0" fill="#B01E84"/>
<circle cx="825.9" cy="574.4" r="8.0" fill="#B01E84"/>
<circle cx="834.2" cy="568.2" r="8.0" fill="#B01E84"/>
<circle cx="840.4" cy="564.1" r="8.0" fill="#B01E84"/>
<circle cx="478.8" cy="917.9" r="8.0" fill="#B01E84"/>
<circle cx="434.3" cy="962.4" r="8.0" fill="#B01E84"/>
<circle cx="419.5" cy="979.1" r="8.0" fill="#B01E84"/>
<circle cx="536.3" cy="849.3" r="8.0" fill="#B01E84"/>
<circle cx="478.8" cy="1044.0" r="8.0" fill="#B01E84"/>
<circle cx="866.7" cy="522.0" r="8.0" fill="#C8127E"/>
<circle cx="868.7" cy="544.7" r="8.0" fill="#C8127E"/>
<circle cx="877.0" cy="634.4" r="8.0" fill="#C8127E"/>
<circle cx="890.4" cy="639.5" r="8.0" fill="#C8127E"/>
<circle cx="960.5" cy="416.4" r="8.0" fill="#C8127E"/>
<circle cx="902.8" cy="471.0" r="8.0" fill="#C8127E"/>
<circle cx="904.8" cy="479.3" r="8.0" fill="#C8127E"/>
<circle cx="892.5" cy="479.3" r="8.0" fill="#C8127E"/>
<circle cx="888.4" cy="495.8" r="8.0" fill="#C8127E"/>
<circle cx="871.9" cy="490.6" r="8.0" fill="#C8127E"/>
<circle cx="880.1" cy="497.8" r="8.0" fill="#C8127E"/>
<circle cx="865.7" cy="506.1" r="8.0" fill="#C8127E"/>
<circle cx="867.8" cy="516.4" r="8.0" fill="#C8127E"/>
<circle cx="876.0" cy="508.1" r="8.0" fill="#C8127E"/>
<circle cx="884.2" cy="506.1" r="8.0" fill="#C8127E"/>
<circle cx="1014.0" cy="328.8" r="8.0" fill="#C8127E"/>
<circle cx="1007.9" cy="339.2" r="8.0" fill="#C8127E"/>
<circle cx="1022.3" cy="335.0" r="8.0" fill="#C8127E"/>
<circle cx="1032.6" cy="339.2" r="8.0" fill="#C8127E"/>
<circle cx="999.6" cy="359.8" r="8.0" fill="#C8127E"/>
<circle cx="1014.0" cy="368.0" r="8.0" fill="#C8127E"/>
<circle cx="1007.9" cy="351.5" r="8.0" fill="#C8127E"/>
<circle cx="1018.2" cy="351.5" r="8.0" fill="#C8127E"/>
<circle cx="1028.5" cy="347.4" r="8.0" fill="#C8127E"/>
<circle cx="1036.7" cy="351.5" r="8.0" fill="#C8127E"/>
<circle cx="1013.3" cy="327.4" r="8.0" fill="#C8127E"/>
<circle cx="1023.6" cy="339.8" r="8.0" fill="#C8127E"/>
<circle cx="1033.9" cy="337.7" r="8.0" fill="#C8127E"/>
<circle cx="1044.2" cy="343.9" r="8.0" fill="#C8127E"/>
<circle cx="1009.2" cy="348.0" r="8.0" fill="#C8127E"/>
<circle cx="1001.0" cy="360.4" r="8.0" fill="#C8127E"/>
<circle cx="1013.3" cy="368.6" r="8.0" fill="#C8127E"/>
<circle cx="1023.6" cy="352.1" r="8.0" fill="#C8127E"/>
<circle cx="1027.8" cy="348.0" r="8.0" fill="#C8127E"/>
<circle cx="959.8" cy="417.0" r="8.0" fill="#C8127E"/>
<circle cx="876.4" cy="632.1" r="8.0" fill="#C8127E"/>
<circle cx="881.6" cy="639.3" r="8.0" fill="#C8127E"/>
<circle cx="462.2" cy="930.9" r="8.0" fill="#C8127E"/>
<circle cx="545.6" cy="801.1" r="8.0" fill="#C8127E"/>
<circle cx="564.2" cy="815.9" r="8.0" fill="#C8127E"/>
<circle cx="604.0" cy="734.5" r="8.0" fill="#C8127E"/>
<circle cx="746.5" cy="745.7" r="8.0" fill="#EA1652"/>
<circle cx="703.2" cy="803.0" r="8.0" fill="#EA1652"/>
<circle cx="702.2" cy="818.5" r="8.0" fill="#EA1652"/>
<circle cx="839.9" cy="662.2" r="8.0" fill="#EA1652"/>
<circle cx="827.5" cy="684.8" r="8.0" fill="#EA1652"/>
<circle cx="745.1" cy="745.6" r="8.0" fill="#EA1652"/>
<circle cx="703.9" cy="800.2" r="8.0" fill="#EA1652"/>
<circle cx="701.8" cy="814.7" r="8.0" fill="#EA1652"/>
<circle cx="747.9" cy="745.7" r="8.0" fill="#EA1652"/>
<circle cx="701.4" cy="804.6" r="8.0" fill="#EA1652"/>
<circle cx="701.4" cy="817.9" r="8.0" fill="#EA1652"/>
<circle cx="974.9" cy="561.7" r="8.0" fill="#EA1652"/>
<circle cx="1036.7" cy="318.5" r="8.0" fill="#EA1652"/>
<circle cx="1036.0" cy="318.1" r="8.0" fill="#EA1652"/>
<circle cx="975.2" cy="561.3" r="8.0" fill="#EA1652"/>
<circle cx="974.3" cy="563.1" r="8.0" fill="#EA1652"/>
<circle cx="840.4" cy="663.0" r="8.0" fill="#EA1652"/>
<circle cx="828.0" cy="684.7" r="8.0" fill="#EA1652"/>
<circle cx="746.8" cy="745.4" r="8.0" fill="#EA1652"/>
<circle cx="972.8" cy="513.3" r="8.0" fill="#E41E2E"/>
<circle cx="965.6" cy="545.2" r="8.0" fill="#E41E2E"/>
<circle cx="1028.5" cy="489.6" r="8.0" fill="#E41E2E"/>
<circle cx="1032.6" cy="497.8" r="8.0" fill="#E41E2E"/>
<circle cx="1026.4" cy="499.9" r="8.0" fill="#E41E2E"/>
<circle cx="1038.8" cy="481.3" r="8.0" fill="#E41E2E"/>
<circle cx="1060.7" cy="449.0" r="8.0" fill="#E41E2E"/>
<circle cx="1069.0" cy="446.9" r="8.0" fill="#E41E2E"/>
<circle cx="1056.6" cy="457.2" r="8.0" fill="#E41E2E"/>
<circle cx="1044.2" cy="477.8" r="8.0" fill="#E41E2E"/>
<circle cx="1029.8" cy="486.1" r="8.0" fill="#E41E2E"/>
<circle cx="1025.7" cy="494.3" r="8.0" fill="#E41E2E"/>
<circle cx="1033.9" cy="496.4" r="8.0" fill="#E41E2E"/>
<circle cx="1044.2" cy="486.1" r="8.0" fill="#E41E2E"/>
<circle cx="1052.5" cy="471.6" r="8.0" fill="#E41E2E"/>
<circle cx="1065.9" cy="500.5" r="8.0" fill="#E41E2E"/>
<circle cx="972.1" cy="512.8" r="8.0" fill="#E41E2E"/>
<circle cx="964.9" cy="544.8" r="8.0" fill="#E41E2E"/>
<circle cx="1050.0" cy="448.0" r="8.0" fill="#E41E2E"/>
<circle cx="1064.0" cy="455.0" r="8.0" fill="#E41E2E"/>
<circle cx="1075.0" cy="440.0" r="8.0" fill="#E41E2E"/>
<circle cx="1068.0" cy="436.0" r="8.0" fill="#E41E2E"/>
<polygon points="1100.9,412.9 1081.3,448.6 1121.5,448.6" fill="#E41E2E"/>
<line x1="261.0" y1="1198.3" x2="1198.5" y2="2.0" stroke="#000" stroke-width="2.8"/>
</g>
<rect x="261.0" y="2.0" width="937.5" height="1196.3" fill="none" stroke="#262626" stroke-width="2.2"/>
<line x1="303.2" y1="1198.3" x2="303.2" y2="1204.8" stroke="#262626" stroke-width="2.2"/>
<text x="303.2" y="1243.7" text-anchor="middle" font-size="51.5" fill="#4D4D4D">0.0</text>
<line x1="516.4" y1="1198.3" x2="516.4" y2="1204.8" stroke="#262626" stroke-width="2.2"/>
<text x="516.4" y="1243.7" text-anchor="middle" font-size="51.5" fill="#4D4D4D">2.5</text>
<line x1="729.7" y1="1198.3" x2="729.7" y2="1204.8" stroke="#262626" stroke-width="2.2"/>
<text x="729.7" y="1243.7" text-anchor="middle" font-size="51.5" fill="#4D4D4D">5.0</text>
<line x1="942.9" y1="1198.3" x2="942.9" y2="1204.8" stroke="#262626" stroke-width="2.2"/>
<text x="942.9" y="1243.7" text-anchor="middle" font-size="51.5" fill="#4D4D4D">7.5</text>
<line x1="1156.1" y1="1198.3" x2="1156.1" y2="1204.8" stroke="#262626" stroke-width="2.2"/>
<text x="1156.1" y="1243.7" text-anchor="middle" font-size="51.5" fill="#4D4D4D">10.0</text>
<line x1="254.5" y1="1143.6" x2="261.0" y2="1143.6" stroke="#262626" stroke-width="2.2"/>
<text x="250.0" y="1160.6" text-anchor="end" font-size="51.5" fill="#4D4D4D">0.0</text>
<line x1="254.5" y1="871.8" x2="261.0" y2="871.8" stroke="#262626" stroke-width="2.2"/>
<text x="250.0" y="888.8" text-anchor="end" font-size="51.5" fill="#4D4D4D">2.5</text>
<line x1="254.5" y1="599.9" x2="261.0" y2="599.9" stroke="#262626" stroke-width="2.2"/>
<text x="250.0" y="616.9" text-anchor="end" font-size="51.5" fill="#4D4D4D">5.0</text>
<line x1="254.5" y1="328.1" x2="261.0" y2="328.1" stroke="#262626" stroke-width="2.2"/>
<text x="250.0" y="345.1" text-anchor="end" font-size="51.5" fill="#4D4D4D">7.5</text>
<line x1="254.5" y1="56.3" x2="261.0" y2="56.3" stroke="#262626" stroke-width="2.2"/>
<text x="250.0" y="73.3" text-anchor="end" font-size="51.5" fill="#4D4D4D">10.0</text>
<rect x="264.0" y="1376.0" width="934.4000000000001" height="1196.6" fill="#fff"/>
<line x1="412.1" y1="1376.0" x2="412.1" y2="2572.6" stroke="#F0F0F0" stroke-width="1.6"/>
<line x1="624.7" y1="1376.0" x2="624.7" y2="2572.6" stroke="#F0F0F0" stroke-width="1.6"/>
<line x1="837.3" y1="1376.0" x2="837.3" y2="2572.6" stroke="#F0F0F0" stroke-width="1.6"/>
<line x1="1049.9" y1="1376.0" x2="1049.9" y2="2572.6" stroke="#F0F0F0" stroke-width="1.6"/>
<line x1="264.0" y1="2382.4" x2="1198.4" y2="2382.4" stroke="#F0F0F0" stroke-width="1.6"/>
<line x1="264.0" y1="2110.4" x2="1198.4" y2="2110.4" stroke="#F0F0F0" stroke-width="1.6"/>
<line x1="264.0" y1="1838.4" x2="1198.4" y2="1838.4" stroke="#F0F0F0" stroke-width="1.6"/>
<line x1="264.0" y1="1566.4" x2="1198.4" y2="1566.4" stroke="#F0F0F0" stroke-width="1.6"/>
<line x1="305.8" y1="1376.0" x2="305.8" y2="2572.6" stroke="#EBEBEB" stroke-width="2.1"/>
<line x1="518.4" y1="1376.0" x2="518.4" y2="2572.6" stroke="#EBEBEB" stroke-width="2.1"/>
<line x1="731.0" y1="1376.0" x2="731.0" y2="2572.6" stroke="#EBEBEB" stroke-width="2.1"/>
<line x1="943.6" y1="1376.0" x2="943.6" y2="2572.6" stroke="#EBEBEB" stroke-width="2.1"/>
<line x1="1156.2" y1="1376.0" x2="1156.2" y2="2572.6" stroke="#EBEBEB" stroke-width="2.1"/>
<line x1="264.0" y1="2518.4" x2="1198.4" y2="2518.4" stroke="#EBEBEB" stroke-width="2.1"/>
<line x1="264.0" y1="2246.4" x2="1198.4" y2="2246.4" stroke="#EBEBEB" stroke-width="2.1"/>
<line x1="264.0" y1="1974.4" x2="1198.4" y2="1974.4" stroke="#EBEBEB" stroke-width="2.1"/>
<line x1="264.0" y1="1702.4" x2="1198.4" y2="1702.4" stroke="#EBEBEB" stroke-width="2.1"/>
<line x1="264.0" y1="1430.4" x2="1198.4" y2="1430.4" stroke="#EBEBEB" stroke-width="2.1"/>
<g clip-path="url(#cb)">
<polygon points="508.8,2117.6 518.0,2100.0 530.8,2084.6 548.0,2062.0 563.7,2040.7 575.0,2022.0 585.7,2007.7 607.7,1974.7 630.0,1960.0 651.6,1947.3 684.6,1930.8 717.6,1914.3 756.0,1892.3 794.5,1875.8 827.5,1864.8 848.9,1845.0 866.8,1834.0 884.6,1828.0 902.5,1820.0 915.0,1811.0 925.7,1804.0 940.0,1793.0 950.7,1788.0 965.0,1783.0 979.3,1770.0 988.2,1766.0 997.0,1774.0 985.0,1786.0 968.6,1798.0 956.0,1809.0 940.0,1823.0 929.0,1838.0 925.0,1855.0 940.0,1866.0 942.0,1878.0 917.0,1884.0 899.0,1892.0 884.6,1908.0 866.8,1924.0 854.0,1943.0 840.0,1962.0 820.0,1988.0 795.0,1999.0 770.0,2005.0 745.0,2022.0 720.0,2040.0 695.6,2048.0 662.6,2062.0 629.7,2084.6 596.7,2106.6 558.2,2128.6 525.3,2139.6" fill="#3A58A8"/>
<circle cx="516.9" cy="2110.7" r="8.2" fill="#3452A5" fill-opacity="0.62"/>
<circle cx="524.3" cy="2098.7" r="8.2" fill="#44509F" fill-opacity="0.62"/>
<circle cx="530.7" cy="2091.0" r="8.2" fill="#3452A5" fill-opacity="0.62"/>
<circle cx="538.3" cy="2081.4" r="8.2" fill="#3452A5" fill-opacity="0.62"/>
<circle cx="546.9" cy="2070.1" r="8.2" fill="#3452A5" fill-opacity="0.62"/>
<circle cx="555.1" cy="2059.0" r="8.2" fill="#3452A5" fill-opacity="0.62"/>
<circle cx="563.0" cy="2048.4" r="8.2" fill="#3452A5" fill-opacity="0.62"/>
<circle cx="569.9" cy="2038.1" r="8.2" fill="#3452A5" fill-opacity="0.62"/>
<circle cx="575.6" cy="2028.7" r="8.2" fill="#3452A5" fill-opacity="0.62"/>
<circle cx="583.6" cy="2017.2" r="8.2" fill="#3452A5" fill-opacity="0.62"/>
<circle cx="592.7" cy="2004.4" r="8.2" fill="#44509F" fill-opacity="0.62"/>
<circle cx="600.0" cy="1993.4" r="8.2" fill="#3452A5" fill-opacity="0.62"/>
<circle cx="607.4" cy="1982.4" r="8.2" fill="#3452A5" fill-opacity="0.62"/>
<circle cx="615.5" cy="1974.4" r="8.2" fill="#3452A5" fill-opacity="0.62"/>
<circle cx="626.6" cy="1967.0" r="8.2" fill="#3452A5" fill-opacity="0.62"/>
<circle cx="637.4" cy="1960.3" r="8.2" fill="#3452A5" fill-opacity="0.62"/>
<circle cx="648.2" cy="1953.9" r="8.2" fill="#3452A5" fill-opacity="0.62"/>
<circle cx="658.9" cy="1948.1" r="8.2" fill="#3452A5" fill-opacity="0.62"/>
<circle cx="669.9" cy="1942.6" r="8.2" fill="#44509F" fill-opacity="0.62"/>
<circle cx="680.9" cy="1937.1" r="8.2" fill="#3452A5" fill-opacity="0.62"/>
<circle cx="691.9" cy="1931.6" r="8.2" fill="#3452A5" fill-opacity="0.62"/>
<circle cx="702.9" cy="1926.1" r="8.2" fill="#3452A5" fill-opacity="0.62"/>
<circle cx="713.9" cy="1920.6" r="8.2" fill="#3452A5" fill-opacity="0.62"/>
<circle cx="724.4" cy="1915.0" r="8.2" fill="#3452A5" fill-opacity="0.62"/>
<circle cx="734.0" cy="1909.5" r="8.2" fill="#3452A5" fill-opacity="0.62"/>
<circle cx="743.6" cy="1904.0" r="8.2" fill="#3452A5" fill-opacity="0.62"/>
<circle cx="753.2" cy="1898.5" r="8.2" fill="#44509F" fill-opacity="0.62"/>
<circle cx="762.4" cy="1893.9" r="8.2" fill="#5A4698" fill-opacity="0.62"/>
<circle cx="772.0" cy="1889.8" r="8.2" fill="#5A4698" fill-opacity="0.62"/>
<circle cx="781.6" cy="1885.7" r="8.2" fill="#44509F" fill-opacity="0.62"/>
<circle cx="791.3" cy="1881.5" r="8.2" fill="#3452A5" fill-opacity="0.62"/>
<circle cx="801.3" cy="1877.8" r="8.2" fill="#3452A5" fill-opacity="0.62"/>
<circle cx="812.3" cy="1874.1" r="8.2" fill="#3452A5" fill-opacity="0.62"/>
<circle cx="823.3" cy="1870.4" r="8.2" fill="#3452A5" fill-opacity="0.62"/>
<circle cx="835.6" cy="1862.8" r="8.2" fill="#44509F" fill-opacity="0.62"/>
<circle cx="846.3" cy="1852.9" r="8.2" fill="#3452A5" fill-opacity="0.62"/>
<circle cx="855.5" cy="1845.7" r="8.2" fill="#3452A5" fill-opacity="0.62"/>
<circle cx="864.4" cy="1840.2" r="8.2" fill="#3452A5" fill-opacity="0.62"/>
<circle cx="877.0" cy="1834.8" r="8.2" fill="#3452A5" fill-opacity="0.62"/>
<circle cx="895.2" cy="1827.7" r="8.2" fill="#3452A5" fill-opacity="0.62"/>
<circle cx="911.1" cy="1818.7" r="8.2" fill="#44509F" fill-opacity="0.62"/>
<circle cx="922.5" cy="1810.8" r="8.2" fill="#3452A5" fill-opacity="0.62"/>
<circle cx="935.3" cy="1801.7" r="8.2" fill="#44509F" fill-opacity="0.62"/>
<circle cx="947.0" cy="1794.1" r="8.2" fill="#3452A5" fill-opacity="0.62"/>
<circle cx="959.2" cy="1789.3" r="8.2" fill="#3452A5" fill-opacity="0.62"/>
<circle cx="974.8" cy="1779.5" r="8.2" fill="#3452A5" fill-opacity="0.62"/>
<circle cx="985.4" cy="1771.6" r="8.2" fill="#3452A5" fill-opacity="0.62"/>
<circle cx="989.9" cy="1773.0" r="8.2" fill="#3452A5" fill-opacity="0.62"/>
<circle cx="988.2" cy="1777.2" r="8.2" fill="#3452A5" fill-opacity="0.62"/>
<circle cx="978.5" cy="1785.8" r="8.2" fill="#3452A5" fill-opacity="0.62"/>
<circle cx="970.3" cy="1791.8" r="8.2" fill="#3452A5" fill-opacity="0.62"/>
<circle cx="959.7" cy="1800.5" r="8.2" fill="#3452A5" fill-opacity="0.62"/>
<circle cx="949.4" cy="1809.5" r="8.2" fill="#3452A5" fill-opacity="0.62"/>
<circle cx="941.4" cy="1816.5" r="8.2" fill="#3452A5" fill-opacity="0.62"/>
<circle cx="931.3" cy="1828.1" r="8.2" fill="#3452A5" fill-opacity="0.62"/>
<circle cx="923.1" cy="1845.6" r="8.2" fill="#3452A5" fill-opacity="0.62"/>
<circle cx="930.1" cy="1863.7" r="8.2" fill="#3452A5" fill-opacity="0.62"/>
<circle cx="937.1" cy="1872.7" r="8.2" fill="#3452A5" fill-opacity="0.62"/>
<circle cx="934.8" cy="1875.6" r="8.2" fill="#3452A5" fill-opacity="0.62"/>
<circle cx="922.3" cy="1878.6" r="8.2" fill="#3452A5" fill-opacity="0.62"/>
<circle cx="906.4" cy="1884.3" r="8.2" fill="#5A4698" fill-opacity="0.62"/>
<circle cx="892.4" cy="1893.3" r="8.2" fill="#3452A5" fill-opacity="0.62"/>
<circle cx="885.2" cy="1901.3" r="8.2" fill="#3452A5" fill-opacity="0.62"/>
<circle cx="877.5" cy="1909.0" r="8.2" fill="#3452A5" fill-opacity="0.62"/>
<circle cx="868.6" cy="1917.0" r="8.2" fill="#3452A5" fill-opacity="0.62"/>
<circle cx="860.3" cy="1926.5" r="8.2" fill="#3452A5" fill-opacity="0.62"/>
<circle cx="853.9" cy="1936.0" r="8.2" fill="#3452A5" fill-opacity="0.62"/>
<circle cx="847.3" cy="1945.4" r="8.2" fill="#3452A5" fill-opacity="0.62"/>
<circle cx="840.3" cy="1954.9" r="8.2" fill="#3452A5" fill-opacity="0.62"/>
<circle cx="833.5" cy="1963.9" r="8.2" fill="#3452A5" fill-opacity="0.62"/>
<circle cx="826.8" cy="1972.6" r="8.2" fill="#3452A5" fill-opacity="0.62"/>
<circle cx="820.2" cy="1981.2" r="8.2" fill="#3452A5" fill-opacity="0.62"/>
<circle cx="812.1" cy="1987.1" r="8.2" fill="#3452A5" fill-opacity="0.62"/>
<circle cx="799.6" cy="1992.6" r="8.2" fill="#3452A5" fill-opacity="0.62"/>
<circle cx="787.8" cy="1996.6" r="8.2" fill="#3452A5" fill-opacity="0.62"/>
<circle cx="775.3" cy="1999.6" r="8.2" fill="#3452A5" fill-opacity="0.62"/>
<circle cx="763.6" cy="2004.5" r="8.2" fill="#3452A5" fill-opacity="0.62"/>
<circle cx="755.3" cy="2010.2" r="8.2" fill="#3452A5" fill-opacity="0.62"/>
<circle cx="746.9" cy="2015.9" r="8.2" fill="#3452A5" fill-opacity="0.62"/>
<circle cx="738.5" cy="2021.8" r="8.2" fill="#3452A5" fill-opacity="0.62"/>
<circle cx="730.2" cy="2027.8" r="8.2" fill="#3452A5" fill-opacity="0.62"/>
<circle cx="721.8" cy="2033.8" r="8.2" fill="#3452A5" fill-opacity="0.62"/>
<circle cx="712.7" cy="2038.2" r="8.2" fill="#3452A5" fill-opacity="0.62"/>
<circle cx="700.5" cy="2042.2" r="8.2" fill="#3452A5" fill-opacity="0.62"/>
<circle cx="688.5" cy="2046.7" r="8.2" fill="#3452A5" fill-opacity="0.62"/>
<circle cx="677.5" cy="2051.3" r="8.2" fill="#44509F" fill-opacity="0.62"/>
<circle cx="666.5" cy="2056.0" r="8.2" fill="#3452A5" fill-opacity="0.62"/>
<circle cx="654.9" cy="2062.5" r="8.2" fill="#3452A5" fill-opacity="0.62"/>
<circle cx="643.9" cy="2070.0" r="8.2" fill="#3452A5" fill-opacity="0.62"/>
<circle cx="632.9" cy="2077.5" r="8.2" fill="#3452A5" fill-opacity="0.62"/>
<circle cx="622.0" cy="2084.9" r="8.2" fill="#3452A5" fill-opacity="0.62"/>
<circle cx="611.0" cy="2092.3" r="8.2" fill="#44509F" fill-opacity="0.62"/>
<circle cx="600.0" cy="2099.6" r="8.2" fill="#3452A5" fill-opacity="0.62"/>
<circle cx="589.9" cy="2105.9" r="8.2" fill="#3452A5" fill-opacity="0.62"/>
<circle cx="580.3" cy="2111.4" r="8.2" fill="#3452A5" fill-opacity="0.62"/>
<circle cx="570.7" cy="2116.9" r="8.2" fill="#3452A5" fill-opacity="0.62"/>
<circle cx="561.0" cy="2122.4" r="8.2" fill="#5A4698" fill-opacity="0.62"/>
<circle cx="551.4" cy="2126.6" r="8.2" fill="#3452A5" fill-opacity="0.62"/>
<circle cx="540.5" cy="2130.3" r="8.2" fill="#3452A5" fill-opacity="0.62"/>
<circle cx="529.5" cy="2134.0" r="8.2" fill="#3452A5" fill-opacity="0.62"/>
<circle cx="524.4" cy="2131.7" r="8.2" fill="#3452A5" fill-opacity="0.62"/>
<circle cx="516.1" cy="2120.7" r="8.2" fill="#3452A5" fill-opacity="0.62"/>
<circle cx="729.7" cy="1975.1" r="8.2" fill="#44509F" fill-opacity="0.62"/>
<circle cx="756.7" cy="1985.4" r="8.2" fill="#3452A5" fill-opacity="0.62"/>
<circle cx="553.1" cy="2068.5" r="8.2" fill="#3452A5" fill-opacity="0.62"/>
<circle cx="762.2" cy="2005.2" r="8.2" fill="#3452A5" fill-opacity="0.62"/>
<circle cx="888.9" cy="1866.8" r="8.2" fill="#44509F" fill-opacity="0.62"/>
<circle cx="897.9" cy="1832.4" r="8.2" fill="#44509F" fill-opacity="0.62"/>
<circle cx="781.8" cy="1933.2" r="8.2" fill="#3452A5" fill-opacity="0.62"/>
<circle cx="601.9" cy="2039.4" r="8.2" fill="#44509F" fill-opacity="0.62"/>
<circle cx="886.0" cy="1888.9" r="8.2" fill="#44509F" fill-opacity="0.62"/>
<circle cx="627.4" cy="1990.6" r="8.2" fill="#3452A5" fill-opacity="0.62"/>
<circle cx="690.3" cy="1935.3" r="8.2" fill="#44509F" fill-opacity="0.62"/>
<circle cx="527.7" cy="2125.7" r="8.2" fill="#3452A5" fill-opacity="0.62"/>
<circle cx="625.2" cy="2029.2" r="8.2" fill="#3452A5" fill-opacity="0.62"/>
<circle cx="634.3" cy="2073.7" r="8.2" fill="#3452A5" fill-opacity="0.62"/>
<circle cx="594.4" cy="2035.1" r="8.2" fill="#3452A5" fill-opacity="0.62"/>
<circle cx="680.6" cy="2022.0" r="8.2" fill="#3452A5" fill-opacity="0.62"/>
<circle cx="813.9" cy="1908.8" r="8.2" fill="#3452A5" fill-opacity="0.62"/>
<circle cx="793.3" cy="1993.5" r="8.2" fill="#5A4698" fill-opacity="0.62"/>
<circle cx="864.3" cy="1911.1" r="8.2" fill="#3452A5" fill-opacity="0.62"/>
<circle cx="655.8" cy="2019.4" r="8.2" fill="#3452A5" fill-opacity="0.62"/>
<circle cx="668.4" cy="2014.8" r="8.2" fill="#3452A5" fill-opacity="0.62"/>
<circle cx="793.5" cy="1884.2" r="8.2" fill="#44509F" fill-opacity="0.62"/>
<circle cx="814.3" cy="1950.5" r="8.2" fill="#3452A5" fill-opacity="0.62"/>
<circle cx="913.8" cy="1854.7" r="8.2" fill="#3452A5" fill-opacity="0.62"/>
<circle cx="816.0" cy="1932.8" r="8.2" fill="#3452A5" fill-opacity="0.62"/>
<circle cx="951.2" cy="1798.6" r="8.2" fill="#3452A5" fill-opacity="0.62"/>
<circle cx="692.8" cy="1978.5" r="8.2" fill="#3452A5" fill-opacity="0.62"/>
<circle cx="899.3" cy="1830.6" r="8.2" fill="#3452A5" fill-opacity="0.62"/>
<circle cx="650.5" cy="2038.3" r="8.2" fill="#3452A5" fill-opacity="0.62"/>
<circle cx="820.7" cy="1961.3" r="8.2" fill="#3452A5" fill-opacity="0.62"/>
<circle cx="610.5" cy="2083.8" r="8.2" fill="#3452A5" fill-opacity="0.62"/>
<circle cx="770.4" cy="1954.0" r="8.2" fill="#5A4698" fill-opacity="0.62"/>
<circle cx="783.6" cy="1949.5" r="8.2" fill="#3452A5" fill-opacity="0.62"/>
<circle cx="771.8" cy="1920.6" r="8.2" fill="#3452A5" fill-opacity="0.62"/>
<circle cx="602.3" cy="1996.8" r="8.2" fill="#3452A5" fill-opacity="0.62"/>
<circle cx="844.2" cy="1886.3" r="8.2" fill="#3452A5" fill-opacity="0.62"/>
<circle cx="682.3" cy="1997.5" r="8.2" fill="#3452A5" fill-opacity="0.62"/>
<circle cx="767.7" cy="1929.2" r="8.2" fill="#3452A5" fill-opacity="0.62"/>
<circle cx="608.5" cy="2001.9" r="8.2" fill="#5A4698" fill-opacity="0.62"/>
<circle cx="820.5" cy="1963.9" r="8.2" fill="#5A4698" fill-opacity="0.62"/>
<circle cx="625.6" cy="2037.4" r="8.2" fill="#3452A5" fill-opacity="0.62"/>
<circle cx="705.4" cy="2022.0" r="8.2" fill="#3452A5" fill-opacity="0.62"/>
<circle cx="778.1" cy="1958.3" r="8.2" fill="#3452A5" fill-opacity="0.62"/>
<circle cx="539.0" cy="2121.5" r="8.2" fill="#3452A5" fill-opacity="0.62"/>
<circle cx="760.4" cy="1926.7" r="8.2" fill="#44509F" fill-opacity="0.62"/>
<circle cx="816.1" cy="1917.1" r="8.2" fill="#3452A5" fill-opacity="0.62"/>
<circle cx="801.5" cy="1954.4" r="8.2" fill="#3452A5" fill-opacity="0.62"/>
<circle cx="675.6" cy="1941.2" r="8.2" fill="#3452A5" fill-opacity="0.62"/>
<circle cx="834.0" cy="1892.2" r="8.2" fill="#3452A5" fill-opacity="0.62"/>
<circle cx="769.0" cy="1911.6" r="8.2" fill="#3452A5" fill-opacity="0.62"/>
<circle cx="987.3" cy="1774.5" r="8.2" fill="#3452A5" fill-opacity="0.62"/>
<circle cx="777.3" cy="1955.7" r="8.2" fill="#3452A5" fill-opacity="0.62"/>
<circle cx="530.8" cy="2113.5" r="8.2" fill="#3452A5" fill-opacity="0.62"/>
<circle cx="766.0" cy="1989.4" r="8.2" fill="#44509F" fill-opacity="0.62"/>
<circle cx="647.2" cy="2033.7" r="8.2" fill="#3452A5" fill-opacity="0.62"/>
<circle cx="585.2" cy="2047.9" r="8.2" fill="#3452A5" fill-opacity="0.62"/>
<circle cx="544.7" cy="2104.3" r="8.2" fill="#3452A5" fill-opacity="0.62"/>
<circle cx="718.5" cy="1944.4" r="8.2" fill="#3452A5" fill-opacity="0.62"/>
<circle cx="813.6" cy="1936.2" r="8.2" fill="#3452A5" fill-opacity="0.62"/>
<circle cx="725.0" cy="2015.5" r="8.2" fill="#3452A5" fill-opacity="0.62"/>
<circle cx="793.0" cy="1922.7" r="8.2" fill="#3452A5" fill-opacity="0.62"/>
<circle cx="867.3" cy="1855.1" r="8.2" fill="#3452A5" fill-opacity="0.62"/>
<circle cx="564.4" cy="2099.5" r="8.2" fill="#3452A5" fill-opacity="0.62"/>
<circle cx="876.6" cy="1836.9" r="8.2" fill="#3452A5" fill-opacity="0.62"/>
<circle cx="691.0" cy="1944.8" r="8.2" fill="#3452A5" fill-opacity="0.62"/>
<circle cx="884.1" cy="1845.6" r="8.2" fill="#3452A5" fill-opacity="0.62"/>
<circle cx="667.7" cy="1971.0" r="8.2" fill="#3452A5" fill-opacity="0.62"/>
<circle cx="556.2" cy="2093.0" r="8.2" fill="#3452A5" fill-opacity="0.62"/>
<circle cx="784.3" cy="1947.1" r="8.2" fill="#5A4698" fill-opacity="0.62"/>
<circle cx="843.4" cy="1877.7" r="8.2" fill="#5A4698" fill-opacity="0.62"/>
<circle cx="612.9" cy="2013.4" r="8.2" fill="#3452A5" fill-opacity="0.62"/>
<circle cx="683.5" cy="2037.2" r="8.2" fill="#3452A5" fill-opacity="0.62"/>
<circle cx="900.8" cy="1879.9" r="8.2" fill="#3452A5" fill-opacity="0.62"/>
<circle cx="595.0" cy="2049.5" r="8.2" fill="#3452A5" fill-opacity="0.62"/>
<circle cx="774.5" cy="1978.0" r="8.2" fill="#3452A5" fill-opacity="0.62"/>
<circle cx="579.0" cy="2044.6" r="8.2" fill="#3452A5" fill-opacity="0.62"/>
<circle cx="616.4" cy="2051.9" r="8.2" fill="#3452A5" fill-opacity="0.62"/>
<circle cx="749.8" cy="1966.8" r="8.2" fill="#3452A5" fill-opacity="0.62"/>
<circle cx="887.6" cy="1833.0" r="8.2" fill="#3452A5" fill-opacity="0.62"/>
<circle cx="623.7" cy="2034.0" r="8.2" fill="#3452A5" fill-opacity="0.62"/>
<circle cx="593.0" cy="2049.0" r="8.2" fill="#5A4698" fill-opacity="0.62"/>
<circle cx="661.0" cy="1970.8" r="8.2" fill="#3452A5" fill-opacity="0.62"/>
<circle cx="533.1" cy="2120.0" r="8.2" fill="#3452A5" fill-opacity="0.62"/>
<circle cx="766.4" cy="1958.7" r="8.2" fill="#3452A5" fill-opacity="0.62"/>
<circle cx="638.9" cy="1965.7" r="8.2" fill="#5A4698" fill-opacity="0.62"/>
<circle cx="582.3" cy="2053.8" r="8.2" fill="#3452A5" fill-opacity="0.62"/>
<circle cx="743.2" cy="1941.1" r="8.2" fill="#3452A5" fill-opacity="0.62"/>
<circle cx="956.4" cy="1800.0" r="8.2" fill="#3452A5" fill-opacity="0.62"/>
<circle cx="912.2" cy="1843.9" r="8.2" fill="#3452A5" fill-opacity="0.62"/>
<circle cx="774.1" cy="1962.4" r="8.2" fill="#3452A5" fill-opacity="0.62"/>
<circle cx="585.7" cy="2076.8" r="8.2" fill="#3452A5" fill-opacity="0.62"/>
<circle cx="684.4" cy="2022.7" r="8.2" fill="#3452A5" fill-opacity="0.62"/>
<circle cx="855.4" cy="1854.7" r="8.2" fill="#3452A5" fill-opacity="0.62"/>
<circle cx="784.2" cy="1937.1" r="8.2" fill="#3452A5" fill-opacity="0.62"/>
<circle cx="899.1" cy="1843.2" r="8.2" fill="#3452A5" fill-opacity="0.62"/>
<circle cx="692.4" cy="1967.7" r="8.2" fill="#5A4698" fill-opacity="0.62"/>
<circle cx="700.3" cy="2015.1" r="8.2" fill="#3452A5" fill-opacity="0.62"/>
<circle cx="865.9" cy="1889.1" r="8.2" fill="#3452A5" fill-opacity="0.62"/>
<circle cx="862.2" cy="1889.9" r="8.2" fill="#3452A5" fill-opacity="0.62"/>
<circle cx="758.5" cy="2007.8" r="8.2" fill="#3452A5" fill-opacity="0.62"/>
<circle cx="704.4" cy="2027.5" r="8.2" fill="#3452A5" fill-opacity="0.62"/>
<circle cx="675.9" cy="2009.1" r="8.2" fill="#3452A5" fill-opacity="0.62"/>
<circle cx="586.1" cy="2052.4" r="8.2" fill="#3452A5" fill-opacity="0.62"/>
<circle cx="680.9" cy="1953.0" r="8.2" fill="#3452A5" fill-opacity="0.62"/>
<circle cx="578.0" cy="2032.5" r="8.2" fill="#5A4698" fill-opacity="0.62"/>
<circle cx="685.1" cy="1939.0" r="8.2" fill="#3452A5" fill-opacity="0.62"/>
<circle cx="575.0" cy="2103.8" r="8.2" fill="#3452A5" fill-opacity="0.62"/>
<circle cx="774.1" cy="1975.5" r="8.2" fill="#3452A5" fill-opacity="0.62"/>
<circle cx="568.7" cy="2074.1" r="8.2" fill="#3452A5" fill-opacity="0.62"/>
<circle cx="626.4" cy="1980.3" r="8.2" fill="#3452A5" fill-opacity="0.62"/>
<circle cx="914.4" cy="1835.3" r="8.2" fill="#3452A5" fill-opacity="0.62"/>
<circle cx="830.2" cy="1880.9" r="8.2" fill="#3452A5" fill-opacity="0.62"/>
<circle cx="695.1" cy="1987.1" r="8.2" fill="#3452A5" fill-opacity="0.62"/>
<circle cx="786.1" cy="1890.1" r="8.2" fill="#3452A5" fill-opacity="0.62"/>
<circle cx="738.2" cy="1919.7" r="8.2" fill="#3452A5" fill-opacity="0.62"/>
<circle cx="708.5" cy="1928.1" r="8.2" fill="#3452A5" fill-opacity="0.62"/>
<circle cx="765.6" cy="1962.1" r="8.2" fill="#3452A5" fill-opacity="0.62"/>
<circle cx="875.9" cy="1879.9" r="8.2" fill="#3452A5" fill-opacity="0.62"/>
<circle cx="754.2" cy="1914.2" r="8.2" fill="#44509F" fill-opacity="0.62"/>
<circle cx="617.1" cy="2044.9" r="8.2" fill="#5A4698" fill-opacity="0.62"/>
<circle cx="556.9" cy="2062.0" r="8.2" fill="#3452A5" fill-opacity="0.62"/>
<circle cx="524.0" cy="2101.7" r="8.2" fill="#3452A5" fill-opacity="0.62"/>
<circle cx="659.1" cy="1952.2" r="8.2" fill="#44509F" fill-opacity="0.62"/>
<circle cx="607.4" cy="2002.3" r="8.2" fill="#3452A5" fill-opacity="0.62"/>
<circle cx="602.3" cy="2094.8" r="8.2" fill="#3452A5" fill-opacity="0.62"/>
<circle cx="863.1" cy="1882.9" r="8.2" fill="#3452A5" fill-opacity="0.62"/>
<circle cx="690.7" cy="2013.3" r="8.2" fill="#44509F" fill-opacity="0.62"/>
<circle cx="644.0" cy="2005.1" r="8.2" fill="#3452A5" fill-opacity="0.62"/>
<circle cx="723.8" cy="1963.4" r="8.2" fill="#3452A5" fill-opacity="0.62"/>
<circle cx="631.3" cy="2066.1" r="8.2" fill="#5A4698" fill-opacity="0.62"/>
<circle cx="877.7" cy="1857.9" r="8.2" fill="#3452A5" fill-opacity="0.62"/>
<circle cx="645.1" cy="1970.8" r="8.2" fill="#3452A5" fill-opacity="0.62"/>
<circle cx="684.4" cy="2011.9" r="8.2" fill="#3452A5" fill-opacity="0.62"/>
<circle cx="616.8" cy="1982.7" r="8.2" fill="#5A4698" fill-opacity="0.62"/>
<circle cx="721.0" cy="1931.0" r="8.2" fill="#3452A5" fill-opacity="0.62"/>
<circle cx="637.2" cy="2064.3" r="8.2" fill="#3452A5" fill-opacity="0.62"/>
<circle cx="544.2" cy="2105.0" r="8.2" fill="#3452A5" fill-opacity="0.62"/>
<circle cx="786.5" cy="1969.0" r="8.2" fill="#3452A5" fill-opacity="0.62"/>
<circle cx="895.3" cy="1854.9" r="8.2" fill="#3452A5" fill-opacity="0.62"/>
<circle cx="812.1" cy="1962.3" r="8.2" fill="#5A4698" fill-opacity="0.62"/>
<circle cx="638.0" cy="1985.9" r="8.2" fill="#3452A5" fill-opacity="0.62"/>
<circle cx="552.0" cy="2072.6" r="8.2" fill="#3452A5" fill-opacity="0.62"/>
<circle cx="586.8" cy="2024.0" r="8.2" fill="#3452A5" fill-opacity="0.62"/>
<circle cx="982.6" cy="1781.7" r="8.2" fill="#3452A5" fill-opacity="0.62"/>
<circle cx="676.4" cy="2025.5" r="8.2" fill="#44509F" fill-opacity="0.62"/>
<circle cx="846.3" cy="1901.5" r="8.2" fill="#3452A5" fill-opacity="0.62"/>
<circle cx="858.0" cy="1866.4" r="8.2" fill="#3452A5" fill-opacity="0.62"/>
<circle cx="549.4" cy="2095.7" r="8.2" fill="#3452A5" fill-opacity="0.62"/>
<circle cx="667.6" cy="2053.9" r="8.2" fill="#3452A5" fill-opacity="0.62"/>
<circle cx="853.8" cy="1863.3" r="8.2" fill="#3452A5" fill-opacity="0.62"/>
<circle cx="645.7" cy="2032.3" r="8.2" fill="#3452A5" fill-opacity="0.62"/>
<circle cx="614.4" cy="2023.5" r="8.2" fill="#3452A5" fill-opacity="0.62"/>
<circle cx="669.0" cy="1951.7" r="8.2" fill="#3452A5" fill-opacity="0.62"/>
<circle cx="705.3" cy="1943.5" r="8.2" fill="#44509F" fill-opacity="0.62"/>
<circle cx="590.2" cy="2014.5" r="8.2" fill="#3452A5" fill-opacity="0.62"/>
<circle cx="794.8" cy="1941.2" r="8.2" fill="#3452A5" fill-opacity="0.62"/>
<circle cx="636.7" cy="2015.6" r="8.2" fill="#3452A5" fill-opacity="0.62"/>
<circle cx="685.8" cy="1981.3" r="8.2" fill="#5A4698" fill-opacity="0.62"/>
<circle cx="749.8" cy="2008.9" r="8.2" fill="#44509F" fill-opacity="0.62"/>
<circle cx="776.4" cy="1999.3" r="8.2" fill="#3452A5" fill-opacity="0.62"/>
<circle cx="661.8" cy="2033.5" r="8.2" fill="#3452A5" fill-opacity="0.62"/>
<circle cx="748.3" cy="1976.6" r="8.2" fill="#3452A5" fill-opacity="0.62"/>
<circle cx="588.2" cy="2089.6" r="8.2" fill="#5A4698" fill-opacity="0.62"/>
<circle cx="858.3" cy="1860.1" r="8.2" fill="#3452A5" fill-opacity="0.62"/>
<circle cx="858.2" cy="1888.1" r="8.2" fill="#3452A5" fill-opacity="0.62"/>
<circle cx="671.8" cy="2049.7" r="8.2" fill="#3452A5" fill-opacity="0.62"/>
<circle cx="785.8" cy="1923.1" r="8.2" fill="#5A4698" fill-opacity="0.62"/>
<circle cx="844.5" cy="1922.7" r="8.2" fill="#3452A5" fill-opacity="0.62"/>
<circle cx="817.1" cy="1914.2" r="8.2" fill="#3452A5" fill-opacity="0.62"/>
<circle cx="648.4" cy="2039.2" r="8.2" fill="#3452A5" fill-opacity="0.62"/>
<circle cx="773.7" cy="1946.5" r="8.2" fill="#3452A5" fill-opacity="0.62"/>
<circle cx="607.5" cy="2090.0" r="8.2" fill="#3452A5" fill-opacity="0.62"/>
<circle cx="745.2" cy="1920.9" r="8.2" fill="#3452A5" fill-opacity="0.62"/>
<circle cx="684.0" cy="2047.5" r="8.2" fill="#3452A5" fill-opacity="0.62"/>
<circle cx="660.1" cy="1958.1" r="8.2" fill="#44509F" fill-opacity="0.62"/>
<circle cx="853.1" cy="1859.6" r="8.2" fill="#5A4698" fill-opacity="0.62"/>
<circle cx="686.8" cy="2004.4" r="8.2" fill="#5A4698" fill-opacity="0.62"/>
<circle cx="870.9" cy="1845.0" r="8.2" fill="#3452A5" fill-opacity="0.62"/>
<circle cx="665.5" cy="2047.7" r="8.2" fill="#3452A5" fill-opacity="0.62"/>
<circle cx="642.3" cy="2019.0" r="8.2" fill="#3452A5" fill-opacity="0.62"/>
<circle cx="818.7" cy="1907.3" r="8.2" fill="#3452A5" fill-opacity="0.62"/>
<circle cx="755.3" cy="1978.1" r="8.2" fill="#3452A5" fill-opacity="0.62"/>
<circle cx="564.5" cy="2078.9" r="8.2" fill="#3452A5" fill-opacity="0.62"/>
<circle cx="845.6" cy="1935.3" r="8.2" fill="#3452A5" fill-opacity="0.62"/>
<circle cx="833.7" cy="1922.7" r="8.2" fill="#3452A5" fill-opacity="0.62"/>
<circle cx="802.0" cy="1980.0" r="8.2" fill="#44509F" fill-opacity="0.62"/>
<circle cx="815.1" cy="1932.9" r="8.2" fill="#3452A5" fill-opacity="0.62"/>
<circle cx="798.5" cy="1988.1" r="8.2" fill="#3452A5" fill-opacity="0.62"/>
<circle cx="869.1" cy="1882.9" r="8.2" fill="#3452A5" fill-opacity="0.62"/>
<circle cx="631.2" cy="2067.6" r="8.2" fill="#3452A5" fill-opacity="0.62"/>
<circle cx="730.5" cy="1966.4" r="8.2" fill="#44509F" fill-opacity="0.62"/>
<circle cx="645.3" cy="2006.5" r="8.2" fill="#5A4698" fill-opacity="0.62"/>
<circle cx="626.8" cy="2064.9" r="8.2" fill="#3452A5" fill-opacity="0.62"/>
<circle cx="609.7" cy="2001.1" r="8.2" fill="#3452A5" fill-opacity="0.62"/>
<circle cx="605.0" cy="2015.7" r="8.2" fill="#3452A5" fill-opacity="0.62"/>
<circle cx="847.5" cy="1940.3" r="8.2" fill="#44509F" fill-opacity="0.62"/>
<circle cx="868.2" cy="1900.6" r="8.2" fill="#3452A5" fill-opacity="0.62"/>
<circle cx="708.5" cy="1936.7" r="8.2" fill="#3452A5" fill-opacity="0.62"/>
<circle cx="677.9" cy="2028.9" r="8.2" fill="#3452A5" fill-opacity="0.62"/>
<circle cx="623.6" cy="1982.4" r="8.2" fill="#3452A5" fill-opacity="0.62"/>
<circle cx="839.2" cy="1936.0" r="8.2" fill="#3452A5" fill-opacity="0.62"/>
<circle cx="651.8" cy="2025.6" r="8.2" fill="#3452A5" fill-opacity="0.62"/>
<circle cx="797.2" cy="1970.0" r="8.2" fill="#3452A5" fill-opacity="0.62"/>
<circle cx="557.3" cy="2100.9" r="8.2" fill="#3452A5" fill-opacity="0.62"/>
<circle cx="691.6" cy="2036.1" r="8.2" fill="#3452A5" fill-opacity="0.62"/>
<circle cx="835.5" cy="1894.5" r="8.2" fill="#3452A5" fill-opacity="0.62"/>
<circle cx="704.7" cy="2011.1" r="8.2" fill="#3452A5" fill-opacity="0.62"/>
<circle cx="590.3" cy="2008.4" r="8.2" fill="#5A4698" fill-opacity="0.62"/>
<circle cx="632.5" cy="2069.1" r="8.2" fill="#3452A5" fill-opacity="0.62"/>
<circle cx="770.4" cy="1965.4" r="8.2" fill="#3452A5" fill-opacity="0.62"/>
<circle cx="563.1" cy="2060.9" r="8.2" fill="#3452A5" fill-opacity="0.62"/>
<circle cx="656.0" cy="1955.5" r="8.2" fill="#3452A5" fill-opacity="0.62"/>
<circle cx="888.4" cy="1858.2" r="8.2" fill="#3452A5" fill-opacity="0.62"/>
<circle cx="781.3" cy="1937.6" r="8.2" fill="#3452A5" fill-opacity="0.62"/>
<circle cx="923.8" cy="1823.9" r="8.2" fill="#44509F" fill-opacity="0.62"/>
<circle cx="707.2" cy="1994.7" r="8.2" fill="#44509F" fill-opacity="0.62"/>
<circle cx="583.9" cy="2071.8" r="8.2" fill="#3452A5" fill-opacity="0.62"/>
<circle cx="563.4" cy="2109.3" r="8.2" fill="#3452A5" fill-opacity="0.62"/>
<circle cx="669.3" cy="1948.7" r="8.2" fill="#3452A5" fill-opacity="0.62"/>
<circle cx="869.7" cy="1862.5" r="8.2" fill="#5A4698" fill-opacity="0.62"/>
<circle cx="719.0" cy="1934.4" r="8.2" fill="#3452A5" fill-opacity="0.62"/>
<circle cx="776.1" cy="1915.3" r="8.2" fill="#3452A5" fill-opacity="0.62"/>
<circle cx="687.3" cy="1989.4" r="8.2" fill="#44509F" fill-opacity="0.62"/>
<circle cx="806.2" cy="1986.2" r="8.2" fill="#3452A5" fill-opacity="0.62"/>
<circle cx="662.6" cy="1951.9" r="8.2" fill="#44509F" fill-opacity="0.62"/>
<circle cx="648.3" cy="2020.0" r="8.2" fill="#3452A5" fill-opacity="0.62"/>
<circle cx="956.4" cy="1794.0" r="8.2" fill="#3452A5" fill-opacity="0.62"/>
<circle cx="875.7" cy="1907.2" r="8.2" fill="#44509F" fill-opacity="0.62"/>
<circle cx="727.4" cy="1929.2" r="8.2" fill="#3452A5" fill-opacity="0.62"/>
<circle cx="565.4" cy="2077.6" r="8.2" fill="#3452A5" fill-opacity="0.62"/>
<circle cx="569.0" cy="2092.4" r="8.2" fill="#3452A5" fill-opacity="0.62"/>
<circle cx="797.5" cy="1960.3" r="8.2" fill="#5A4698" fill-opacity="0.62"/>
<circle cx="698.5" cy="1980.5" r="8.2" fill="#3452A5" fill-opacity="0.62"/>
<circle cx="793.8" cy="1945.5" r="8.2" fill="#3452A5" fill-opacity="0.62"/>
<circle cx="849.3" cy="1853.3" r="8.2" fill="#3452A5" fill-opacity="0.62"/>
<circle cx="636.3" cy="2038.9" r="8.2" fill="#3452A5" fill-opacity="0.62"/>
<circle cx="693.1" cy="2033.7" r="8.2" fill="#3452A5" fill-opacity="0.62"/>
<circle cx="720.1" cy="1996.7" r="8.2" fill="#3452A5" fill-opacity="0.62"/>
<circle cx="786.1" cy="1972.0" r="8.2" fill="#3452A5" fill-opacity="0.62"/>
<circle cx="891.6" cy="1847.6" r="8.2" fill="#3452A5" fill-opacity="0.62"/>
<circle cx="845.3" cy="1902.0" r="8.2" fill="#3452A5" fill-opacity="0.62"/>
<circle cx="863.7" cy="1864.9" r="8.2" fill="#3452A5" fill-opacity="0.62"/>
<circle cx="644.3" cy="1956.2" r="8.2" fill="#3452A5" fill-opacity="0.62"/>
<circle cx="806.3" cy="1969.2" r="8.2" fill="#3452A5" fill-opacity="0.62"/>
<circle cx="887.3" cy="1863.1" r="8.2" fill="#3452A5" fill-opacity="0.62"/>
<circle cx="535.3" cy="2115.9" r="8.2" fill="#44509F" fill-opacity="0.62"/>
<circle cx="689.7" cy="2038.4" r="8.2" fill="#44509F" fill-opacity="0.62"/>
<circle cx="785.1" cy="1896.3" r="8.2" fill="#3452A5" fill-opacity="0.62"/>
<circle cx="562.6" cy="2117.4" r="8.2" fill="#3452A5" fill-opacity="0.62"/>
<circle cx="949.0" cy="1804.1" r="8.2" fill="#3452A5" fill-opacity="0.62"/>
<circle cx="765.9" cy="1898.3" r="8.2" fill="#3452A5" fill-opacity="0.62"/>
<circle cx="853.0" cy="1921.9" r="8.2" fill="#5A4698" fill-opacity="0.62"/>
<circle cx="746.5" cy="1974.3" r="8.2" fill="#44509F" fill-opacity="0.62"/>
<circle cx="672.7" cy="2028.3" r="8.2" fill="#3452A5" fill-opacity="0.62"/>
<circle cx="762.5" cy="1982.7" r="8.2" fill="#3452A5" fill-opacity="0.62"/>
<circle cx="636.8" cy="1984.8" r="8.2" fill="#3452A5" fill-opacity="0.62"/>
<circle cx="838.3" cy="1936.0" r="8.2" fill="#3452A5" fill-opacity="0.62"/>
<circle cx="891.4" cy="1890.4" r="8.2" fill="#3452A5" fill-opacity="0.62"/>
<circle cx="625.1" cy="2010.5" r="8.2" fill="#44509F" fill-opacity="0.62"/>
<circle cx="635.9" cy="1961.3" r="8.2" fill="#44509F" fill-opacity="0.62"/>
<circle cx="578.0" cy="2032.9" r="8.2" fill="#3452A5" fill-opacity="0.62"/>
<circle cx="772.6" cy="1978.1" r="8.2" fill="#5A4698" fill-opacity="0.62"/>
<circle cx="659.9" cy="2050.2" r="8.2" fill="#3452A5" fill-opacity="0.62"/>
<circle cx="733.3" cy="1991.3" r="8.2" fill="#3452A5" fill-opacity="0.62"/>
<circle cx="986.2" cy="1775.1" r="8.2" fill="#3452A5" fill-opacity="0.62"/>
<circle cx="593.3" cy="2041.1" r="8.2" fill="#3452A5" fill-opacity="0.62"/>
<circle cx="616.1" cy="2064.6" r="8.2" fill="#3452A5" fill-opacity="0.62"/>
<circle cx="752.5" cy="2009.9" r="8.2" fill="#3452A5" fill-opacity="0.62"/>
<circle cx="810.9" cy="1904.0" r="8.2" fill="#3452A5" fill-opacity="0.62"/>
<circle cx="739.7" cy="1999.1" r="8.2" fill="#3452A5" fill-opacity="0.62"/>
<circle cx="712.4" cy="1967.8" r="8.2" fill="#3452A5" fill-opacity="0.62"/>
<circle cx="862.0" cy="1853.8" r="8.2" fill="#3452A5" fill-opacity="0.62"/>
<circle cx="678.3" cy="1975.0" r="8.2" fill="#3452A5" fill-opacity="0.62"/>
<circle cx="759.8" cy="1907.6" r="8.2" fill="#44509F" fill-opacity="0.62"/>
<circle cx="640.2" cy="1980.5" r="8.2" fill="#3452A5" fill-opacity="0.62"/>
<circle cx="817.3" cy="1938.7" r="8.2" fill="#3452A5" fill-opacity="0.62"/>
<circle cx="744.0" cy="2005.6" r="8.2" fill="#3452A5" fill-opacity="0.62"/>
<circle cx="899.3" cy="1853.6" r="8.2" fill="#5A4698" fill-opacity="0.62"/>
<circle cx="754.8" cy="1925.2" r="8.2" fill="#3452A5" fill-opacity="0.62"/>
<circle cx="748.0" cy="1946.2" r="8.2" fill="#3452A5" fill-opacity="0.62"/>
<circle cx="900.0" cy="1831.8" r="8.2" fill="#3452A5" fill-opacity="0.62"/>
<circle cx="906.5" cy="1879.3" r="8.2" fill="#3452A5" fill-opacity="0.62"/>
<circle cx="599.6" cy="2025.4" r="8.2" fill="#3452A5" fill-opacity="0.62"/>
<circle cx="820.8" cy="1949.8" r="8.2" fill="#3452A5" fill-opacity="0.62"/>
<circle cx="897.2" cy="1851.4" r="8.2" fill="#3452A5" fill-opacity="0.62"/>
<circle cx="600.3" cy="2008.0" r="8.2" fill="#3452A5" fill-opacity="0.62"/>
<circle cx="763.9" cy="1948.3" r="8.2" fill="#3452A5" fill-opacity="0.62"/>
<circle cx="770.2" cy="1942.7" r="8.2" fill="#3452A5" fill-opacity="0.62"/>
<circle cx="872.3" cy="1859.3" r="8.2" fill="#3452A5" fill-opacity="0.62"/>
<circle cx="682.3" cy="1962.9" r="8.2" fill="#3452A5" fill-opacity="0.62"/>
<circle cx="720.2" cy="2022.2" r="8.2" fill="#3452A5" fill-opacity="0.62"/>
<circle cx="641.9" cy="2034.9" r="8.2" fill="#3452A5" fill-opacity="0.62"/>
<circle cx="863.6" cy="1885.3" r="8.2" fill="#3452A5" fill-opacity="0.62"/>
<circle cx="853.5" cy="1936.6" r="8.2" fill="#3452A5" fill-opacity="0.62"/>
<circle cx="847.8" cy="1929.5" r="8.2" fill="#3452A5" fill-opacity="0.62"/>
<circle cx="705.6" cy="2008.7" r="8.2" fill="#3452A5" fill-opacity="0.62"/>
<circle cx="746.4" cy="1985.6" r="8.2" fill="#3452A5" fill-opacity="0.62"/>
<circle cx="757.2" cy="1919.3" r="8.2" fill="#5A4698" fill-opacity="0.62"/>
<circle cx="634.5" cy="2061.6" r="8.2" fill="#3452A5" fill-opacity="0.62"/>
<circle cx="854.5" cy="1933.5" r="8.2" fill="#3452A5" fill-opacity="0.62"/>
<circle cx="813.4" cy="1919.6" r="8.2" fill="#3452A5" fill-opacity="0.62"/>
<circle cx="657.1" cy="2054.7" r="8.2" fill="#3452A5" fill-opacity="0.62"/>
<circle cx="731.0" cy="1942.9" r="8.2" fill="#3452A5" fill-opacity="0.62"/>
<circle cx="704.8" cy="2016.7" r="8.2" fill="#44509F" fill-opacity="0.62"/>
<circle cx="870.5" cy="1876.7" r="8.2" fill="#3452A5" fill-opacity="0.62"/>
<circle cx="721.2" cy="2010.1" r="8.2" fill="#3452A5" fill-opacity="0.62"/>
<circle cx="619.1" cy="2053.8" r="8.2" fill="#3452A5" fill-opacity="0.62"/>
<circle cx="675.6" cy="2031.9" r="8.2" fill="#3452A5" fill-opacity="0.62"/>
<circle cx="882.9" cy="1862.9" r="8.2" fill="#44509F" fill-opacity="0.62"/>
<circle cx="699.8" cy="1986.6" r="8.2" fill="#3452A5" fill-opacity="0.62"/>
<circle cx="631.6" cy="2029.5" r="8.2" fill="#3452A5" fill-opacity="0.62"/>
<circle cx="782.8" cy="1969.4" r="8.2" fill="#3452A5" fill-opacity="0.62"/>
<circle cx="889.9" cy="1887.3" r="8.2" fill="#3452A5" fill-opacity="0.62"/>
<circle cx="642.8" cy="1977.9" r="8.2" fill="#3452A5" fill-opacity="0.62"/>
<circle cx="766.7" cy="1951.0" r="8.2" fill="#3452A5" fill-opacity="0.62"/>
<circle cx="804.6" cy="1938.0" r="8.2" fill="#3452A5" fill-opacity="0.62"/>
<circle cx="681.0" cy="2049.5" r="8.2" fill="#3452A5" fill-opacity="0.62"/>
<circle cx="691.6" cy="2011.5" r="8.2" fill="#3452A5" fill-opacity="0.62"/>
<circle cx="612.0" cy="2028.8" r="8.2" fill="#3452A5" fill-opacity="0.62"/>
<circle cx="850.2" cy="1891.9" r="8.2" fill="#3452A5" fill-opacity="0.62"/>
<circle cx="787.1" cy="1993.6" r="8.2" fill="#3452A5" fill-opacity="0.62"/>
<circle cx="617.5" cy="1997.5" r="8.2" fill="#3452A5" fill-opacity="0.62"/>
<circle cx="620.5" cy="2034.5" r="8.2" fill="#44509F" fill-opacity="0.62"/>
<circle cx="539.4" cy="2080.2" r="8.2" fill="#44509F" fill-opacity="0.62"/>
<circle cx="774.0" cy="1983.9" r="8.2" fill="#44509F" fill-opacity="0.62"/>
<circle cx="649.9" cy="1975.7" r="8.2" fill="#3452A5" fill-opacity="0.62"/>
<circle cx="660.3" cy="1987.2" r="8.2" fill="#3452A5" fill-opacity="0.62"/>
<circle cx="754.9" cy="1941.1" r="8.2" fill="#44509F" fill-opacity="0.62"/>
<circle cx="767.0" cy="1965.1" r="8.2" fill="#3452A5" fill-opacity="0.62"/>
<circle cx="702.8" cy="1972.6" r="8.2" fill="#3452A5" fill-opacity="0.62"/>
<circle cx="797.8" cy="1983.6" r="8.2" fill="#3452A5" fill-opacity="0.62"/>
<circle cx="774.2" cy="1891.8" r="8.2" fill="#44509F" fill-opacity="0.62"/>
<circle cx="913.0" cy="1834.9" r="8.2" fill="#3452A5" fill-opacity="0.62"/>
<circle cx="783.7" cy="1909.0" r="8.2" fill="#44509F" fill-opacity="0.62"/>
<circle cx="910.9" cy="1860.3" r="8.2" fill="#3452A5" fill-opacity="0.62"/>
<circle cx="815.3" cy="1909.1" r="8.2" fill="#44509F" fill-opacity="0.62"/>
<circle cx="696.3" cy="1964.4" r="8.2" fill="#3452A5" fill-opacity="0.62"/>
<circle cx="601.4" cy="2036.7" r="8.2" fill="#3452A5" fill-opacity="0.62"/>
<circle cx="546.9" cy="2089.1" r="8.2" fill="#3452A5" fill-opacity="0.62"/>
<circle cx="606.7" cy="2005.2" r="8.2" fill="#44509F" fill-opacity="0.62"/>
<circle cx="770.2" cy="1906.3" r="8.2" fill="#3452A5" fill-opacity="0.62"/>
<circle cx="756.8" cy="1911.0" r="8.2" fill="#5A4698" fill-opacity="0.62"/>
<circle cx="700.3" cy="1968.4" r="8.2" fill="#44509F" fill-opacity="0.62"/>
<circle cx="696.0" cy="2030.5" r="8.2" fill="#3452A5" fill-opacity="0.62"/>
<circle cx="690.5" cy="2030.1" r="8.2" fill="#3452A5" fill-opacity="0.62"/>
<circle cx="685.6" cy="1992.2" r="8.2" fill="#3452A5" fill-opacity="0.62"/>
<circle cx="666.4" cy="1992.7" r="8.2" fill="#44509F" fill-opacity="0.62"/>
<circle cx="923.3" cy="1840.2" r="8.2" fill="#44509F" fill-opacity="0.62"/>
<circle cx="780.6" cy="1892.8" r="8.2" fill="#3452A5" fill-opacity="0.62"/>
<circle cx="858.4" cy="1852.8" r="8.2" fill="#3452A5" fill-opacity="0.62"/>
<circle cx="607.9" cy="1996.4" r="8.2" fill="#3452A5" fill-opacity="0.62"/>
<circle cx="648.9" cy="2055.3" r="8.2" fill="#3452A5" fill-opacity="0.62"/>
<circle cx="817.8" cy="1941.0" r="8.2" fill="#3452A5" fill-opacity="0.62"/>
<circle cx="637.4" cy="1990.7" r="8.2" fill="#3452A5" fill-opacity="0.62"/>
<circle cx="757.5" cy="1956.7" r="8.2" fill="#3452A5" fill-opacity="0.62"/>
<circle cx="745.1" cy="1914.7" r="8.2" fill="#3452A5" fill-opacity="0.62"/>
<circle cx="579.1" cy="2057.5" r="8.2" fill="#3452A5" fill-opacity="0.62"/>
<circle cx="827.1" cy="1941.6" r="8.2" fill="#3452A5" fill-opacity="0.62"/>
<circle cx="803.4" cy="1941.7" r="8.2" fill="#3452A5" fill-opacity="0.62"/>
<circle cx="610.6" cy="2006.3" r="8.2" fill="#3452A5" fill-opacity="0.62"/>
<circle cx="544.7" cy="2111.0" r="8.2" fill="#44509F" fill-opacity="0.62"/>
<circle cx="665.2" cy="2036.5" r="8.2" fill="#3452A5" fill-opacity="0.62"/>
<circle cx="630.3" cy="1972.2" r="8.2" fill="#44509F" fill-opacity="0.62"/>
<circle cx="823.4" cy="1902.2" r="8.2" fill="#5A4698" fill-opacity="0.62"/>
<circle cx="707.4" cy="2008.2" r="8.2" fill="#3452A5" fill-opacity="0.62"/>
<circle cx="687.5" cy="2007.8" r="8.2" fill="#44509F" fill-opacity="0.62"/>
<circle cx="697.3" cy="2006.1" r="8.2" fill="#3452A5" fill-opacity="0.62"/>
<circle cx="557.9" cy="2064.3" r="8.2" fill="#3452A5" fill-opacity="0.62"/>
<circle cx="944.3" cy="1797.4" r="8.2" fill="#3452A5" fill-opacity="0.62"/>
<circle cx="633.1" cy="2049.6" r="8.2" fill="#3452A5" fill-opacity="0.62"/>
<circle cx="681.0" cy="1942.9" r="8.2" fill="#44509F" fill-opacity="0.62"/>
<circle cx="801.1" cy="1885.3" r="8.2" fill="#3452A5" fill-opacity="0.62"/>
<circle cx="570.3" cy="2067.8" r="8.2" fill="#5A4698" fill-opacity="0.62"/>
<circle cx="767.6" cy="1920.5" r="8.2" fill="#44509F" fill-opacity="0.62"/>
<circle cx="723.1" cy="1939.9" r="8.2" fill="#3452A5" fill-opacity="0.62"/>
<circle cx="889.0" cy="1889.9" r="8.2" fill="#3452A5" fill-opacity="0.62"/>
<circle cx="554.2" cy="2096.2" r="8.2" fill="#5A4698" fill-opacity="0.62"/>
<circle cx="834.4" cy="1920.3" r="8.2" fill="#3452A5" fill-opacity="0.62"/>
<circle cx="769.0" cy="1983.3" r="8.2" fill="#3452A5" fill-opacity="0.62"/>
<circle cx="586.3" cy="2074.5" r="8.2" fill="#44509F" fill-opacity="0.62"/>
<circle cx="626.5" cy="2008.2" r="8.2" fill="#3452A5" fill-opacity="0.62"/>
<circle cx="722.2" cy="1936.7" r="8.2" fill="#3452A5" fill-opacity="0.62"/>
<circle cx="731.0" cy="2022.0" r="8.2" fill="#44509F" fill-opacity="0.62"/>
<circle cx="856.1" cy="1887.9" r="8.2" fill="#5A4698" fill-opacity="0.62"/>
<circle cx="621.5" cy="2036.5" r="8.2" fill="#3452A5" fill-opacity="0.62"/>
<circle cx="682.2" cy="1942.2" r="8.2" fill="#3452A5" fill-opacity="0.62"/>
<circle cx="896.2" cy="1863.8" r="8.2" fill="#3452A5" fill-opacity="0.62"/>
<circle cx="628.7" cy="2039.2" r="8.2" fill="#5A4698" fill-opacity="0.62"/>
<circle cx="710.1" cy="1970.1" r="8.2" fill="#3452A5" fill-opacity="0.62"/>
<circle cx="704.0" cy="1977.1" r="8.2" fill="#5A4698" fill-opacity="0.62"/>
<circle cx="838.0" cy="1891.4" r="8.2" fill="#3452A5" fill-opacity="0.62"/>
<circle cx="748.7" cy="1907.1" r="8.2" fill="#3452A5" fill-opacity="0.62"/>
<circle cx="725.4" cy="1962.4" r="8.2" fill="#3452A5" fill-opacity="0.62"/>
<circle cx="837.8" cy="1938.4" r="8.2" fill="#3452A5" fill-opacity="0.62"/>
<circle cx="769.2" cy="1982.3" r="8.2" fill="#44509F" fill-opacity="0.62"/>
<circle cx="579.3" cy="2047.7" r="8.2" fill="#3452A5" fill-opacity="0.62"/>
<circle cx="888.3" cy="1868.8" r="8.2" fill="#3452A5" fill-opacity="0.62"/>
<circle cx="642.3" cy="2017.2" r="8.2" fill="#3452A5" fill-opacity="0.62"/>
<circle cx="709.1" cy="1942.6" r="8.2" fill="#3452A5" fill-opacity="0.62"/>
<circle cx="721.3" cy="1988.7" r="8.2" fill="#3452A5" fill-opacity="0.62"/>
<circle cx="733.3" cy="2006.3" r="8.2" fill="#3452A5" fill-opacity="0.62"/>
<circle cx="804.8" cy="1896.6" r="8.2" fill="#3452A5" fill-opacity="0.62"/>
<circle cx="611.0" cy="2039.0" r="8.2" fill="#5A4698" fill-opacity="0.62"/>
<circle cx="667.1" cy="2004.8" r="8.2" fill="#3452A5" fill-opacity="0.62"/>
<circle cx="847.5" cy="1903.3" r="8.2" fill="#3452A5" fill-opacity="0.62"/>
<circle cx="711.8" cy="2025.7" r="8.2" fill="#3452A5" fill-opacity="0.62"/>
<circle cx="808.4" cy="1898.4" r="8.2" fill="#5A4698" fill-opacity="0.62"/>
<circle cx="656.5" cy="1992.8" r="8.2" fill="#3452A5" fill-opacity="0.62"/>
<circle cx="664.9" cy="2014.3" r="8.2" fill="#3452A5" fill-opacity="0.62"/>
<circle cx="632.4" cy="2073.9" r="8.2" fill="#3452A5" fill-opacity="0.62"/>
<circle cx="538.4" cy="2097.3" r="8.2" fill="#3452A5" fill-opacity="0.62"/>
<circle cx="669.5" cy="2054.3" r="8.2" fill="#3452A5" fill-opacity="0.62"/>
<circle cx="791.4" cy="1920.5" r="8.2" fill="#3452A5" fill-opacity="0.62"/>
<circle cx="749.8" cy="1922.9" r="8.2" fill="#3452A5" fill-opacity="0.62"/>
<circle cx="851.5" cy="1852.9" r="8.2" fill="#3452A5" fill-opacity="0.62"/>
<circle cx="863.8" cy="1857.4" r="8.2" fill="#44509F" fill-opacity="0.62"/>
<circle cx="529.4" cy="2094.9" r="8.2" fill="#3452A5" fill-opacity="0.62"/>
<circle cx="720.4" cy="1996.2" r="8.2" fill="#3452A5" fill-opacity="0.62"/>
<circle cx="636.9" cy="2073.3" r="8.2" fill="#3452A5" fill-opacity="0.62"/>
<circle cx="779.3" cy="1966.5" r="8.2" fill="#3452A5" fill-opacity="0.62"/>
<circle cx="646.2" cy="1972.7" r="8.2" fill="#44509F" fill-opacity="0.62"/>
<circle cx="567.7" cy="2115.4" r="8.2" fill="#5A4698" fill-opacity="0.62"/>
<circle cx="591.8" cy="2037.2" r="8.2" fill="#3452A5" fill-opacity="0.62"/>
<circle cx="804.7" cy="1944.0" r="8.2" fill="#3452A5" fill-opacity="0.62"/>
<circle cx="902.2" cy="1846.7" r="8.2" fill="#3452A5" fill-opacity="0.62"/>
<circle cx="641.4" cy="1996.4" r="8.2" fill="#3452A5" fill-opacity="0.62"/>
<circle cx="781.6" cy="1918.8" r="8.2" fill="#3452A5" fill-opacity="0.62"/>
<circle cx="934.1" cy="1823.5" r="8.2" fill="#3452A5" fill-opacity="0.62"/>
<circle cx="629.1" cy="1995.6" r="8.2" fill="#3452A5" fill-opacity="0.62"/>
<circle cx="645.5" cy="1992.6" r="8.2" fill="#3452A5" fill-opacity="0.62"/>
<circle cx="650.2" cy="2049.8" r="8.2" fill="#44509F" fill-opacity="0.62"/>
<circle cx="824.6" cy="1882.0" r="8.2" fill="#3452A5" fill-opacity="0.62"/>
<circle cx="557.6" cy="2056.2" r="8.2" fill="#3452A5" fill-opacity="0.62"/>
<circle cx="578.1" cy="2048.0" r="8.2" fill="#3452A5" fill-opacity="0.62"/>
<circle cx="812.7" cy="1983.5" r="8.2" fill="#3452A5" fill-opacity="0.62"/>
<circle cx="860.5" cy="1850.1" r="8.2" fill="#3452A5" fill-opacity="0.62"/>
<circle cx="775.9" cy="1959.5" r="8.2" fill="#3452A5" fill-opacity="0.62"/>
<circle cx="804.5" cy="1972.6" r="8.2" fill="#3452A5" fill-opacity="0.62"/>
<circle cx="651.9" cy="1980.7" r="8.2" fill="#3452A5" fill-opacity="0.62"/>
<circle cx="761.9" cy="1935.6" r="8.2" fill="#3452A5" fill-opacity="0.62"/>
<circle cx="595.8" cy="2060.8" r="8.2" fill="#5A4698" fill-opacity="0.62"/>
<circle cx="813.8" cy="1945.5" r="8.2" fill="#3452A5" fill-opacity="0.62"/>
<circle cx="807.8" cy="1876.4" r="8.2" fill="#3452A5" fill-opacity="0.62"/>
<circle cx="735.3" cy="2023.2" r="8.2" fill="#3452A5" fill-opacity="0.62"/>
<circle cx="613.9" cy="2040.0" r="8.2" fill="#3452A5" fill-opacity="0.62"/>
<circle cx="809.7" cy="1971.1" r="8.2" fill="#3452A5" fill-opacity="0.62"/>
<circle cx="883.8" cy="1873.8" r="8.2" fill="#3452A5" fill-opacity="0.62"/>
<circle cx="818.4" cy="1970.9" r="8.2" fill="#3452A5" fill-opacity="0.62"/>
<circle cx="852.3" cy="1925.9" r="8.2" fill="#44509F" fill-opacity="0.62"/>
<circle cx="552.1" cy="2086.9" r="8.2" fill="#3452A5" fill-opacity="0.62"/>
<circle cx="820.1" cy="1937.8" r="8.2" fill="#44509F" fill-opacity="0.62"/>
<circle cx="739.0" cy="1972.5" r="8.2" fill="#3452A5" fill-opacity="0.62"/>
<circle cx="722.4" cy="1923.6" r="8.2" fill="#44509F" fill-opacity="0.62"/>
<circle cx="811.5" cy="1942.9" r="8.2" fill="#3452A5" fill-opacity="0.62"/>
<circle cx="775.6" cy="1891.2" r="8.2" fill="#3452A5" fill-opacity="0.62"/>
<circle cx="633.1" cy="2032.3" r="8.2" fill="#3452A5" fill-opacity="0.62"/>
<circle cx="722.0" cy="2021.5" r="8.2" fill="#3452A5" fill-opacity="0.62"/>
<circle cx="790.8" cy="1961.3" r="8.2" fill="#3452A5" fill-opacity="0.62"/>
<circle cx="776.3" cy="1975.4" r="8.2" fill="#3452A5" fill-opacity="0.62"/>
<circle cx="908.4" cy="1869.0" r="8.2" fill="#3452A5" fill-opacity="0.62"/>
<circle cx="662.7" cy="1949.4" r="8.2" fill="#5A4698" fill-opacity="0.62"/>
<circle cx="901.9" cy="1868.1" r="8.2" fill="#3452A5" fill-opacity="0.62"/>
<circle cx="619.8" cy="2023.3" r="8.2" fill="#3452A5" fill-opacity="0.62"/>
<circle cx="726.1" cy="1967.1" r="8.2" fill="#3452A5" fill-opacity="0.62"/>
<circle cx="892.3" cy="1858.7" r="8.2" fill="#3452A5" fill-opacity="0.62"/>
<circle cx="844.6" cy="1884.4" r="8.2" fill="#5A4698" fill-opacity="0.62"/>
<circle cx="765.2" cy="1899.2" r="8.2" fill="#3452A5" fill-opacity="0.62"/>
<circle cx="866.2" cy="1860.7" r="8.2" fill="#3452A5" fill-opacity="0.62"/>
<circle cx="800.5" cy="1926.9" r="8.2" fill="#3452A5" fill-opacity="0.62"/>
<circle cx="842.6" cy="1924.8" r="8.2" fill="#3452A5" fill-opacity="0.62"/>
<circle cx="520.9" cy="2105.0" r="8.2" fill="#3452A5" fill-opacity="0.62"/>
<circle cx="622.6" cy="2056.9" r="8.2" fill="#3452A5" fill-opacity="0.62"/>
<circle cx="883.4" cy="1853.5" r="8.2" fill="#3452A5" fill-opacity="0.62"/>
<circle cx="803.5" cy="1962.2" r="8.2" fill="#5A4698" fill-opacity="0.62"/>
<circle cx="799.8" cy="1938.0" r="8.2" fill="#3452A5" fill-opacity="0.62"/>
<circle cx="819.3" cy="1976.7" r="8.2" fill="#3452A5" fill-opacity="0.62"/>
<circle cx="824.0" cy="1919.6" r="8.2" fill="#3452A5" fill-opacity="0.62"/>
<circle cx="807.8" cy="1971.2" r="8.2" fill="#3452A5" fill-opacity="0.62"/>
<circle cx="805.2" cy="1926.4" r="8.2" fill="#3452A5" fill-opacity="0.62"/>
<circle cx="727.4" cy="1926.4" r="8.2" fill="#44509F" fill-opacity="0.62"/>
<circle cx="727.8" cy="1932.9" r="8.2" fill="#3452A5" fill-opacity="0.62"/>
<circle cx="826.8" cy="1883.3" r="8.2" fill="#44509F" fill-opacity="0.62"/>
<circle cx="780.7" cy="1960.2" r="8.2" fill="#3452A5" fill-opacity="0.62"/>
<circle cx="895.0" cy="1870.4" r="8.2" fill="#3452A5" fill-opacity="0.62"/>
<circle cx="650.0" cy="2015.0" r="8.2" fill="#3452A5" fill-opacity="0.62"/>
<circle cx="651.4" cy="1972.0" r="8.2" fill="#3452A5" fill-opacity="0.62"/>
<circle cx="609.2" cy="2050.8" r="8.2" fill="#5A4698" fill-opacity="0.62"/>
<circle cx="738.5" cy="1940.2" r="8.2" fill="#44509F" fill-opacity="0.62"/>
<circle cx="680.6" cy="1982.9" r="8.2" fill="#3452A5" fill-opacity="0.62"/>
<circle cx="554.4" cy="2063.3" r="8.2" fill="#3452A5" fill-opacity="0.62"/>
<circle cx="681.5" cy="2032.1" r="8.2" fill="#3452A5" fill-opacity="0.62"/>
<circle cx="715.2" cy="1947.2" r="8.2" fill="#3452A5" fill-opacity="0.62"/>
<circle cx="623.6" cy="1996.5" r="8.2" fill="#44509F" fill-opacity="0.62"/>
<circle cx="669.6" cy="2036.1" r="8.2" fill="#3452A5" fill-opacity="0.62"/>
<circle cx="764.3" cy="1905.8" r="8.2" fill="#3452A5" fill-opacity="0.62"/>
<circle cx="545.1" cy="2115.5" r="8.2" fill="#3452A5" fill-opacity="0.62"/>
<circle cx="802.4" cy="1944.4" r="8.2" fill="#3452A5" fill-opacity="0.62"/>
<circle cx="592.7" cy="2005.9" r="8.2" fill="#3452A5" fill-opacity="0.62"/>
<circle cx="725.1" cy="2019.5" r="8.2" fill="#3452A5" fill-opacity="0.62"/>
<circle cx="563.9" cy="2051.0" r="8.2" fill="#3452A5" fill-opacity="0.62"/>
<circle cx="526.7" cy="2125.3" r="8.2" fill="#3452A5" fill-opacity="0.62"/>
<circle cx="721.8" cy="1994.3" r="8.2" fill="#3452A5" fill-opacity="0.62"/>
<circle cx="708.5" cy="2009.9" r="8.2" fill="#3452A5" fill-opacity="0.62"/>
<circle cx="676.4" cy="2010.6" r="8.2" fill="#3452A5" fill-opacity="0.62"/>
<circle cx="717.7" cy="1962.6" r="8.2" fill="#44509F" fill-opacity="0.62"/>
<circle cx="809.2" cy="1949.2" r="8.2" fill="#3452A5" fill-opacity="0.62"/>
<circle cx="758.2" cy="1919.8" r="8.2" fill="#3452A5" fill-opacity="0.62"/>
<circle cx="715.5" cy="1936.5" r="8.2" fill="#3452A5" fill-opacity="0.62"/>
<circle cx="870.2" cy="1881.1" r="8.2" fill="#44509F" fill-opacity="0.62"/>
<circle cx="594.4" cy="2064.0" r="8.2" fill="#5A4698" fill-opacity="0.62"/>
<circle cx="975.9" cy="1779.3" r="8.2" fill="#3452A5" fill-opacity="0.62"/>
<circle cx="587.3" cy="2040.2" r="8.2" fill="#3452A5" fill-opacity="0.62"/>
<circle cx="880.9" cy="1866.1" r="8.2" fill="#3452A5" fill-opacity="0.62"/>
<circle cx="546.0" cy="2085.0" r="8.2" fill="#3452A5" fill-opacity="0.62"/>
<circle cx="734.3" cy="1932.6" r="8.2" fill="#3452A5" fill-opacity="0.62"/>
<circle cx="834.3" cy="1929.8" r="8.2" fill="#3452A5" fill-opacity="0.62"/>
<circle cx="685.9" cy="2040.5" r="8.2" fill="#3452A5" fill-opacity="0.62"/>
<circle cx="803.9" cy="1968.6" r="8.2" fill="#3452A5" fill-opacity="0.62"/>
<circle cx="643.6" cy="1992.9" r="8.2" fill="#3452A5" fill-opacity="0.62"/>
<circle cx="634.9" cy="2044.6" r="8.2" fill="#3452A5" fill-opacity="0.62"/>
<circle cx="608.4" cy="1988.1" r="8.2" fill="#3452A5" fill-opacity="0.62"/>
<circle cx="826.6" cy="1910.7" r="8.2" fill="#44509F" fill-opacity="0.62"/>
<circle cx="768.3" cy="1893.2" r="8.2" fill="#44509F" fill-opacity="0.62"/>
<circle cx="562.9" cy="2091.7" r="8.2" fill="#3452A5" fill-opacity="0.62"/>
<circle cx="739.9" cy="2007.8" r="8.2" fill="#3452A5" fill-opacity="0.62"/>
<circle cx="520.7" cy="2108.7" r="8.2" fill="#3452A5" fill-opacity="0.62"/>
<circle cx="674.0" cy="2019.3" r="8.2" fill="#3452A5" fill-opacity="0.62"/>
<circle cx="974.6" cy="1784.2" r="8.2" fill="#3452A5" fill-opacity="0.62"/>
<circle cx="559.2" cy="2110.8" r="8.2" fill="#3452A5" fill-opacity="0.62"/>
<circle cx="616.0" cy="1988.3" r="8.2" fill="#3452A5" fill-opacity="0.62"/>
<circle cx="794.3" cy="1915.1" r="8.2" fill="#3452A5" fill-opacity="0.62"/>
<circle cx="848.4" cy="1905.0" r="8.2" fill="#3452A5" fill-opacity="0.62"/>
<circle cx="793.6" cy="1882.4" r="8.2" fill="#3452A5" fill-opacity="0.62"/>
<circle cx="660.1" cy="1990.2" r="8.2" fill="#44509F" fill-opacity="0.62"/>
<circle cx="550.9" cy="2093.5" r="8.2" fill="#3452A5" fill-opacity="0.62"/>
<circle cx="681.3" cy="2047.3" r="8.2" fill="#3452A5" fill-opacity="0.62"/>
<circle cx="888.5" cy="1897.5" r="8.2" fill="#3452A5" fill-opacity="0.62"/>
<circle cx="870.2" cy="1897.3" r="8.2" fill="#3452A5" fill-opacity="0.62"/>
<circle cx="777.3" cy="1965.5" r="8.2" fill="#3452A5" fill-opacity="0.62"/>
<circle cx="661.0" cy="2032.8" r="8.2" fill="#3452A5" fill-opacity="0.62"/>
<circle cx="610.8" cy="1997.3" r="8.2" fill="#3452A5" fill-opacity="0.62"/>
<circle cx="702.2" cy="2020.0" r="8.2" fill="#3452A5" fill-opacity="0.62"/>
<circle cx="755.5" cy="1955.3" r="8.2" fill="#3452A5" fill-opacity="0.62"/>
<circle cx="959.8" cy="1800.0" r="8.2" fill="#5A4698" fill-opacity="0.62"/>
<circle cx="787.4" cy="1886.6" r="8.2" fill="#3452A5" fill-opacity="0.62"/>
<circle cx="676.3" cy="1949.7" r="8.2" fill="#3452A5" fill-opacity="0.62"/>
<circle cx="968.0" cy="1788.9" r="8.2" fill="#5A4698" fill-opacity="0.62"/>
<circle cx="606.1" cy="1984.8" r="8.2" fill="#3452A5" fill-opacity="0.62"/>
<circle cx="618.2" cy="2027.0" r="8.2" fill="#3452A5" fill-opacity="0.62"/>
<circle cx="942.4" cy="1813.2" r="8.2" fill="#5A4698" fill-opacity="0.62"/>
<circle cx="639.9" cy="1960.3" r="8.2" fill="#3452A5" fill-opacity="0.62"/>
<circle cx="868.9" cy="1903.2" r="8.2" fill="#3452A5" fill-opacity="0.62"/>
<circle cx="739.0" cy="1983.3" r="8.2" fill="#5A4698" fill-opacity="0.62"/>
<circle cx="942.2" cy="1815.6" r="8.2" fill="#44509F" fill-opacity="0.62"/>
<circle cx="571.2" cy="2092.4" r="8.2" fill="#3452A5" fill-opacity="0.62"/>
<circle cx="594.2" cy="2082.9" r="8.2" fill="#5A4698" fill-opacity="0.62"/>
<circle cx="868.3" cy="1898.7" r="8.2" fill="#3452A5" fill-opacity="0.62"/>
<circle cx="747.1" cy="1962.6" r="8.2" fill="#3452A5" fill-opacity="0.62"/>
<circle cx="637.2" cy="2054.7" r="8.2" fill="#3452A5" fill-opacity="0.62"/>
<circle cx="717.3" cy="1982.0" r="8.2" fill="#3452A5" fill-opacity="0.62"/>
<circle cx="633.7" cy="2046.2" r="8.2" fill="#3452A5" fill-opacity="0.62"/>
<circle cx="547.5" cy="2107.9" r="8.2" fill="#3452A5" fill-opacity="0.62"/>
<circle cx="572.2" cy="2095.7" r="8.2" fill="#3452A5" fill-opacity="0.62"/>
<circle cx="785.5" cy="1910.7" r="8.2" fill="#44509F" fill-opacity="0.62"/>
<circle cx="853.3" cy="1847.3" r="8.2" fill="#3452A5" fill-opacity="0.62"/>
<circle cx="651.5" cy="1952.2" r="8.2" fill="#3452A5" fill-opacity="0.62"/>
<circle cx="707.7" cy="1948.8" r="8.2" fill="#3452A5" fill-opacity="0.62"/>
<circle cx="560.2" cy="2102.8" r="8.2" fill="#3452A5" fill-opacity="0.62"/>
<circle cx="818.5" cy="1926.6" r="8.2" fill="#3452A5" fill-opacity="0.62"/>
<circle cx="750.4" cy="1955.1" r="8.2" fill="#3452A5" fill-opacity="0.62"/>
<circle cx="896.5" cy="1883.8" r="8.2" fill="#3452A5" fill-opacity="0.62"/>
<circle cx="653.3" cy="2049.7" r="8.2" fill="#5A4698" fill-opacity="0.62"/>
<circle cx="857.6" cy="1894.3" r="8.2" fill="#3452A5" fill-opacity="0.62"/>
<circle cx="864.9" cy="1898.6" r="8.2" fill="#3452A5" fill-opacity="0.62"/>
<circle cx="663.8" cy="1975.5" r="8.2" fill="#44509F" fill-opacity="0.62"/>
<circle cx="807.3" cy="1939.3" r="8.2" fill="#3452A5" fill-opacity="0.62"/>
<circle cx="931.2" cy="1867.5" r="8.2" fill="#44509F" fill-opacity="0.62"/>
<circle cx="610.5" cy="1998.0" r="8.2" fill="#3452A5" fill-opacity="0.62"/>
<circle cx="923.0" cy="1866.3" r="8.2" fill="#3452A5" fill-opacity="0.62"/>
<circle cx="816.4" cy="1893.9" r="8.2" fill="#3452A5" fill-opacity="0.62"/>
<circle cx="621.5" cy="2002.1" r="8.2" fill="#3452A5" fill-opacity="0.62"/>
<circle cx="898.8" cy="1875.5" r="8.2" fill="#44509F" fill-opacity="0.62"/>
<circle cx="813.1" cy="1911.6" r="8.2" fill="#5A4698" fill-opacity="0.62"/>
<circle cx="619.8" cy="2025.4" r="8.2" fill="#3452A5" fill-opacity="0.62"/>
<circle cx="870.9" cy="1843.1" r="8.2" fill="#3452A5" fill-opacity="0.62"/>
<circle cx="677.5" cy="1943.6" r="8.2" fill="#5A4698" fill-opacity="0.62"/>
<circle cx="851.5" cy="1924.0" r="8.2" fill="#3452A5" fill-opacity="0.62"/>
<circle cx="618.3" cy="2028.1" r="8.2" fill="#3452A5" fill-opacity="0.62"/>
<circle cx="615.0" cy="2011.7" r="8.2" fill="#3452A5" fill-opacity="0.62"/>
<circle cx="914.9" cy="1824.8" r="8.2" fill="#5A4698" fill-opacity="0.62"/>
<circle cx="907.1" cy="1836.8" r="8.2" fill="#3452A5" fill-opacity="0.62"/>
<circle cx="586.9" cy="2105.2" r="8.2" fill="#3452A5" fill-opacity="0.62"/>
<circle cx="614.0" cy="2077.4" r="8.2" fill="#44509F" fill-opacity="0.62"/>
<circle cx="665.8" cy="1986.8" r="8.2" fill="#3452A5" fill-opacity="0.62"/>
<circle cx="871.1" cy="1899.5" r="8.2" fill="#3452A5" fill-opacity="0.62"/>
<circle cx="715.5" cy="1937.6" r="8.2" fill="#3452A5" fill-opacity="0.62"/>
<circle cx="705.2" cy="1960.1" r="8.2" fill="#3452A5" fill-opacity="0.62"/>
<circle cx="688.9" cy="2044.3" r="8.2" fill="#3452A5" fill-opacity="0.62"/>
<circle cx="753.6" cy="2003.8" r="8.2" fill="#3452A5" fill-opacity="0.62"/>
<circle cx="717.9" cy="2020.1" r="8.2" fill="#3452A5" fill-opacity="0.62"/>
<circle cx="886.8" cy="1843.1" r="8.2" fill="#3452A5" fill-opacity="0.62"/>
<circle cx="704.1" cy="1934.5" r="8.2" fill="#3452A5" fill-opacity="0.62"/>
<circle cx="596.1" cy="2020.0" r="8.2" fill="#3452A5" fill-opacity="0.62"/>
<circle cx="760.7" cy="1919.0" r="8.2" fill="#3452A5" fill-opacity="0.62"/>
<circle cx="749.8" cy="1919.1" r="8.2" fill="#3452A5" fill-opacity="0.62"/>
<circle cx="630.9" cy="1983.7" r="8.2" fill="#3452A5" fill-opacity="0.62"/>
<circle cx="810.4" cy="1955.6" r="8.2" fill="#3452A5" fill-opacity="0.62"/>
<circle cx="983.7" cy="1774.3" r="8.2" fill="#3452A5" fill-opacity="0.62"/>
<circle cx="806.9" cy="1956.9" r="8.2" fill="#3452A5" fill-opacity="0.62"/>
<circle cx="797.4" cy="1922.0" r="8.2" fill="#44509F" fill-opacity="0.62"/>
<circle cx="839.4" cy="1900.6" r="8.2" fill="#3452A5" fill-opacity="0.62"/>
<circle cx="697.8" cy="2033.1" r="8.2" fill="#3452A5" fill-opacity="0.62"/>
<circle cx="645.7" cy="1977.3" r="8.2" fill="#44509F" fill-opacity="0.62"/>
<circle cx="805.6" cy="1966.4" r="8.2" fill="#3452A5" fill-opacity="0.62"/>
<circle cx="770.8" cy="1957.1" r="8.2" fill="#3452A5" fill-opacity="0.62"/>
<circle cx="748.6" cy="1941.1" r="8.2" fill="#3452A5" fill-opacity="0.62"/>
<circle cx="631.6" cy="2002.9" r="8.2" fill="#3452A5" fill-opacity="0.62"/>
<circle cx="573.1" cy="2108.6" r="8.2" fill="#3452A5" fill-opacity="0.62"/>
<circle cx="724.7" cy="1982.2" r="8.2" fill="#3452A5" fill-opacity="0.62"/>
<circle cx="685.9" cy="1963.1" r="8.2" fill="#3452A5" fill-opacity="0.62"/>
<circle cx="740.4" cy="1941.2" r="8.2" fill="#3452A5" fill-opacity="0.62"/>
<circle cx="790.4" cy="1980.3" r="8.2" fill="#3452A5" fill-opacity="0.62"/>
<circle cx="611.7" cy="2087.6" r="8.2" fill="#3452A5" fill-opacity="0.62"/>
<circle cx="656.5" cy="1970.4" r="8.2" fill="#3452A5" fill-opacity="0.62"/>
<circle cx="834.1" cy="1905.7" r="8.2" fill="#3452A5" fill-opacity="0.62"/>
<circle cx="698.6" cy="2026.2" r="8.2" fill="#3452A5" fill-opacity="0.62"/>
<circle cx="710.5" cy="2030.7" r="8.2" fill="#3452A5" fill-opacity="0.62"/>
<circle cx="755.5" cy="1909.1" r="8.2" fill="#3452A5" fill-opacity="0.62"/>
<circle cx="777.3" cy="1928.1" r="8.2" fill="#3452A5" fill-opacity="0.62"/>
<circle cx="716.2" cy="1954.4" r="8.2" fill="#5A4698" fill-opacity="0.62"/>
<circle cx="798.8" cy="1985.3" r="8.2" fill="#3452A5" fill-opacity="0.62"/>
<circle cx="787.6" cy="1965.1" r="8.2" fill="#3452A5" fill-opacity="0.62"/>
<circle cx="894.7" cy="1881.4" r="8.2" fill="#3452A5" fill-opacity="0.62"/>
<circle cx="633.2" cy="2054.2" r="8.2" fill="#3452A5" fill-opacity="0.62"/>
<circle cx="777.4" cy="1955.1" r="8.2" fill="#44509F" fill-opacity="0.62"/>
<circle cx="707.3" cy="1977.7" r="8.2" fill="#3452A5" fill-opacity="0.62"/>
<circle cx="763.0" cy="1925.7" r="8.2" fill="#3452A5" fill-opacity="0.62"/>
<circle cx="913.2" cy="1863.0" r="8.2" fill="#3452A5" fill-opacity="0.62"/>
<circle cx="775.0" cy="1928.3" r="8.2" fill="#3452A5" fill-opacity="0.62"/>
<circle cx="769.8" cy="1901.8" r="8.2" fill="#5A4698" fill-opacity="0.62"/>
<circle cx="555.1" cy="2104.2" r="8.2" fill="#3452A5" fill-opacity="0.62"/>
<circle cx="862.1" cy="1879.6" r="8.2" fill="#3452A5" fill-opacity="0.62"/>
<circle cx="536.4" cy="2095.7" r="8.2" fill="#44509F" fill-opacity="0.62"/>
<circle cx="844.9" cy="1864.4" r="8.2" fill="#44509F" fill-opacity="0.62"/>
<circle cx="822.6" cy="1900.6" r="8.2" fill="#3452A5" fill-opacity="0.62"/>
<circle cx="921.9" cy="1861.7" r="8.2" fill="#3452A5" fill-opacity="0.62"/>
<circle cx="787.1" cy="1977.9" r="8.2" fill="#3452A5" fill-opacity="0.62"/>
<circle cx="803.9" cy="1959.6" r="8.2" fill="#3452A5" fill-opacity="0.62"/>
<circle cx="561.3" cy="2094.0" r="8.2" fill="#44509F" fill-opacity="0.62"/>
<circle cx="611.1" cy="2039.4" r="8.2" fill="#3452A5" fill-opacity="0.62"/>
<circle cx="637.7" cy="2009.1" r="8.2" fill="#3452A5" fill-opacity="0.62"/>
<circle cx="826.2" cy="1896.5" r="8.2" fill="#3452A5" fill-opacity="0.62"/>
<circle cx="832.4" cy="1941.1" r="8.2" fill="#3452A5" fill-opacity="0.62"/>
<circle cx="582.9" cy="2081.6" r="8.2" fill="#3452A5" fill-opacity="0.62"/>
<circle cx="869.6" cy="1916.0" r="8.2" fill="#3452A5" fill-opacity="0.62"/>
<circle cx="828.6" cy="1926.9" r="8.2" fill="#3452A5" fill-opacity="0.62"/>
<circle cx="891.6" cy="1875.0" r="8.2" fill="#5A4698" fill-opacity="0.62"/>
<circle cx="555.2" cy="2076.2" r="8.2" fill="#3452A5" fill-opacity="0.62"/>
<circle cx="806.9" cy="1899.0" r="8.2" fill="#3452A5" fill-opacity="0.62"/>
<circle cx="884.3" cy="1894.0" r="8.2" fill="#3452A5" fill-opacity="0.62"/>
<circle cx="679.6" cy="2035.1" r="8.2" fill="#44509F" fill-opacity="0.62"/>
<circle cx="827.6" cy="1908.2" r="8.2" fill="#3452A5" fill-opacity="0.62"/>
<circle cx="579.5" cy="2081.2" r="8.2" fill="#3452A5" fill-opacity="0.62"/>
<circle cx="778.2" cy="1940.6" r="8.2" fill="#3452A5" fill-opacity="0.62"/>
<circle cx="869.7" cy="1899.4" r="8.2" fill="#3452A5" fill-opacity="0.62"/>
<circle cx="597.0" cy="2015.4" r="8.2" fill="#3452A5" fill-opacity="0.62"/>
<circle cx="600.7" cy="2003.7" r="8.2" fill="#3452A5" fill-opacity="0.62"/>
<circle cx="663.9" cy="1958.8" r="8.2" fill="#3452A5" fill-opacity="0.62"/>
<circle cx="782.4" cy="1971.4" r="8.2" fill="#3452A5" fill-opacity="0.62"/>
<circle cx="597.5" cy="2029.7" r="8.2" fill="#3452A5" fill-opacity="0.62"/>
<circle cx="765.5" cy="1917.1" r="8.2" fill="#3452A5" fill-opacity="0.62"/>
<circle cx="565.4" cy="2105.8" r="8.2" fill="#44509F" fill-opacity="0.62"/>
<circle cx="686.1" cy="1947.3" r="8.2" fill="#3452A5" fill-opacity="0.62"/>
<circle cx="595.3" cy="2044.1" r="8.2" fill="#3452A5" fill-opacity="0.62"/>
<circle cx="771.1" cy="1961.0" r="8.2" fill="#5A4698" fill-opacity="0.62"/>
<circle cx="846.1" cy="1903.2" r="8.2" fill="#5A4698" fill-opacity="0.62"/>
<circle cx="621.6" cy="1995.8" r="8.2" fill="#44509F" fill-opacity="0.62"/>
<circle cx="517.3" cy="2108.8" r="8.2" fill="#3452A5" fill-opacity="0.62"/>
<circle cx="534.8" cy="2099.8" r="8.2" fill="#3452A5" fill-opacity="0.62"/>
<circle cx="553.1" cy="2100.6" r="8.2" fill="#3452A5" fill-opacity="0.62"/>
<circle cx="560.8" cy="2108.0" r="8.2" fill="#3452A5" fill-opacity="0.62"/>
<circle cx="562.3" cy="2123.0" r="8.2" fill="#5A4698" fill-opacity="0.62"/>
<circle cx="557.7" cy="2137.4" r="8.2" fill="#3452A5" fill-opacity="0.62"/>
<circle cx="549.6" cy="2145.5" r="8.2" fill="#3452A5" fill-opacity="0.62"/>
<circle cx="537.6" cy="2146.5" r="8.2" fill="#3452A5" fill-opacity="0.62"/>
<circle cx="524.6" cy="2141.7" r="8.2" fill="#3452A5" fill-opacity="0.62"/>
<circle cx="515.4" cy="2132.0" r="8.2" fill="#3452A5" fill-opacity="0.62"/>
<circle cx="512.4" cy="2118.0" r="8.2" fill="#3452A5" fill-opacity="0.62"/>
<circle cx="535.4" cy="2131.4" r="8.2" fill="#3452A5" fill-opacity="0.62"/>
<circle cx="547.3" cy="2100.6" r="8.2" fill="#3452A5" fill-opacity="0.62"/>
<circle cx="523.0" cy="2140.6" r="8.2" fill="#3452A5" fill-opacity="0.62"/>
<circle cx="548.8" cy="2128.1" r="8.2" fill="#3452A5" fill-opacity="0.62"/>
<circle cx="540.6" cy="2131.7" r="8.2" fill="#3452A5" fill-opacity="0.62"/>
<circle cx="515.0" cy="2118.4" r="8.2" fill="#3452A5" fill-opacity="0.62"/>
<circle cx="526.9" cy="2116.3" r="8.2" fill="#3452A5" fill-opacity="0.62"/>
<circle cx="513.0" cy="2117.4" r="8.2" fill="#44509F" fill-opacity="0.62"/>
<circle cx="544.5" cy="2101.8" r="8.2" fill="#3452A5" fill-opacity="0.62"/>
<circle cx="530.8" cy="2117.1" r="8.2" fill="#5A4698" fill-opacity="0.62"/>
<circle cx="543.0" cy="2120.6" r="8.2" fill="#3452A5" fill-opacity="0.62"/>
<circle cx="528.1" cy="2113.8" r="8.2" fill="#3452A5" fill-opacity="0.62"/>
<circle cx="548.8" cy="2132.4" r="8.2" fill="#44509F" fill-opacity="0.62"/>
<circle cx="528.5" cy="2122.7" r="8.2" fill="#44509F" fill-opacity="0.62"/>
<circle cx="556.2" cy="2122.0" r="8.2" fill="#3452A5" fill-opacity="0.62"/>
<circle cx="532.7" cy="2123.1" r="8.2" fill="#3452A5" fill-opacity="0.62"/>
<circle cx="519.8" cy="2117.6" r="8.2" fill="#3452A5" fill-opacity="0.62"/>
<circle cx="530.1" cy="2138.3" r="8.2" fill="#44509F" fill-opacity="0.62"/>
<circle cx="517.0" cy="2133.8" r="8.2" fill="#3452A5" fill-opacity="0.62"/>
<circle cx="527.3" cy="2130.2" r="8.2" fill="#3452A5" fill-opacity="0.62"/>
<circle cx="518.9" cy="2108.9" r="8.2" fill="#3452A5" fill-opacity="0.62"/>
<circle cx="528.6" cy="2103.4" r="8.2" fill="#3452A5" fill-opacity="0.62"/>
<circle cx="553.8" cy="2112.5" r="8.2" fill="#3452A5" fill-opacity="0.62"/>
<circle cx="526.0" cy="2139.2" r="8.2" fill="#3452A5" fill-opacity="0.62"/>
<circle cx="557.6" cy="2130.4" r="8.2" fill="#3452A5" fill-opacity="0.62"/>
<circle cx="520.2" cy="2123.6" r="8.2" fill="#3452A5" fill-opacity="0.62"/>
<circle cx="535.6" cy="2129.6" r="8.2" fill="#3452A5" fill-opacity="0.62"/>
<circle cx="537.9" cy="2133.8" r="8.2" fill="#44509F" fill-opacity="0.62"/>
<circle cx="549.7" cy="2104.8" r="8.2" fill="#3452A5" fill-opacity="0.62"/>
<circle cx="523.7" cy="2107.3" r="8.2" fill="#3452A5" fill-opacity="0.62"/>
<circle cx="548.4" cy="2133.6" r="8.2" fill="#3452A5" fill-opacity="0.62"/>
<circle cx="532.1" cy="2106.5" r="8.2" fill="#5A4698" fill-opacity="0.62"/>
<circle cx="540.7" cy="2129.5" r="8.2" fill="#3452A5" fill-opacity="0.62"/>
<circle cx="553.1" cy="2117.1" r="8.2" fill="#3452A5" fill-opacity="0.62"/>
<circle cx="542.5" cy="2146.1" r="8.2" fill="#44509F" fill-opacity="0.62"/>
<circle cx="554.9" cy="2126.8" r="8.2" fill="#44509F" fill-opacity="0.62"/>
<circle cx="527.5" cy="2114.1" r="8.2" fill="#44509F" fill-opacity="0.62"/>
<circle cx="551.6" cy="2125.8" r="8.2" fill="#3452A5" fill-opacity="0.62"/>
<circle cx="539.2" cy="2139.3" r="8.2" fill="#3452A5" fill-opacity="0.62"/>
<circle cx="527.9" cy="2110.7" r="8.2" fill="#3452A5" fill-opacity="0.62"/>
<circle cx="539.6" cy="2129.3" r="8.2" fill="#3452A5" fill-opacity="0.62"/>
<circle cx="513.7" cy="2124.1" r="8.2" fill="#44509F" fill-opacity="0.62"/>
<circle cx="549.4" cy="2115.6" r="8.2" fill="#44509F" fill-opacity="0.62"/>
<circle cx="521.2" cy="2116.4" r="8.2" fill="#3452A5" fill-opacity="0.62"/>
<circle cx="526.1" cy="2133.1" r="8.2" fill="#44509F" fill-opacity="0.62"/>
<circle cx="525.4" cy="2133.7" r="8.2" fill="#3452A5" fill-opacity="0.62"/>
<circle cx="553.1" cy="2131.6" r="8.2" fill="#3452A5" fill-opacity="0.62"/>
<circle cx="533.5" cy="2102.8" r="8.2" fill="#3452A5" fill-opacity="0.62"/>
<circle cx="547.4" cy="2112.5" r="8.2" fill="#3452A5" fill-opacity="0.62"/>
<circle cx="520.8" cy="2111.6" r="8.2" fill="#3452A5" fill-opacity="0.62"/>
<circle cx="528.3" cy="2108.8" r="8.2" fill="#3452A5" fill-opacity="0.62"/>
<circle cx="518.5" cy="2117.9" r="8.2" fill="#3452A5" fill-opacity="0.62"/>
<circle cx="537.1" cy="2133.9" r="8.2" fill="#3452A5" fill-opacity="0.62"/>
<circle cx="516.1" cy="2119.9" r="8.2" fill="#3452A5" fill-opacity="0.62"/>
<circle cx="543.6" cy="2142.6" r="8.2" fill="#3452A5" fill-opacity="0.62"/>
<circle cx="521.5" cy="2119.6" r="8.2" fill="#44509F" fill-opacity="0.62"/>
<circle cx="520.1" cy="2124.3" r="8.2" fill="#3452A5" fill-opacity="0.62"/>
<circle cx="597.3" cy="1989.5" r="8.2" fill="#3452A5" fill-opacity="0.62"/>
<circle cx="762.3" cy="2010.8" r="8.2" fill="#3452A5" fill-opacity="0.62"/>
<circle cx="625.2" cy="1952.8" r="8.2" fill="#3452A5" fill-opacity="0.62"/>
<circle cx="590.4" cy="1995.0" r="8.2" fill="#3452A5" fill-opacity="0.62"/>
<circle cx="870.5" cy="1819.5" r="8.2" fill="#3452A5" fill-opacity="0.62"/>
<circle cx="862.8" cy="1947.5" r="8.2" fill="#3452A5" fill-opacity="0.62"/>
<circle cx="577.0" cy="1993.0" r="8.2" fill="#3452A5" fill-opacity="0.62"/>
<circle cx="610.4" cy="1958.2" r="8.2" fill="#3452A5" fill-opacity="0.62"/>
<circle cx="840.8" cy="1847.3" r="8.2" fill="#3452A5" fill-opacity="0.62"/>
<circle cx="584.8" cy="2002.7" r="8.2" fill="#3452A5" fill-opacity="0.62"/>
<circle cx="818.1" cy="1867.8" r="8.2" fill="#3452A5" fill-opacity="0.62"/>
<circle cx="880.5" cy="1926.6" r="8.2" fill="#3452A5" fill-opacity="0.62"/>
<circle cx="675.6" cy="2070.3" r="8.2" fill="#3452A5" fill-opacity="0.62"/>
<circle cx="830.2" cy="1857.1" r="8.2" fill="#3452A5" fill-opacity="0.62"/>
<circle cx="662.2" cy="2079.3" r="8.2" fill="#3452A5" fill-opacity="0.62"/>
<circle cx="756.6" cy="1863.5" r="8.2" fill="#3452A5" fill-opacity="0.62"/>
<circle cx="803.7" cy="1996.8" r="8.2" fill="#3452A5" fill-opacity="0.62"/>
<circle cx="580.8" cy="2140.4" r="8.2" fill="#3452A5" fill-opacity="0.62"/>
<circle cx="699.9" cy="1921.4" r="8.2" fill="#3452A5" fill-opacity="0.62"/>
<circle cx="753.2" cy="2018.1" r="8.2" fill="#3452A5" fill-opacity="0.62"/>
<circle cx="713.5" cy="1914.5" r="8.2" fill="#3452A5" fill-opacity="0.62"/>
<circle cx="885.0" cy="1802.3" r="8.2" fill="#3452A5" fill-opacity="0.62"/>
<circle cx="581.5" cy="1988.0" r="8.2" fill="#3452A5" fill-opacity="0.62"/>
<circle cx="628.5" cy="2087.1" r="8.2" fill="#3452A5" fill-opacity="0.62"/>
<circle cx="679.6" cy="1929.2" r="8.2" fill="#3452A5" fill-opacity="0.62"/>
<circle cx="860.2" cy="1965.3" r="8.2" fill="#3452A5" fill-opacity="0.62"/>
<circle cx="685.9" cy="2060.6" r="8.2" fill="#3452A5" fill-opacity="0.62"/>
<circle cx="543.6" cy="2054.4" r="8.2" fill="#3452A5" fill-opacity="0.62"/>
<circle cx="663.4" cy="2062.6" r="8.2" fill="#3452A5" fill-opacity="0.62"/>
<circle cx="875.5" cy="1927.1" r="8.2" fill="#3452A5" fill-opacity="0.62"/>
<circle cx="954.5" cy="1824.2" r="8.2" fill="#3452A5" fill-opacity="0.62"/>
<circle cx="517.1" cy="2131.6" r="8.2" fill="#3452A5" fill-opacity="0.62"/>
<circle cx="586.6" cy="1988.7" r="8.2" fill="#3452A5" fill-opacity="0.62"/>
<circle cx="668.4" cy="1936.9" r="8.2" fill="#3452A5" fill-opacity="0.62"/>
<circle cx="633.7" cy="2082.8" r="8.2" fill="#3452A5" fill-opacity="0.62"/>
<circle cx="758.3" cy="2019.5" r="8.2" fill="#3452A5" fill-opacity="0.62"/>
<circle cx="647.5" cy="2075.9" r="8.2" fill="#3452A5" fill-opacity="0.62"/>
<circle cx="650.0" cy="2071.8" r="8.2" fill="#3452A5" fill-opacity="0.62"/>
<circle cx="752.3" cy="2020.0" r="8.2" fill="#3452A5" fill-opacity="0.62"/>
<circle cx="540.5" cy="2069.3" r="8.2" fill="#3452A5" fill-opacity="0.62"/>
<circle cx="551.4" cy="2043.0" r="8.2" fill="#3452A5" fill-opacity="0.62"/>
<circle cx="557.7" cy="2044.3" r="8.2" fill="#3452A5" fill-opacity="0.62"/>
<circle cx="900.9" cy="1893.0" r="8.2" fill="#3452A5" fill-opacity="0.62"/>
<circle cx="943.5" cy="1823.8" r="8.2" fill="#3452A5" fill-opacity="0.62"/>
<circle cx="595.9" cy="2117.7" r="8.2" fill="#3452A5" fill-opacity="0.62"/>
<circle cx="792.4" cy="1865.7" r="8.2" fill="#3452A5" fill-opacity="0.62"/>
<circle cx="584.7" cy="1975.4" r="8.2" fill="#3452A5" fill-opacity="0.62"/>
<circle cx="927.9" cy="1853.2" r="8.2" fill="#3452A5" fill-opacity="0.62"/>
<circle cx="757.0" cy="1887.1" r="8.2" fill="#3452A5" fill-opacity="0.62"/>
<circle cx="699.4" cy="1906.9" r="8.2" fill="#3452A5" fill-opacity="0.62"/>
<circle cx="825.4" cy="1850.2" r="8.2" fill="#3452A5" fill-opacity="0.62"/>
<circle cx="941.1" cy="1829.8" r="8.2" fill="#3452A5" fill-opacity="0.62"/>
<circle cx="821.2" cy="1841.8" r="8.2" fill="#3452A5" fill-opacity="0.62"/>
<circle cx="575.9" cy="2120.3" r="8.2" fill="#3452A5" fill-opacity="0.62"/>
<circle cx="735.1" cy="1903.5" r="8.2" fill="#3452A5" fill-opacity="0.62"/>
<circle cx="869.7" cy="1938.8" r="8.2" fill="#3452A5" fill-opacity="0.62"/>
<circle cx="780.9" cy="1880.0" r="8.2" fill="#3452A5" fill-opacity="0.62"/>
<circle cx="932.9" cy="1846.8" r="8.2" fill="#3452A5" fill-opacity="0.62"/>
<circle cx="845.9" cy="1960.0" r="8.2" fill="#3452A5" fill-opacity="0.62"/>
<circle cx="580.4" cy="2117.6" r="8.2" fill="#3452A5" fill-opacity="0.62"/>
<circle cx="846.2" cy="1959.1" r="8.2" fill="#3452A5" fill-opacity="0.62"/>
<circle cx="695.8" cy="1913.7" r="8.2" fill="#3452A5" fill-opacity="0.62"/>
<circle cx="877.2" cy="1921.8" r="8.2" fill="#3452A5" fill-opacity="0.62"/>
<circle cx="554.2" cy="2049.5" r="8.2" fill="#3452A5" fill-opacity="0.62"/>
<circle cx="889.4" cy="1815.1" r="8.2" fill="#3452A5" fill-opacity="0.62"/>
<circle cx="851.7" cy="1834.7" r="8.2" fill="#3452A5" fill-opacity="0.62"/>
<circle cx="836.1" cy="1843.5" r="8.2" fill="#3452A5" fill-opacity="0.62"/>
<circle cx="825.5" cy="1854.1" r="8.2" fill="#3452A5" fill-opacity="0.62"/>
<circle cx="943.5" cy="1873.3" r="8.2" fill="#3452A5" fill-opacity="0.62"/>
<circle cx="885.2" cy="1917.9" r="8.2" fill="#3452A5" fill-opacity="0.62"/>
<circle cx="928.6" cy="1882.0" r="8.2" fill="#3452A5" fill-opacity="0.62"/>
<circle cx="823.0" cy="1862.1" r="8.2" fill="#3452A5" fill-opacity="0.62"/>
<circle cx="520.9" cy="2075.8" r="8.2" fill="#3452A5" fill-opacity="0.62"/>
<circle cx="600.3" cy="2108.2" r="8.2" fill="#3452A5" fill-opacity="0.62"/>
<circle cx="781.8" cy="1860.9" r="8.2" fill="#3452A5" fill-opacity="0.62"/>
<circle cx="695.2" cy="2050.3" r="8.2" fill="#3452A5" fill-opacity="0.62"/>
<circle cx="595.9" cy="2112.7" r="8.2" fill="#3452A5" fill-opacity="0.62"/>
<circle cx="745.4" cy="1888.3" r="8.2" fill="#3452A5" fill-opacity="0.62"/>
<circle cx="716.0" cy="1913.9" r="8.2" fill="#3452A5" fill-opacity="0.62"/>
<circle cx="686.0" cy="1893.2" r="8.2" fill="#3452A5" fill-opacity="0.62"/>
<circle cx="590.7" cy="1995.2" r="8.2" fill="#3452A5" fill-opacity="0.62"/>
<circle cx="720.3" cy="1906.4" r="8.2" fill="#3452A5" fill-opacity="0.62"/>
<circle cx="510.3" cy="2120.1" r="8.2" fill="#3452A5" fill-opacity="0.62"/>
<circle cx="929.7" cy="1856.9" r="8.2" fill="#3452A5" fill-opacity="0.62"/>
<circle cx="681.8" cy="1920.9" r="8.2" fill="#3452A5" fill-opacity="0.62"/>
<circle cx="595.4" cy="2120.4" r="8.2" fill="#3452A5" fill-opacity="0.62"/>
<circle cx="542.9" cy="2059.9" r="8.2" fill="#3452A5" fill-opacity="0.62"/>
<circle cx="770.4" cy="2004.9" r="8.2" fill="#3452A5" fill-opacity="0.62"/>
<circle cx="772.6" cy="2021.3" r="8.2" fill="#3452A5" fill-opacity="0.62"/>
<circle cx="660.7" cy="2066.1" r="8.2" fill="#3452A5" fill-opacity="0.62"/>
<circle cx="519.8" cy="2076.8" r="8.2" fill="#3452A5" fill-opacity="0.62"/>
<circle cx="944.3" cy="1841.8" r="8.2" fill="#3452A5" fill-opacity="0.62"/>
<circle cx="705.1" cy="1919.4" r="8.2" fill="#3452A5" fill-opacity="0.62"/>
<circle cx="881.1" cy="1919.8" r="8.2" fill="#3452A5" fill-opacity="0.62"/>
<circle cx="942.7" cy="1873.7" r="8.2" fill="#3452A5" fill-opacity="0.62"/>
<circle cx="935.9" cy="1856.6" r="8.2" fill="#3452A5" fill-opacity="0.62"/>
<circle cx="865.2" cy="1928.4" r="8.2" fill="#3452A5" fill-opacity="0.62"/>
<circle cx="795.4" cy="1864.9" r="8.2" fill="#3452A5" fill-opacity="0.62"/>
<circle cx="790.0" cy="2000.9" r="8.2" fill="#3452A5" fill-opacity="0.62"/>
<circle cx="604.9" cy="2111.2" r="8.2" fill="#3452A5" fill-opacity="0.62"/>
<circle cx="569.9" cy="2130.0" r="8.2" fill="#3452A5" fill-opacity="0.62"/>
<circle cx="640.9" cy="1940.5" r="8.2" fill="#3452A5" fill-opacity="0.62"/>
<circle cx="693.5" cy="2051.7" r="8.2" fill="#3452A5" fill-opacity="0.62"/>
<circle cx="787.4" cy="1868.2" r="8.2" fill="#3452A5" fill-opacity="0.62"/>
<circle cx="768.7" cy="2018.2" r="8.2" fill="#3452A5" fill-opacity="0.62"/>
<circle cx="905.3" cy="1817.7" r="8.2" fill="#3452A5" fill-opacity="0.62"/>
<circle cx="609.5" cy="1957.4" r="8.2" fill="#3452A5" fill-opacity="0.62"/>
<circle cx="926.4" cy="1886.8" r="8.2" fill="#3452A5" fill-opacity="0.62"/>
<circle cx="509.8" cy="2099.2" r="8.2" fill="#3452A5" fill-opacity="0.62"/>
<circle cx="793.0" cy="2002.7" r="8.2" fill="#3452A5" fill-opacity="0.62"/>
<circle cx="911.0" cy="1812.8" r="8.2" fill="#3452A5" fill-opacity="0.62"/>
<circle cx="720.7" cy="1882.4" r="8.2" fill="#3452A5" fill-opacity="0.62"/>
<circle cx="520.1" cy="2145.2" r="8.2" fill="#3452A5" fill-opacity="0.62"/>
<circle cx="790.8" cy="2006.4" r="8.2" fill="#3452A5" fill-opacity="0.62"/>
<circle cx="736.7" cy="2057.9" r="8.2" fill="#3452A5" fill-opacity="0.62"/>
<circle cx="831.8" cy="1848.5" r="8.2" fill="#3452A5" fill-opacity="0.62"/>
<circle cx="717.3" cy="2043.1" r="8.2" fill="#3452A5" fill-opacity="0.62"/>
<circle cx="748.3" cy="1895.6" r="8.2" fill="#3452A5" fill-opacity="0.62"/>
<circle cx="567.4" cy="2019.5" r="8.2" fill="#3452A5" fill-opacity="0.62"/>
<circle cx="617.5" cy="1965.3" r="8.2" fill="#3452A5" fill-opacity="0.62"/>
<circle cx="782.4" cy="1879.4" r="8.2" fill="#3452A5" fill-opacity="0.62"/>
<circle cx="699.1" cy="2055.5" r="8.2" fill="#3452A5" fill-opacity="0.62"/>
<circle cx="601.6" cy="2106.0" r="8.2" fill="#3452A5" fill-opacity="0.62"/>
<circle cx="851.5" cy="1949.5" r="8.2" fill="#3452A5" fill-opacity="0.62"/>
<circle cx="765.0" cy="2025.8" r="8.2" fill="#3452A5" fill-opacity="0.62"/>
<circle cx="822.3" cy="1866.2" r="8.2" fill="#3452A5" fill-opacity="0.62"/>
<circle cx="833.1" cy="1975.2" r="8.2" fill="#3452A5" fill-opacity="0.62"/>
<circle cx="937.6" cy="1863.9" r="8.2" fill="#3452A5" fill-opacity="0.62"/>
<circle cx="846.1" cy="1976.7" r="8.2" fill="#3452A5" fill-opacity="0.62"/>
<circle cx="913.3" cy="1804.1" r="8.2" fill="#3452A5" fill-opacity="0.62"/>
<circle cx="543.0" cy="2064.2" r="8.2" fill="#3452A5" fill-opacity="0.62"/>
<circle cx="802.0" cy="2000.9" r="8.2" fill="#3452A5" fill-opacity="0.62"/>
<circle cx="503.1" cy="2088.5" r="8.2" fill="#3452A5" fill-opacity="0.62"/>
<circle cx="550.9" cy="2138.8" r="8.2" fill="#3452A5" fill-opacity="0.62"/>
<circle cx="881.4" cy="1812.3" r="8.2" fill="#3452A5" fill-opacity="0.62"/>
<circle cx="587.2" cy="1965.4" r="8.2" fill="#3452A5" fill-opacity="0.62"/>
<circle cx="847.6" cy="1956.8" r="8.2" fill="#3452A5" fill-opacity="0.62"/>
<circle cx="893.1" cy="1909.5" r="8.2" fill="#3452A5" fill-opacity="0.62"/>
<circle cx="751.5" cy="1889.8" r="8.2" fill="#3452A5" fill-opacity="0.62"/>
<circle cx="858.1" cy="1947.0" r="8.2" fill="#3452A5" fill-opacity="0.62"/>
<circle cx="761.7" cy="1885.7" r="8.2" fill="#3452A5" fill-opacity="0.62"/>
<circle cx="748.9" cy="1884.4" r="8.2" fill="#3452A5" fill-opacity="0.62"/>
<circle cx="912.1" cy="1801.6" r="8.2" fill="#3452A5" fill-opacity="0.62"/>
<circle cx="513.4" cy="2124.5" r="8.2" fill="#3452A5" fill-opacity="0.62"/>
<circle cx="830.2" cy="1977.1" r="8.2" fill="#3452A5" fill-opacity="0.62"/>
<circle cx="883.3" cy="1911.2" r="8.2" fill="#3452A5" fill-opacity="0.62"/>
<circle cx="674.2" cy="1932.2" r="8.2" fill="#3452A5" fill-opacity="0.62"/>
<circle cx="702.1" cy="2055.8" r="8.2" fill="#3452A5" fill-opacity="0.62"/>
<circle cx="608.3" cy="1967.7" r="8.2" fill="#3452A5" fill-opacity="0.62"/>
<circle cx="746.9" cy="1897.2" r="8.2" fill="#3452A5" fill-opacity="0.62"/>
<circle cx="339.0" cy="2179.0" r="8.2" fill="#3452A5" fill-opacity="0.62"/>
<circle cx="361.2" cy="2203.3" r="8.2" fill="#3452A5" fill-opacity="0.62"/>
<circle cx="386.8" cy="2179.9" r="8.2" fill="#3452A5" fill-opacity="0.62"/>
<circle cx="399.1" cy="2155.5" r="8.2" fill="#3452A5" fill-opacity="0.62"/>
<circle cx="416.4" cy="2178.2" r="8.2" fill="#3452A5" fill-opacity="0.62"/>
<circle cx="445.3" cy="2135.4" r="8.2" fill="#3452A5" fill-opacity="0.62"/>
<circle cx="450.2" cy="2184.0" r="8.2" fill="#3452A5" fill-opacity="0.62"/>
<circle cx="446.1" cy="2154.3" r="8.2" fill="#3452A5" fill-opacity="0.62"/>
<circle cx="448.6" cy="2165.0" r="8.2" fill="#3452A5" fill-opacity="0.62"/>
<circle cx="448.6" cy="2165.0" r="8.2" fill="#3452A5" fill-opacity="0.62"/>
<circle cx="461.8" cy="2148.6" r="8.2" fill="#3452A5" fill-opacity="0.62"/>
<circle cx="469.2" cy="2125.5" r="8.2" fill="#3452A5" fill-opacity="0.62"/>
<circle cx="476.6" cy="2081.8" r="8.2" fill="#3452A5" fill-opacity="0.62"/>
<circle cx="465.0" cy="2057.9" r="8.2" fill="#3452A5" fill-opacity="0.62"/>
<circle cx="469.2" cy="2052.1" r="8.2" fill="#3452A5" fill-opacity="0.62"/>
<circle cx="469.2" cy="2052.1" r="8.2" fill="#3452A5" fill-opacity="0.35"/>
<circle cx="483.2" cy="2048.0" r="8.2" fill="#3452A5" fill-opacity="0.62"/>
<circle cx="483.2" cy="2048.0" r="8.2" fill="#3452A5" fill-opacity="0.62"/>
<circle cx="497.2" cy="2062.0" r="8.2" fill="#3452A5" fill-opacity="0.62"/>
<circle cx="463.4" cy="2104.1" r="8.2" fill="#3452A5" fill-opacity="0.62"/>
<circle cx="476.6" cy="2097.5" r="8.2" fill="#3452A5" fill-opacity="0.62"/>
<circle cx="475.8" cy="2107.4" r="8.2" fill="#3452A5" fill-opacity="0.62"/>
<circle cx="475.8" cy="2107.4" r="8.2" fill="#3452A5" fill-opacity="0.62"/>
<circle cx="486.5" cy="2099.1" r="8.2" fill="#3452A5" fill-opacity="0.62"/>
<circle cx="504.6" cy="2074.4" r="8.2" fill="#3452A5" fill-opacity="0.62"/>
<circle cx="506.3" cy="2039.8" r="8.2" fill="#3452A5" fill-opacity="0.62"/>
<circle cx="512.8" cy="2046.4" r="8.2" fill="#3452A5" fill-opacity="0.62"/>
<circle cx="512.8" cy="2046.4" r="8.2" fill="#3452A5" fill-opacity="0.62"/>
<circle cx="514.5" cy="2055.4" r="8.2" fill="#3452A5" fill-opacity="0.62"/>
<circle cx="537.6" cy="2029.9" r="8.2" fill="#3452A5" fill-opacity="0.62"/>
<circle cx="534.3" cy="2041.4" r="8.2" fill="#3452A5" fill-opacity="0.62"/>
<circle cx="534.3" cy="2041.4" r="8.2" fill="#3452A5" fill-opacity="0.62"/>
<circle cx="526.0" cy="2044.7" r="8.2" fill="#3452A5" fill-opacity="0.62"/>
<circle cx="552.4" cy="2021.6" r="8.2" fill="#3452A5" fill-opacity="0.62"/>
<circle cx="554.0" cy="2039.8" r="8.2" fill="#3452A5" fill-opacity="0.62"/>
<circle cx="501.3" cy="2092.5" r="8.2" fill="#3452A5" fill-opacity="0.62"/>
<circle cx="501.3" cy="2092.5" r="8.2" fill="#3452A5" fill-opacity="0.62"/>
<circle cx="514.5" cy="2099.1" r="8.2" fill="#3452A5" fill-opacity="0.62"/>
<circle cx="514.5" cy="2099.1" r="8.2" fill="#3452A5" fill-opacity="0.62"/>
<circle cx="470.0" cy="2171.6" r="8.2" fill="#3452A5" fill-opacity="0.62"/>
<circle cx="470.0" cy="2171.6" r="8.2" fill="#3452A5" fill-opacity="0.62"/>
<circle cx="471.6" cy="2184.8" r="8.2" fill="#3452A5" fill-opacity="0.62"/>
<circle cx="471.6" cy="2184.8" r="8.2" fill="#3452A5" fill-opacity="0.62"/>
<circle cx="484.8" cy="2192.2" r="8.2" fill="#3452A5" fill-opacity="0.62"/>
<circle cx="499.7" cy="2187.3" r="8.2" fill="#3452A5" fill-opacity="0.62"/>
<circle cx="510.4" cy="2195.5" r="8.2" fill="#3452A5" fill-opacity="0.62"/>
<circle cx="521.9" cy="2188.9" r="8.2" fill="#3452A5" fill-opacity="0.62"/>
<circle cx="498.8" cy="2165.0" r="8.2" fill="#3452A5" fill-opacity="0.62"/>
<circle cx="498.8" cy="2165.0" r="8.2" fill="#3452A5" fill-opacity="0.62"/>
<circle cx="503.0" cy="2171.6" r="8.2" fill="#3452A5" fill-opacity="0.62"/>
<circle cx="493.1" cy="2155.2" r="8.2" fill="#3452A5" fill-opacity="0.62"/>
<circle cx="493.1" cy="2155.2" r="8.2" fill="#3452A5" fill-opacity="0.62"/>
<circle cx="479.9" cy="2148.6" r="8.2" fill="#3452A5" fill-opacity="0.62"/>
<circle cx="479.9" cy="2148.6" r="8.2" fill="#3452A5" fill-opacity="0.62"/>
<circle cx="484.8" cy="2132.1" r="8.2" fill="#3452A5" fill-opacity="0.62"/>
<circle cx="491.4" cy="2118.9" r="8.2" fill="#3452A5" fill-opacity="0.62"/>
<circle cx="494.7" cy="2125.5" r="8.2" fill="#3452A5" fill-opacity="0.62"/>
<circle cx="517.8" cy="2138.7" r="8.2" fill="#3452A5" fill-opacity="0.62"/>
<circle cx="517.8" cy="2138.7" r="8.2" fill="#3452A5" fill-opacity="0.62"/>
<circle cx="524.4" cy="2161.8" r="8.2" fill="#3452A5" fill-opacity="0.62"/>
<circle cx="524.4" cy="2161.8" r="8.2" fill="#3452A5" fill-opacity="0.62"/>
<circle cx="544.2" cy="2168.3" r="8.2" fill="#3452A5" fill-opacity="0.62"/>
<circle cx="545.8" cy="2145.3" r="8.2" fill="#3452A5" fill-opacity="0.62"/>
<circle cx="545.8" cy="2145.3" r="8.2" fill="#3452A5" fill-opacity="0.62"/>
<circle cx="550.8" cy="2155.2" r="8.2" fill="#3452A5" fill-opacity="0.62"/>
<circle cx="836.7" cy="1814.4" r="8.2" fill="#3452A5" fill-opacity="0.62"/>
<circle cx="804.7" cy="1844.3" r="8.2" fill="#3452A5" fill-opacity="0.62"/>
<circle cx="803.7" cy="1861.8" r="8.2" fill="#3452A5" fill-opacity="0.62"/>
<circle cx="835.6" cy="1857.7" r="8.2" fill="#3452A5" fill-opacity="0.62"/>
<circle cx="788.2" cy="1882.4" r="8.2" fill="#3452A5" fill-opacity="0.62"/>
<circle cx="866.5" cy="1824.7" r="8.2" fill="#3452A5" fill-opacity="0.62"/>
<circle cx="858.3" cy="1842.2" r="8.2" fill="#3452A5" fill-opacity="0.62"/>
<circle cx="858.3" cy="1842.2" r="8.2" fill="#3452A5" fill-opacity="0.62"/>
<circle cx="876.8" cy="1834.0" r="8.2" fill="#3452A5" fill-opacity="0.62"/>
<circle cx="891.3" cy="1822.7" r="8.2" fill="#3452A5" fill-opacity="0.62"/>
<circle cx="980.9" cy="1817.5" r="8.2" fill="#3452A5" fill-opacity="0.62"/>
<circle cx="1028.3" cy="1814.4" r="8.2" fill="#3452A5" fill-opacity="0.62"/>
<circle cx="1019.0" cy="1828.8" r="8.2" fill="#3452A5" fill-opacity="0.62"/>
<circle cx="1009.8" cy="1833.0" r="8.2" fill="#3452A5" fill-opacity="0.62"/>
<circle cx="1009.8" cy="1833.0" r="8.2" fill="#3452A5" fill-opacity="0.62"/>
<circle cx="996.4" cy="1822.7" r="8.2" fill="#3452A5" fill-opacity="0.62"/>
<circle cx="996.4" cy="1822.7" r="8.2" fill="#3452A5" fill-opacity="0.62"/>
<circle cx="990.2" cy="1837.1" r="8.2" fill="#3452A5" fill-opacity="0.62"/>
<circle cx="990.2" cy="1837.1" r="8.2" fill="#3452A5" fill-opacity="0.62"/>
<circle cx="994.3" cy="1847.4" r="8.2" fill="#3452A5" fill-opacity="0.62"/>
<circle cx="994.3" cy="1847.4" r="8.2" fill="#3452A5" fill-opacity="0.62"/>
<circle cx="977.8" cy="1851.5" r="8.2" fill="#3452A5" fill-opacity="0.62"/>
<circle cx="963.4" cy="1837.1" r="8.2" fill="#3452A5" fill-opacity="0.62"/>
<circle cx="951.0" cy="1847.4" r="8.2" fill="#3452A5" fill-opacity="0.62"/>
<circle cx="951.0" cy="1847.4" r="8.2" fill="#3452A5" fill-opacity="0.62"/>
<circle cx="944.8" cy="1841.2" r="8.2" fill="#3452A5" fill-opacity="0.62"/>
<circle cx="972.7" cy="1870.1" r="8.2" fill="#3452A5" fill-opacity="0.62"/>
<circle cx="963.4" cy="1876.2" r="8.2" fill="#3452A5" fill-opacity="0.62"/>
<circle cx="946.9" cy="1874.2" r="8.2" fill="#3452A5" fill-opacity="0.62"/>
<circle cx="946.9" cy="1874.2" r="8.2" fill="#3452A5" fill-opacity="0.62"/>
<circle cx="938.7" cy="1890.7" r="8.2" fill="#3452A5" fill-opacity="0.62"/>
<circle cx="938.7" cy="1890.7" r="8.2" fill="#3452A5" fill-opacity="0.62"/>
<circle cx="909.8" cy="1892.7" r="8.2" fill="#3452A5" fill-opacity="0.62"/>
<circle cx="903.6" cy="1915.4" r="8.2" fill="#3452A5" fill-opacity="0.62"/>
<circle cx="903.6" cy="1915.4" r="8.2" fill="#3452A5" fill-opacity="0.62"/>
<circle cx="924.2" cy="1915.4" r="8.2" fill="#3452A5" fill-opacity="0.62"/>
<circle cx="924.2" cy="1915.4" r="8.2" fill="#3452A5" fill-opacity="0.62"/>
<circle cx="911.9" cy="1931.9" r="8.2" fill="#3452A5" fill-opacity="0.62"/>
<circle cx="883.0" cy="1936.0" r="8.2" fill="#3452A5" fill-opacity="0.62"/>
<circle cx="883.0" cy="1936.0" r="8.2" fill="#3452A5" fill-opacity="0.62"/>
<circle cx="872.7" cy="1950.4" r="8.2" fill="#3452A5" fill-opacity="0.62"/>
<circle cx="962.4" cy="1916.4" r="8.2" fill="#3452A5" fill-opacity="0.62"/>
<circle cx="841.8" cy="1969.0" r="8.2" fill="#3452A5" fill-opacity="0.62"/>
<circle cx="821.2" cy="1993.7" r="8.2" fill="#3452A5" fill-opacity="0.62"/>
<circle cx="1019.5" cy="1751.6" r="8.2" fill="#3452A5" fill-opacity="0.62"/>
<circle cx="1019.5" cy="1751.6" r="8.2" fill="#3452A5" fill-opacity="0.62"/>
<circle cx="1057.0" cy="1795.4" r="8.2" fill="#3452A5" fill-opacity="0.62"/>
<circle cx="1016.8" cy="1783.8" r="8.2" fill="#3452A5" fill-opacity="0.62"/>
<circle cx="998.9" cy="1795.4" r="8.2" fill="#3452A5" fill-opacity="0.62"/>
<circle cx="986.4" cy="1766.8" r="8.2" fill="#3452A5" fill-opacity="0.62"/>
<circle cx="986.4" cy="1766.8" r="8.2" fill="#3452A5" fill-opacity="0.62"/>
<circle cx="997.1" cy="1773.9" r="8.2" fill="#3452A5" fill-opacity="0.62"/>
<circle cx="997.1" cy="1773.9" r="8.2" fill="#3452A5" fill-opacity="0.62"/>
<circle cx="972.1" cy="1782.9" r="8.2" fill="#3452A5" fill-opacity="0.62"/>
<circle cx="972.1" cy="1782.9" r="8.2" fill="#3452A5" fill-opacity="0.62"/>
<circle cx="948.9" cy="1788.2" r="8.2" fill="#3452A5" fill-opacity="0.62"/>
<circle cx="968.6" cy="1797.1" r="8.2" fill="#3452A5" fill-opacity="0.62"/>
<circle cx="968.6" cy="1797.1" r="8.2" fill="#3452A5" fill-opacity="0.62"/>
<circle cx="956.1" cy="1811.4" r="8.2" fill="#3452A5" fill-opacity="0.62"/>
<circle cx="956.1" cy="1811.4" r="8.2" fill="#3452A5" fill-opacity="0.62"/>
<circle cx="940.0" cy="1800.7" r="8.2" fill="#3452A5" fill-opacity="0.62"/>
<circle cx="940.0" cy="1800.7" r="8.2" fill="#3452A5" fill-opacity="0.62"/>
<circle cx="929.3" cy="1809.6" r="8.2" fill="#3452A5" fill-opacity="0.62"/>
<circle cx="929.3" cy="1809.6" r="8.2" fill="#3452A5" fill-opacity="0.62"/>
<circle cx="918.6" cy="1818.6" r="8.2" fill="#3452A5" fill-opacity="0.62"/>
<circle cx="918.6" cy="1818.6" r="8.2" fill="#3452A5" fill-opacity="0.62"/>
<circle cx="909.6" cy="1829.3" r="8.2" fill="#3452A5" fill-opacity="0.62"/>
<circle cx="909.6" cy="1829.3" r="8.2" fill="#3452A5" fill-opacity="0.62"/>
<circle cx="981.1" cy="1817.7" r="8.2" fill="#3452A5" fill-opacity="0.62"/>
<circle cx="1027.5" cy="1814.1" r="8.2" fill="#3452A5" fill-opacity="0.62"/>
<circle cx="1021.3" cy="1827.5" r="8.2" fill="#3452A5" fill-opacity="0.62"/>
<circle cx="997.1" cy="1823.9" r="8.2" fill="#3452A5" fill-opacity="0.62"/>
<circle cx="997.1" cy="1823.9" r="8.2" fill="#3452A5" fill-opacity="0.35"/>
<circle cx="1009.6" cy="1832.9" r="8.2" fill="#3452A5" fill-opacity="0.62"/>
<circle cx="1009.6" cy="1832.9" r="8.2" fill="#3452A5" fill-opacity="0.62"/>
<circle cx="988.2" cy="1834.6" r="8.2" fill="#3452A5" fill-opacity="0.62"/>
<circle cx="988.2" cy="1834.6" r="8.2" fill="#3452A5" fill-opacity="0.62"/>
<circle cx="965.0" cy="1834.6" r="8.2" fill="#3452A5" fill-opacity="0.62"/>
<circle cx="891.8" cy="1823.0" r="8.2" fill="#3452A5" fill-opacity="0.62"/>
<circle cx="866.8" cy="1824.8" r="8.2" fill="#3452A5" fill-opacity="0.62"/>
<circle cx="875.7" cy="1832.9" r="8.2" fill="#3452A5" fill-opacity="0.62"/>
<circle cx="875.7" cy="1832.9" r="8.2" fill="#3452A5" fill-opacity="0.62"/>
<circle cx="840.0" cy="1813.2" r="8.2" fill="#3452A5" fill-opacity="0.62"/>
<circle cx="1016.8" cy="1784.1" r="8.2" fill="#3452A5" fill-opacity="0.62"/>
<circle cx="999.6" cy="1795.8" r="8.2" fill="#3452A5" fill-opacity="0.62"/>
<circle cx="1027.7" cy="1814.3" r="8.2" fill="#3452A5" fill-opacity="0.62"/>
<circle cx="981.0" cy="1817.8" r="8.2" fill="#3452A5" fill-opacity="0.62"/>
<circle cx="996.2" cy="1823.3" r="8.2" fill="#3452A5" fill-opacity="0.62"/>
<circle cx="996.2" cy="1823.3" r="8.2" fill="#3452A5" fill-opacity="0.35"/>
<circle cx="1008.5" cy="1822.6" r="8.2" fill="#3452A5" fill-opacity="0.62"/>
<circle cx="1020.9" cy="1828.8" r="8.2" fill="#3452A5" fill-opacity="0.62"/>
<circle cx="1009.9" cy="1833.6" r="8.2" fill="#3452A5" fill-opacity="0.62"/>
<circle cx="1009.9" cy="1833.6" r="8.2" fill="#3452A5" fill-opacity="0.62"/>
<circle cx="989.3" cy="1837.7" r="8.2" fill="#3452A5" fill-opacity="0.62"/>
<circle cx="989.3" cy="1837.7" r="8.2" fill="#3452A5" fill-opacity="0.62"/>
<circle cx="993.4" cy="1845.9" r="8.2" fill="#3452A5" fill-opacity="0.62"/>
<circle cx="993.4" cy="1845.9" r="8.2" fill="#3452A5" fill-opacity="0.62"/>
<circle cx="987.9" cy="1850.0" r="8.2" fill="#3452A5" fill-opacity="0.62"/>
<circle cx="987.9" cy="1850.0" r="8.2" fill="#3452A5" fill-opacity="0.62"/>
<circle cx="977.6" cy="1847.3" r="8.2" fill="#3452A5" fill-opacity="0.62"/>
<circle cx="978.3" cy="1856.9" r="8.2" fill="#3452A5" fill-opacity="0.62"/>
<circle cx="972.8" cy="1869.3" r="8.2" fill="#3452A5" fill-opacity="0.62"/>
<circle cx="963.2" cy="1876.2" r="8.2" fill="#3452A5" fill-opacity="0.62"/>
<circle cx="964.6" cy="1837.7" r="8.2" fill="#3452A5" fill-opacity="0.62"/>
<circle cx="964.6" cy="1837.7" r="8.2" fill="#3452A5" fill-opacity="0.35"/>
<circle cx="954.9" cy="1848.7" r="8.2" fill="#3452A5" fill-opacity="0.62"/>
<circle cx="954.9" cy="1848.7" r="8.2" fill="#3452A5" fill-opacity="0.35"/>
<circle cx="942.6" cy="1843.2" r="8.2" fill="#3452A5" fill-opacity="0.62"/>
<circle cx="952.2" cy="1867.9" r="8.2" fill="#3452A5" fill-opacity="0.62"/>
<circle cx="945.3" cy="1874.8" r="8.2" fill="#3452A5" fill-opacity="0.62"/>
<circle cx="945.3" cy="1874.8" r="8.2" fill="#3452A5" fill-opacity="0.62"/>
<circle cx="939.8" cy="1891.3" r="8.2" fill="#3452A5" fill-opacity="0.62"/>
<circle cx="939.8" cy="1891.3" r="8.2" fill="#3452A5" fill-opacity="0.62"/>
<circle cx="924.0" cy="1916.0" r="8.2" fill="#3452A5" fill-opacity="0.62"/>
<circle cx="924.0" cy="1916.0" r="8.2" fill="#3452A5" fill-opacity="0.62"/>
<circle cx="908.2" cy="1911.9" r="8.2" fill="#3452A5" fill-opacity="0.62"/>
<circle cx="908.2" cy="1911.9" r="8.2" fill="#3452A5" fill-opacity="0.62"/>
<circle cx="911.7" cy="1933.8" r="8.2" fill="#3452A5" fill-opacity="0.62"/>
<circle cx="962.5" cy="1916.0" r="8.2" fill="#3452A5" fill-opacity="0.62"/>
<circle cx="909.6" cy="1894.0" r="8.2" fill="#3452A5" fill-opacity="0.62"/>
<circle cx="927.5" cy="1854.2" r="8.2" fill="#3452A5" fill-opacity="0.62"/>
<circle cx="687.7" cy="2094.3" r="8.2" fill="#3452A5" fill-opacity="0.62"/>
<circle cx="687.7" cy="2094.3" r="8.2" fill="#3452A5" fill-opacity="0.62"/>
<circle cx="655.5" cy="2092.5" r="8.2" fill="#3452A5" fill-opacity="0.62"/>
<circle cx="677.9" cy="2122.9" r="8.2" fill="#3452A5" fill-opacity="0.62"/>
<circle cx="726.1" cy="2067.5" r="8.2" fill="#3452A5" fill-opacity="0.62"/>
<circle cx="751.1" cy="2038.9" r="8.2" fill="#3452A5" fill-opacity="0.62"/>
<circle cx="736.8" cy="2047.9" r="8.2" fill="#3452A5" fill-opacity="0.62"/>
<circle cx="710.0" cy="2047.0" r="8.2" fill="#3452A5" fill-opacity="0.62"/>
<circle cx="701.1" cy="2063.9" r="8.2" fill="#3452A5" fill-opacity="0.62"/>
<circle cx="688.6" cy="2063.9" r="8.2" fill="#3452A5" fill-opacity="0.62"/>
<circle cx="670.7" cy="2072.9" r="8.2" fill="#3452A5" fill-opacity="0.62"/>
<circle cx="618.9" cy="2130.0" r="8.2" fill="#3452A5" fill-opacity="0.62"/>
<circle cx="597.5" cy="2138.9" r="8.2" fill="#3452A5" fill-opacity="0.62"/>
<circle cx="567.1" cy="2142.5" r="8.2" fill="#3452A5" fill-opacity="0.62"/>
<circle cx="567.1" cy="2142.5" r="8.2" fill="#3452A5" fill-opacity="0.62"/>
<circle cx="761.8" cy="2008.6" r="8.2" fill="#3452A5" fill-opacity="0.62"/>
<circle cx="792.1" cy="2003.2" r="8.2" fill="#3452A5" fill-opacity="0.62"/>
<circle cx="806.4" cy="1996.1" r="8.2" fill="#3452A5" fill-opacity="0.62"/>
<circle cx="690.7" cy="1912.3" r="8.2" fill="#3452A5" fill-opacity="0.62"/>
<circle cx="690.7" cy="1912.3" r="8.2" fill="#3452A5" fill-opacity="0.62"/>
<circle cx="609.5" cy="1933.8" r="8.2" fill="#3452A5" fill-opacity="0.62"/>
<circle cx="638.9" cy="1932.9" r="8.2" fill="#3452A5" fill-opacity="0.62"/>
<circle cx="622.9" cy="1947.1" r="8.2" fill="#3452A5" fill-opacity="0.62"/>
<circle cx="622.9" cy="1947.1" r="8.2" fill="#3452A5" fill-opacity="0.62"/>
<circle cx="621.1" cy="1959.6" r="8.2" fill="#3452A5" fill-opacity="0.62"/>
<circle cx="633.6" cy="1952.5" r="8.2" fill="#3452A5" fill-opacity="0.62"/>
<circle cx="615.7" cy="1938.2" r="8.2" fill="#3452A5" fill-opacity="0.62"/>
<circle cx="615.7" cy="1938.2" r="8.2" fill="#3452A5" fill-opacity="0.35"/>
<circle cx="590.7" cy="1991.8" r="8.2" fill="#3452A5" fill-opacity="0.62"/>
<circle cx="590.7" cy="1991.8" r="8.2" fill="#3452A5" fill-opacity="0.62"/>
<circle cx="610.4" cy="1990.0" r="8.2" fill="#3452A5" fill-opacity="0.62"/>
<circle cx="660.4" cy="1941.8" r="8.2" fill="#3452A5" fill-opacity="0.62"/>
<circle cx="647.9" cy="1954.3" r="8.2" fill="#3452A5" fill-opacity="0.62"/>
<circle cx="719.3" cy="1900.7" r="8.2" fill="#3452A5" fill-opacity="0.62"/>
<circle cx="737.1" cy="1897.1" r="8.2" fill="#3452A5" fill-opacity="0.62"/>
<circle cx="759.5" cy="1879.3" r="8.2" fill="#3452A5" fill-opacity="0.62"/>
<circle cx="805.0" cy="1845.4" r="8.2" fill="#3452A5" fill-opacity="0.62"/>
<circle cx="805.0" cy="1863.2" r="8.2" fill="#3452A5" fill-opacity="0.62"/>
<circle cx="788.9" cy="1882.9" r="8.2" fill="#3452A5" fill-opacity="0.62"/>
<circle cx="776.4" cy="1888.2" r="8.2" fill="#3452A5" fill-opacity="0.62"/>
<circle cx="609.0" cy="1934.3" r="8.2" fill="#3452A5" fill-opacity="0.62"/>
<circle cx="615.8" cy="1938.5" r="8.2" fill="#3452A5" fill-opacity="0.62"/>
<circle cx="615.8" cy="1938.5" r="8.2" fill="#3452A5" fill-opacity="0.35"/>
<circle cx="624.1" cy="1946.0" r="8.2" fill="#3452A5" fill-opacity="0.62"/>
<circle cx="624.1" cy="1946.0" r="8.2" fill="#3452A5" fill-opacity="0.62"/>
<circle cx="620.0" cy="1959.1" r="8.2" fill="#3452A5" fill-opacity="0.62"/>
<circle cx="637.8" cy="1933.0" r="8.2" fill="#3452A5" fill-opacity="0.62"/>
<circle cx="589.7" cy="1992.0" r="8.2" fill="#3452A5" fill-opacity="0.62"/>
<circle cx="589.7" cy="1992.0" r="8.2" fill="#3452A5" fill-opacity="0.62"/>
<circle cx="578.7" cy="1993.4" r="8.2" fill="#3452A5" fill-opacity="0.62"/>
<circle cx="571.9" cy="2005.8" r="8.2" fill="#3452A5" fill-opacity="0.62"/>
<circle cx="571.9" cy="2005.8" r="8.2" fill="#3452A5" fill-opacity="0.62"/>
<circle cx="554.0" cy="2012.6" r="8.2" fill="#3452A5" fill-opacity="0.62"/>
<circle cx="555.4" cy="2023.6" r="8.2" fill="#3452A5" fill-opacity="0.62"/>
<circle cx="537.5" cy="2031.9" r="8.2" fill="#3452A5" fill-opacity="0.62"/>
<circle cx="537.5" cy="2031.9" r="8.2" fill="#3452A5" fill-opacity="0.62"/>
<circle cx="534.8" cy="2044.2" r="8.2" fill="#3452A5" fill-opacity="0.62"/>
<circle cx="534.8" cy="2044.2" r="8.2" fill="#3452A5" fill-opacity="0.35"/>
<circle cx="505.9" cy="2041.5" r="8.2" fill="#3452A5" fill-opacity="0.62"/>
<circle cx="511.4" cy="2048.4" r="8.2" fill="#3452A5" fill-opacity="0.62"/>
<circle cx="511.4" cy="2048.4" r="8.2" fill="#3452A5" fill-opacity="0.35"/>
<circle cx="482.6" cy="2047.7" r="8.2" fill="#3452A5" fill-opacity="0.62"/>
<circle cx="482.6" cy="2047.7" r="8.2" fill="#3452A5" fill-opacity="0.62"/>
<circle cx="470.2" cy="2049.7" r="8.2" fill="#3452A5" fill-opacity="0.62"/>
<circle cx="466.1" cy="2056.6" r="8.2" fill="#3452A5" fill-opacity="0.62"/>
<circle cx="497.7" cy="2058.0" r="8.2" fill="#3452A5" fill-opacity="0.62"/>
<circle cx="613.1" cy="1987.9" r="8.2" fill="#3452A5" fill-opacity="0.62"/>
<circle cx="675.2" cy="2013.2" r="8.2" fill="#7A3C92" fill-opacity="0.22"/>
<circle cx="686.6" cy="2007.6" r="8.2" fill="#7A3C92" fill-opacity="0.22"/>
<circle cx="692.7" cy="2007.2" r="8.2" fill="#7A3C92" fill-opacity="0.22"/>
<circle cx="702.2" cy="2002.7" r="8.2" fill="#7A3C92" fill-opacity="0.22"/>
<circle cx="706.5" cy="1999.4" r="8.2" fill="#7A3C92" fill-opacity="0.22"/>
<circle cx="712.6" cy="1995.7" r="8.2" fill="#7A3C92" fill-opacity="0.22"/>
<circle cx="716.2" cy="1994.4" r="8.2" fill="#7A3C92" fill-opacity="0.22"/>
<circle cx="726.0" cy="1988.8" r="8.2" fill="#7A3C92" fill-opacity="0.22"/>
<circle cx="734.7" cy="1988.6" r="8.2" fill="#7A3C92" fill-opacity="0.22"/>
<circle cx="740.1" cy="1988.2" r="8.2" fill="#7A3C92" fill-opacity="0.22"/>
<circle cx="747.5" cy="1985.3" r="8.2" fill="#7A3C92" fill-opacity="0.22"/>
<circle cx="747.4" cy="1979.2" r="8.2" fill="#7A3C92" fill-opacity="0.22"/>
<circle cx="755.8" cy="1980.5" r="8.2" fill="#7A3C92" fill-opacity="0.22"/>
<circle cx="764.7" cy="1970.2" r="8.2" fill="#7A3C92" fill-opacity="0.22"/>
<circle cx="761.1" cy="1966.3" r="8.2" fill="#7A3C92" fill-opacity="0.22"/>
<circle cx="767.2" cy="1962.1" r="8.2" fill="#7A3C92" fill-opacity="0.22"/>
<circle cx="772.0" cy="1960.8" r="8.2" fill="#7A3C92" fill-opacity="0.22"/>
<circle cx="779.1" cy="1962.4" r="8.2" fill="#7A3C92" fill-opacity="0.22"/>
<circle cx="790.9" cy="1962.2" r="8.2" fill="#7A3C92" fill-opacity="0.22"/>
<circle cx="800.8" cy="1955.9" r="8.2" fill="#7A3C92" fill-opacity="0.22"/>
<circle cx="806.4" cy="1943.7" r="8.2" fill="#7A3C92" fill-opacity="0.22"/>
<circle cx="803.6" cy="1951.0" r="8.2" fill="#7A3C92" fill-opacity="0.22"/>
<circle cx="812.4" cy="1938.9" r="8.2" fill="#7A3C92" fill-opacity="0.22"/>
<circle cx="821.6" cy="1938.0" r="8.2" fill="#7A3C92" fill-opacity="0.22"/>
<circle cx="824.9" cy="1933.2" r="8.2" fill="#7A3C92" fill-opacity="0.22"/>
<circle cx="827.1" cy="1926.9" r="8.2" fill="#7A3C92" fill-opacity="0.22"/>
<circle cx="836.1" cy="1932.3" r="8.2" fill="#7A3C92" fill-opacity="0.22"/>
<circle cx="845.3" cy="1925.1" r="8.2" fill="#7A3C92" fill-opacity="0.22"/>
<circle cx="849.3" cy="1915.3" r="8.2" fill="#7A3C92" fill-opacity="0.22"/>
<circle cx="846.4" cy="1917.0" r="8.2" fill="#7A3C92" fill-opacity="0.22"/>
<circle cx="854.6" cy="1909.0" r="8.2" fill="#7A3C92" fill-opacity="0.22"/>
<circle cx="852.2" cy="1898.8" r="8.2" fill="#7A3C92" fill-opacity="0.22"/>
<circle cx="862.5" cy="1899.8" r="8.2" fill="#7A3C92" fill-opacity="0.22"/>
<circle cx="871.2" cy="1895.1" r="8.2" fill="#7A3C92" fill-opacity="0.22"/>
<circle cx="870.0" cy="1885.6" r="8.2" fill="#7A3C92" fill-opacity="0.22"/>
<circle cx="880.9" cy="1887.9" r="8.2" fill="#7A3C92" fill-opacity="0.22"/>
<circle cx="881.0" cy="1873.4" r="8.2" fill="#7A3C92" fill-opacity="0.22"/>
<circle cx="887.3" cy="1872.4" r="8.2" fill="#7A3C92" fill-opacity="0.22"/>
<circle cx="888.7" cy="1863.8" r="8.2" fill="#7A3C92" fill-opacity="0.22"/>
<circle cx="893.6" cy="1863.3" r="8.2" fill="#7A3C92" fill-opacity="0.22"/>
<polygon points="548.0,2060.0 529.0,2096.0 567.0,2096.0" fill="#E41E2E" fill-opacity="0.9"/>
<circle cx="503.0" cy="2115.1" r="8.0" fill="#7A3C92" fill-opacity="0.25"/>
<circle cx="517.3" cy="2130.1" r="8.0" fill="#7A3C92" fill-opacity="0.25"/>
<circle cx="508.9" cy="2110.0" r="8.0" fill="#7A3C92" fill-opacity="0.25"/>
<circle cx="519.3" cy="2125.5" r="8.0" fill="#7A3C92" fill-opacity="0.25"/>
<circle cx="515.9" cy="2104.4" r="8.0" fill="#7A3C92" fill-opacity="0.25"/>
<circle cx="526.5" cy="2120.3" r="8.0" fill="#7A3C92" fill-opacity="0.25"/>
<circle cx="521.1" cy="2100.6" r="8.0" fill="#7A3C92" fill-opacity="0.25"/>
<circle cx="531.0" cy="2114.7" r="8.0" fill="#7A3C92" fill-opacity="0.25"/>
<circle cx="527.9" cy="2095.6" r="8.0" fill="#7A3C92" fill-opacity="0.25"/>
<circle cx="536.9" cy="2110.3" r="8.0" fill="#7A3C92" fill-opacity="0.25"/>
<circle cx="529.3" cy="2090.4" r="8.0" fill="#7A3C92" fill-opacity="0.25"/>
<circle cx="540.4" cy="2104.3" r="8.0" fill="#7A3C92" fill-opacity="0.25"/>
<circle cx="534.7" cy="2084.8" r="8.0" fill="#7A3C92" fill-opacity="0.25"/>
<circle cx="547.9" cy="2098.8" r="8.0" fill="#7A3C92" fill-opacity="0.25"/>
<circle cx="539.1" cy="2080.7" r="8.0" fill="#7A3C92" fill-opacity="0.25"/>
<circle cx="550.4" cy="2094.3" r="8.0" fill="#7A3C92" fill-opacity="0.25"/>
<circle cx="545.7" cy="2073.7" r="8.0" fill="#7A3C92" fill-opacity="0.25"/>
<circle cx="556.7" cy="2088.0" r="8.0" fill="#7A3C92" fill-opacity="0.25"/>
<circle cx="550.2" cy="2073.0" r="8.0" fill="#7A3C92" fill-opacity="0.25"/>
<circle cx="564.1" cy="2086.7" r="8.0" fill="#7A3C92" fill-opacity="0.25"/>
<circle cx="556.0" cy="2067.9" r="8.0" fill="#7A3C92" fill-opacity="0.25"/>
<circle cx="567.4" cy="2083.7" r="8.0" fill="#7A3C92" fill-opacity="0.25"/>
<circle cx="562.4" cy="2063.3" r="8.0" fill="#7A3C92" fill-opacity="0.25"/>
<circle cx="575.0" cy="2079.3" r="8.0" fill="#7A3C92" fill-opacity="0.25"/>
<circle cx="569.6" cy="2060.4" r="8.0" fill="#7A3C92" fill-opacity="0.25"/>
<circle cx="582.1" cy="2074.5" r="8.0" fill="#7A3C92" fill-opacity="0.25"/>
<circle cx="576.7" cy="2055.8" r="8.0" fill="#7A3C92" fill-opacity="0.25"/>
<circle cx="585.8" cy="2069.9" r="8.0" fill="#7A3C92" fill-opacity="0.25"/>
<circle cx="581.6" cy="2053.1" r="8.0" fill="#7A3C92" fill-opacity="0.25"/>
<circle cx="590.7" cy="2066.4" r="8.0" fill="#7A3C92" fill-opacity="0.25"/>
<circle cx="587.4" cy="2047.9" r="8.0" fill="#7A3C92" fill-opacity="0.25"/>
<circle cx="598.1" cy="2062.6" r="8.0" fill="#7A3C92" fill-opacity="0.25"/>
<circle cx="593.4" cy="2043.7" r="8.0" fill="#7A3C92" fill-opacity="0.25"/>
<circle cx="602.8" cy="2056.6" r="8.0" fill="#7A3C92" fill-opacity="0.25"/>
<circle cx="600.2" cy="2041.7" r="8.0" fill="#7A3C92" fill-opacity="0.25"/>
<circle cx="609.2" cy="2056.7" r="8.0" fill="#7A3C92" fill-opacity="0.25"/>
<circle cx="606.4" cy="2035.5" r="8.0" fill="#7A3C92" fill-opacity="0.25"/>
<circle cx="617.1" cy="2050.8" r="8.0" fill="#7A3C92" fill-opacity="0.25"/>
<circle cx="610.8" cy="2034.0" r="8.0" fill="#7A3C92" fill-opacity="0.25"/>
<circle cx="622.2" cy="2047.4" r="8.0" fill="#7A3C92" fill-opacity="0.25"/>
<circle cx="616.7" cy="2032.2" r="8.0" fill="#7A3C92" fill-opacity="0.25"/>
<circle cx="628.7" cy="2046.6" r="8.0" fill="#7A3C92" fill-opacity="0.25"/>
<circle cx="624.0" cy="2033.8" r="8.0" fill="#7A3C92" fill-opacity="0.25"/>
<circle cx="636.0" cy="2046.7" r="8.0" fill="#7A3C92" fill-opacity="0.25"/>
<circle cx="632.9" cy="2033.0" r="8.0" fill="#7A3C92" fill-opacity="0.25"/>
<circle cx="642.1" cy="2044.4" r="8.0" fill="#7A3C92" fill-opacity="0.25"/>
<circle cx="640.1" cy="2029.6" r="8.0" fill="#7A3C92" fill-opacity="0.25"/>
<circle cx="651.4" cy="2042.3" r="8.0" fill="#7A3C92" fill-opacity="0.25"/>
<circle cx="644.0" cy="2022.7" r="8.0" fill="#7A3C92" fill-opacity="0.25"/>
<circle cx="657.1" cy="2039.2" r="8.0" fill="#7A3C92" fill-opacity="0.25"/>
<circle cx="650.5" cy="2021.0" r="8.0" fill="#7A3C92" fill-opacity="0.25"/>
<circle cx="660.3" cy="2034.2" r="8.0" fill="#7A3C92" fill-opacity="0.25"/>
<circle cx="657.8" cy="2014.3" r="8.0" fill="#7A3C92" fill-opacity="0.25"/>
<circle cx="667.7" cy="2028.8" r="8.0" fill="#7A3C92" fill-opacity="0.25"/>
<circle cx="663.7" cy="2013.6" r="8.0" fill="#7A3C92" fill-opacity="0.25"/>
<circle cx="673.9" cy="2026.2" r="8.0" fill="#7A3C92" fill-opacity="0.25"/>
<circle cx="666.5" cy="2008.5" r="8.0" fill="#7A3C92" fill-opacity="0.25"/>
<circle cx="678.8" cy="2022.4" r="8.0" fill="#7A3C92" fill-opacity="0.25"/>
<circle cx="672.8" cy="2006.6" r="8.0" fill="#7A3C92" fill-opacity="0.25"/>
<circle cx="685.6" cy="2019.4" r="8.0" fill="#7A3C92" fill-opacity="0.25"/>
<circle cx="511.0" cy="2123.2" r="8.0" fill="#D60A78" fill-opacity="0.42"/>
<circle cx="516.4" cy="2116.8" r="8.0" fill="#D60A78" fill-opacity="0.42"/>
<circle cx="523.6" cy="2110.9" r="8.0" fill="#E6124F" fill-opacity="0.42"/>
<circle cx="530.1" cy="2104.6" r="8.0" fill="#E6124F" fill-opacity="0.42"/>
<circle cx="535.3" cy="2100.0" r="8.0" fill="#E6124F" fill-opacity="0.42"/>
<circle cx="540.1" cy="2095.1" r="8.0" fill="#E81A3A" fill-opacity="0.42"/>
<circle cx="544.3" cy="2087.1" r="8.0" fill="#E81A3A" fill-opacity="0.42"/>
<circle cx="552.2" cy="2082.8" r="8.0" fill="#E81A3A" fill-opacity="0.42"/>
<circle cx="558.5" cy="2078.7" r="8.0" fill="#E81A3A" fill-opacity="0.42"/>
<circle cx="566.0" cy="2074.8" r="8.0" fill="#E81A3A" fill-opacity="0.42"/>
<circle cx="572.9" cy="2068.8" r="8.0" fill="#E81A3A" fill-opacity="0.42"/>
<circle cx="578.5" cy="2063.1" r="8.0" fill="#E81A3A" fill-opacity="0.42"/>
<circle cx="584.6" cy="2058.2" r="8.0" fill="#E8145A" fill-opacity="0.42"/>
<circle cx="593.9" cy="2053.6" r="8.0" fill="#E8145A" fill-opacity="0.42"/>
<circle cx="599.8" cy="2049.4" r="8.0" fill="#E8145A" fill-opacity="0.42"/>
<circle cx="608.0" cy="2046.3" r="8.0" fill="#E8145A" fill-opacity="0.42"/>
<circle cx="613.0" cy="2043.6" r="8.0" fill="#B02080" fill-opacity="0.42"/>
<circle cx="623.1" cy="2042.6" r="8.0" fill="#B02080" fill-opacity="0.42"/>
<circle cx="629.3" cy="2039.5" r="8.0" fill="#CC0F7E" fill-opacity="0.42"/>
<circle cx="638.8" cy="2037.7" r="8.0" fill="#CC0F7E" fill-opacity="0.42"/>
<circle cx="645.5" cy="2034.9" r="8.0" fill="#CC0F7E" fill-opacity="0.42"/>
<circle cx="652.8" cy="2030.5" r="8.0" fill="#CC0F7E" fill-opacity="0.42"/>
<circle cx="659.6" cy="2024.2" r="8.0" fill="#CC0F7E" fill-opacity="0.42"/>
<circle cx="666.6" cy="2020.3" r="8.0" fill="#CC0F7E" fill-opacity="0.42"/>
<circle cx="671.9" cy="2014.8" r="8.0" fill="#CC0F7E" fill-opacity="0.42"/>
<circle cx="680.4" cy="2011.6" r="8.0" fill="#CC0F7E" fill-opacity="0.42"/>
<circle cx="515.1" cy="2120.1" r="8.2" fill="#C8127E" fill-opacity="0.42"/>
<circle cx="520.0" cy="2116.0" r="8.2" fill="#C8127E" fill-opacity="0.42"/>
<circle cx="524.7" cy="2111.9" r="8.2" fill="#C8127E" fill-opacity="0.42"/>
<circle cx="530.0" cy="2106.0" r="8.2" fill="#EA1652" fill-opacity="0.42"/>
<circle cx="535.7" cy="2100.9" r="8.2" fill="#EA1652" fill-opacity="0.42"/>
<circle cx="545.3" cy="2092.6" r="8.2" fill="#EA1652" fill-opacity="0.42"/>
<circle cx="550.8" cy="2081.6" r="8.2" fill="#E41E2E" fill-opacity="0.42"/>
<circle cx="557.7" cy="2076.2" r="8.2" fill="#E41E2E" fill-opacity="0.42"/>
<circle cx="563.0" cy="2074.0" r="8.2" fill="#E41E2E" fill-opacity="0.42"/>
<circle cx="568.7" cy="2073.4" r="8.2" fill="#EA1652" fill-opacity="0.42"/>
<circle cx="570.7" cy="2069.3" r="8.2" fill="#EA1652" fill-opacity="0.42"/>
<circle cx="579.6" cy="2062.1" r="8.2" fill="#EA1652" fill-opacity="0.42"/>
<circle cx="579.7" cy="2062.4" r="8.2" fill="#EA1652" fill-opacity="0.42"/>
<circle cx="588.0" cy="2056.0" r="8.2" fill="#EA1652" fill-opacity="0.42"/>
<circle cx="597.5" cy="2051.4" r="8.2" fill="#EA1652" fill-opacity="0.42"/>
<circle cx="596.2" cy="2051.4" r="8.2" fill="#EA1652" fill-opacity="0.42"/>
<circle cx="604.0" cy="2046.0" r="8.2" fill="#EA1652" fill-opacity="0.42"/>
<circle cx="611.8" cy="2042.5" r="8.2" fill="#EA1652" fill-opacity="0.42"/>
<circle cx="609.9" cy="2041.8" r="8.2" fill="#EA1652" fill-opacity="0.42"/>
<circle cx="623.6" cy="2048.7" r="8.2" fill="#A3248A" fill-opacity="0.42"/>
<circle cx="630.0" cy="2041.0" r="8.2" fill="#C8127E" fill-opacity="0.42"/>
<circle cx="638.6" cy="2038.9" r="8.2" fill="#C8127E" fill-opacity="0.42"/>
<circle cx="647.5" cy="2033.6" r="8.2" fill="#C8127E" fill-opacity="0.42"/>
<circle cx="647.0" cy="2033.6" r="8.2" fill="#C8127E" fill-opacity="0.42"/>
<circle cx="658.0" cy="2025.0" r="8.2" fill="#C8127E" fill-opacity="0.42"/>
<circle cx="664.8" cy="2021.2" r="8.2" fill="#C8127E" fill-opacity="0.42"/>
<circle cx="670.7" cy="2017.5" r="8.2" fill="#C8127E" fill-opacity="0.42"/>
<circle cx="677.9" cy="2012.1" r="8.2" fill="#C8127E" fill-opacity="0.42"/>
<circle cx="678.6" cy="2013.0" r="8.2" fill="#C8127E" fill-opacity="0.42"/>
<circle cx="660.0" cy="2003.2" r="8.2" fill="#A3248A" fill-opacity="0.42"/>
<circle cx="669.3" cy="2011.4" r="8.2" fill="#C8127E" fill-opacity="0.42"/>
<circle cx="680.0" cy="2011.4" r="8.2" fill="#C8127E" fill-opacity="0.42"/>
<circle cx="651.4" cy="2009.6" r="8.2" fill="#C8127E" fill-opacity="0.42"/>
<circle cx="761.8" cy="1988.9" r="8.2" fill="#A3248A" fill-opacity="0.42"/>
<circle cx="812.1" cy="1938.2" r="8.2" fill="#A3248A" fill-opacity="0.42"/>
<circle cx="826.4" cy="1931.1" r="8.2" fill="#C8127E" fill-opacity="0.42"/>
<circle cx="781.8" cy="1957.9" r="8.2" fill="#C8127E" fill-opacity="0.42"/>
<circle cx="762.1" cy="1984.6" r="8.2" fill="#A3248A" fill-opacity="0.42"/>
<line x1="264.0" y1="2572.6" x2="1198.4" y2="1376.0" stroke="#000" stroke-width="2.8"/>
</g>
<rect x="264.0" y="1376.0" width="934.4000000000001" height="1196.6" fill="none" stroke="#262626" stroke-width="2.2"/>
<line x1="305.8" y1="2572.6" x2="305.8" y2="2579.1" stroke="#262626" stroke-width="2.2"/>
<text x="305.8" y="2618.0" text-anchor="middle" font-size="51.5" fill="#4D4D4D">−0.6</text>
<line x1="518.4" y1="2572.6" x2="518.4" y2="2579.1" stroke="#262626" stroke-width="2.2"/>
<text x="518.4" y="2618.0" text-anchor="middle" font-size="51.5" fill="#4D4D4D">−0.3</text>
<line x1="731.0" y1="2572.6" x2="731.0" y2="2579.1" stroke="#262626" stroke-width="2.2"/>
<text x="731.0" y="2618.0" text-anchor="middle" font-size="51.5" fill="#4D4D4D">0.0</text>
<line x1="943.6" y1="2572.6" x2="943.6" y2="2579.1" stroke="#262626" stroke-width="2.2"/>
<text x="943.6" y="2618.0" text-anchor="middle" font-size="51.5" fill="#4D4D4D">0.3</text>
<line x1="1156.2" y1="2572.6" x2="1156.2" y2="2579.1" stroke="#262626" stroke-width="2.2"/>
<text x="1156.2" y="2618.0" text-anchor="middle" font-size="51.5" fill="#4D4D4D">0.6</text>
<line x1="257.5" y1="2518.4" x2="264.0" y2="2518.4" stroke="#262626" stroke-width="2.2"/>
<text x="253.0" y="2535.4" text-anchor="end" font-size="51.5" fill="#4D4D4D">−0.6</text>
<line x1="257.5" y1="2246.4" x2="264.0" y2="2246.4" stroke="#262626" stroke-width="2.2"/>
<text x="253.0" y="2263.4" text-anchor="end" font-size="51.5" fill="#4D4D4D">−0.3</text>
<line x1="257.5" y1="1974.4" x2="264.0" y2="1974.4" stroke="#262626" stroke-width="2.2"/>
<text x="253.0" y="1991.4" text-anchor="end" font-size="51.5" fill="#4D4D4D">0.0</text>
<line x1="257.5" y1="1702.4" x2="264.0" y2="1702.4" stroke="#262626" stroke-width="2.2"/>
<text x="253.0" y="1719.4" text-anchor="end" font-size="51.5" fill="#4D4D4D">0.3</text>
<line x1="257.5" y1="1430.4" x2="264.0" y2="1430.4" stroke="#262626" stroke-width="2.2"/>
<text x="253.0" y="1447.4" text-anchor="end" font-size="51.5" fill="#4D4D4D">0.6</text>
<text x="0" y="63.5" font-size="85" fill="#1A1A1A">a</text>
<text x="0" y="1402" font-size="85" fill="#1A1A1A">b</text>
<text x="729.8" y="1303.5" text-anchor="middle" font-size="65" fill="#000">RBD −log(10) P−value</text>
<text transform="translate(139.4,600.2) rotate(-90)" x="0" y="0" text-anchor="middle" font-size="65" fill="#000">S −log(10) P−value</text>
<text x="731.5" y="2679.2" text-anchor="middle" font-size="65" fill="#000">RBD beta coefficient</text>
<text transform="translate(139.4,1974.6) rotate(-90)" x="0" y="0" text-anchor="middle" font-size="65" fill="#000">S beta coefficient</text>
<text x="1236" y="505.2" font-size="68" fill="#000">R2</text>
<rect x="1237.2" y="545.2" width="39.8" height="195.5999999999999" fill="url(#g0)"/>
<text x="1310" y="561.8" font-size="51.6" fill="#000">1.00</text>
<line x1="1237.2" y1="595.1" x2="1245.4" y2="595.1" stroke="#fff" stroke-width="1.2"/>
<line x1="1269" y1="595.1" x2="1277" y2="595.1" stroke="#fff" stroke-width="1.2"/>
<text x="1310" y="611.7" font-size="51.6" fill="#000">0.75</text>
<line x1="1237.2" y1="645.0" x2="1245.4" y2="645.0" stroke="#fff" stroke-width="1.2"/>
<line x1="1269" y1="645.0" x2="1277" y2="645.0" stroke="#fff" stroke-width="1.2"/>
<text x="1310" y="661.6" font-size="51.6" fill="#000">0.50</text>
<line x1="1237.2" y1="694.9" x2="1245.4" y2="694.9" stroke="#fff" stroke-width="1.2"/>
<line x1="1269" y1="694.9" x2="1277" y2="694.9" stroke="#fff" stroke-width="1.2"/>
<text x="1310" y="711.5" font-size="51.6" fill="#000">0.25</text>
<text x="1236" y="1879.8" font-size="68" fill="#000">R2</text>
<rect x="1237.2" y="1919.6" width="39.8" height="201.20000000000027" fill="url(#g1)"/>
<text x="1310" y="1936.2" font-size="51.6" fill="#000">1.00</text>
<line x1="1237.2" y1="1969.5" x2="1245.4" y2="1969.5" stroke="#fff" stroke-width="1.2"/>
<line x1="1269" y1="1969.5" x2="1277" y2="1969.5" stroke="#fff" stroke-width="1.2"/>
<text x="1310" y="1986.1" font-size="51.6" fill="#000">0.75</text>
<line x1="1237.2" y1="2019.4" x2="1245.4" y2="2019.4" stroke="#fff" stroke-width="1.2"/>
<line x1="1269" y1="2019.4" x2="1277" y2="2019.4" stroke="#fff" stroke-width="1.2"/>
<text x="1310" y="2036.0" font-size="51.6" fill="#000">0.50</text>
<line x1="1237.2" y1="2069.3" x2="1245.4" y2="2069.3" stroke="#fff" stroke-width="1.2"/>
<line x1="1269" y1="2069.3" x2="1277" y2="2069.3" stroke="#fff" stroke-width="1.2"/>
<text x="1310" y="2085.9" font-size="51.6" fill="#000">0.25</text>
<line x1="1114.3" y1="428.4" x2="1226" y2="286.4" stroke="#1A1A1A" stroke-width="6.5"/>
<text x="1241" y="292.1" font-size="66" fill="#1A1A1A">rs1130456</text>
</svg></body></html>
